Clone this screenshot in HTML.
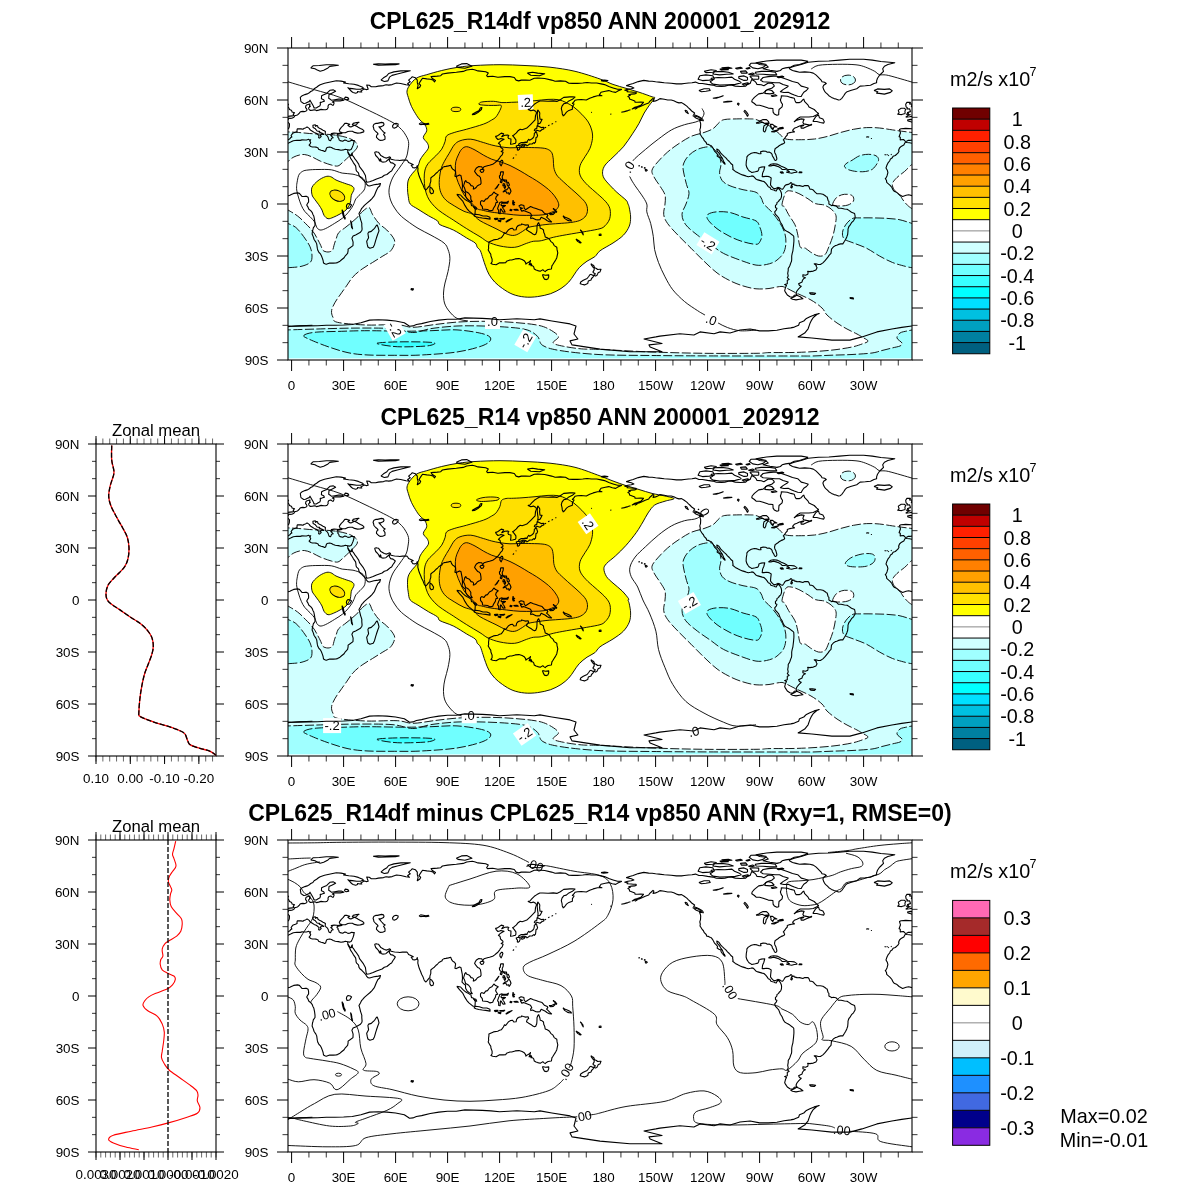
<!DOCTYPE html>
<html><head><meta charset="utf-8"><title>vp850</title><style>html,body{margin:0;padding:0;background:#fff;}svg{display:block}</style></head><body>
<svg width="1200" height="1200" viewBox="0 0 1200 1200" font-family="'Liberation Sans', sans-serif">
<rect width="1200" height="1200" fill="#fff"/>
<g transform="translate(288.0,48.0)">
<svg width="624" height="312" viewBox="0 0 624 312" overflow="hidden"><rect x="-5" y="-5" width="640" height="330" fill="#d0ffff"/>
<path d="M-5.0,-5.0 L630.0,-5.0 L630.0,84.5 L624.0,84.5 C622.3,84.3 616.9,83.6 613.6,83.2 C610.4,82.8 608.2,82.4 604.5,81.9 C600.8,81.4 595.8,80.4 591.5,80.0 C587.2,79.6 582.8,79.4 578.5,79.6 C574.2,79.8 569.8,80.5 565.5,81.3 C561.2,82.1 556.8,83.3 552.5,84.5 C548.2,85.7 543.8,87.3 539.5,88.4 C535.2,89.5 530.8,90.5 526.5,91.0 C522.2,91.5 518.3,91.7 513.5,91.7 C508.7,91.7 501.6,92.0 497.9,91.0 C494.2,90.0 493.8,87.8 491.4,85.8 C489.0,83.8 486.2,81.1 483.6,79.3 C481.0,77.5 478.4,76.1 475.8,74.8 C473.2,73.5 470.4,72.2 468.0,71.5 C465.6,70.8 464.8,71.0 461.5,70.9 C458.2,70.8 452.6,70.8 448.5,70.9 C444.4,71.0 439.6,71.0 436.8,71.5 C434.0,72.0 433.6,72.6 431.6,74.1 C429.7,75.6 427.7,78.9 425.1,80.6 C422.5,82.3 419.7,83.2 416.0,84.5 C412.3,85.8 407.3,86.5 403.0,88.4 C398.7,90.4 393.9,93.6 390.0,96.2 C386.1,98.8 382.9,101.2 379.6,104.0 C376.4,106.8 373.1,110.1 370.5,113.1 C367.9,116.1 364.6,119.4 364.0,122.2 C363.4,125.0 365.3,127.4 366.6,130.0 C367.9,132.6 370.1,135.0 371.8,137.8 C373.5,140.6 376.1,143.9 377.0,146.9 C377.9,149.9 377.2,152.8 377.0,156.0 C376.8,159.2 375.3,163.2 375.7,166.4 C376.1,169.7 377.2,172.0 379.6,175.5 C382.0,179.0 386.1,183.1 390.0,187.2 C393.9,191.3 398.7,195.9 403.0,200.2 C407.3,204.5 411.7,209.1 416.0,213.2 C420.3,217.3 424.7,221.7 429.0,224.9 C433.3,228.2 437.7,230.5 442.0,232.7 C446.3,234.9 450.7,236.6 455.0,237.9 C459.3,239.2 463.7,240.4 468.0,240.8 C472.3,241.2 477.1,240.9 481.0,240.5 C484.9,240.1 488.8,238.8 491.4,238.6 C494.0,238.4 494.0,238.2 496.6,239.2 C499.2,240.2 502.6,242.3 507.0,244.4 C511.4,246.5 518.5,249.4 523.0,252.0 C527.5,254.6 531.3,257.5 534.0,260.0 C536.7,262.5 536.5,264.5 539.0,267.0 C541.5,269.5 545.7,272.7 549.0,275.0 C552.3,277.3 555.7,279.2 559.0,281.0 C562.3,282.8 566.5,284.7 569.0,286.0 C571.5,287.3 572.2,287.8 574.0,289.0 C575.8,290.2 580.0,291.8 580.0,293.0 C580.0,294.2 576.7,295.0 574.0,296.0 C571.3,297.0 568.2,298.1 564.0,299.0 C559.8,299.9 554.0,300.8 549.0,301.5 C544.0,302.2 539.0,302.6 534.0,303.0 C529.0,303.4 524.0,303.8 519.0,304.0 C514.0,304.2 510.3,304.4 504.0,304.5 C497.7,304.6 487.0,304.5 481.0,304.6 C475.0,304.7 478.8,305.2 468.0,305.3 C457.2,305.4 433.3,305.5 416.0,305.3 C398.7,305.1 381.3,304.6 364.0,304.0 C346.7,303.4 323.7,301.9 312.0,301.4 C300.3,300.9 299.9,301.4 293.8,300.9 C287.7,300.4 280.4,299.3 275.6,298.3 C270.8,297.3 266.1,296.5 265.2,294.9 C264.3,293.2 271.3,290.8 270.4,288.4 C269.5,286.0 263.9,282.6 260.0,280.6 C256.1,278.7 253.5,277.8 247.0,276.7 C240.5,275.6 229.7,274.7 221.0,274.1 C212.3,273.5 203.7,273.3 195.0,273.3 C186.3,273.3 177.2,273.5 169.0,274.1 C160.8,274.7 153.0,275.8 145.6,276.7 C138.2,277.6 130.9,279.3 124.8,279.3 C118.7,279.3 117.0,277.1 109.2,276.7 C101.4,276.3 88.0,277.4 78.0,277.0 C68.0,276.6 54.9,275.6 49.4,274.3 C43.9,273.0 45.9,271.1 44.9,269.1 C43.9,267.2 43.3,265.0 43.6,262.6 C43.9,260.2 45.4,257.4 46.8,254.8 C48.2,252.2 50.0,249.8 52.0,247.0 C54.0,244.2 56.3,240.9 58.5,237.9 C60.7,234.9 62.4,231.6 65.0,228.8 C67.6,226.0 70.8,223.4 74.1,221.0 C77.3,218.6 81.0,216.7 84.5,214.5 C88.0,212.3 91.9,209.9 94.9,208.0 C97.9,206.1 100.8,205.0 102.7,202.8 C104.7,200.6 106.2,197.2 106.6,195.0 C107.0,192.8 106.6,192.0 105.3,189.8 C104.0,187.6 101.2,184.4 98.8,182.0 C96.4,179.6 93.4,178.1 91.0,175.5 C88.6,172.9 86.2,169.1 84.5,166.4 C82.8,163.7 82.6,160.0 81.0,159.5 C79.4,159.0 76.5,161.8 74.7,163.3 C72.9,164.8 71.9,166.8 70.0,168.7 C68.1,170.6 65.5,172.8 63.3,174.7 C61.1,176.6 58.8,178.3 56.7,180.0 C54.6,181.7 52.2,182.8 50.7,184.7 C49.2,186.6 48.8,189.2 48.0,191.3 C47.2,193.4 46.5,195.5 46.0,197.3 C45.5,199.1 45.3,201.0 44.7,202.0 C44.1,203.0 43.3,203.2 42.5,203.5 C41.7,203.8 40.9,204.0 40.0,204.0 C39.1,204.0 37.9,203.8 37.0,203.5 C36.1,203.2 35.4,203.0 34.7,202.0 C34.0,201.0 33.5,199.0 32.7,197.3 C31.9,195.6 31.0,193.9 30.0,192.0 C29.0,190.1 28.0,188.0 26.7,186.0 C25.4,184.0 23.6,181.8 22.0,180.0 C20.4,178.2 19.0,177.0 17.3,175.3 C15.6,173.6 13.8,171.6 12.0,170.0 C10.2,168.4 8.7,167.3 6.7,166.0 C4.7,164.7 1.1,162.7 0.0,162.0 L-5.0,162.0 L-5.0,113.7 L0.0,113.7 C0.5,113.2 1.8,111.5 3.3,110.5 C4.8,109.5 6.5,108.5 8.7,107.8 C10.9,107.1 13.8,106.3 16.3,106.5 C18.8,106.7 21.1,107.7 23.8,108.8 C26.5,109.9 29.2,111.8 32.5,113.2 C35.8,114.6 40.4,116.2 43.3,117.0 C46.2,117.8 48.0,118.4 49.8,118.0 C51.6,117.6 52.4,116.3 54.2,114.8 C56.0,113.3 58.7,110.7 60.7,108.8 C62.7,106.9 64.7,105.0 66.1,103.4 C67.5,101.8 68.9,100.5 69.3,99.1 C69.7,97.7 69.4,96.1 68.3,94.8 C67.2,93.5 65.1,92.1 62.8,91.0 C60.4,89.9 57.5,89.0 54.2,88.3 C51.0,87.6 46.9,87.0 43.3,86.6 C39.7,86.2 36.1,86.3 32.5,86.1 C28.9,85.9 25.3,85.8 21.7,85.5 C18.1,85.2 14.4,84.8 10.8,84.5 C7.2,84.2 1.8,84.0 0.0,83.9 L-5.0,83.9 L-5.0,-5.0Z" fill="#ffffff"/>
<path d="M630.0,116.8 L623.3,116.8 C622.2,117.9 618.9,121.4 616.5,123.5 C614.1,125.6 611.0,127.5 609.0,129.5 C607.0,131.5 605.0,133.5 604.5,135.5 C604.0,137.5 604.8,139.5 606.0,141.5 C607.2,143.5 610.5,145.8 612.0,147.5 C613.5,149.2 613.8,150.4 615.0,152.0 C616.2,153.6 618.1,155.9 619.5,157.3 C620.9,158.7 622.7,159.8 623.3,160.3 L630.0,160.3 L630.0,116.8Z" fill="#ffffff"/>
<path d="M494.0,156.5 C494.2,154.1 496.4,146.6 497.9,144.3 C499.4,142.1 500.9,142.8 503.1,143.0 C505.3,143.2 508.1,144.3 510.9,145.6 C513.7,146.9 517.3,149.2 520.0,150.8 C522.7,152.5 524.8,154.6 527.0,155.5 C529.2,156.4 531.4,156.2 533.0,156.5 C534.6,156.8 535.2,156.5 536.9,157.3 C538.6,158.1 541.5,159.5 543.4,161.2 C545.2,162.9 547.4,165.1 548.0,167.7 C548.6,170.3 547.8,173.3 547.3,176.8 C546.8,180.3 545.8,184.8 544.7,188.5 C543.6,192.2 542.1,195.9 540.8,198.9 C539.5,201.9 538.6,205.2 536.9,206.7 C535.2,208.2 532.8,208.4 530.4,208.0 C528.0,207.6 524.8,205.4 522.6,204.1 C520.4,202.8 519.1,201.1 517.4,200.2 C515.7,199.3 513.5,201.3 512.2,198.9 C510.9,196.5 510.5,189.6 509.6,185.9 C508.7,182.2 508.5,180.1 507.0,176.8 C505.5,173.6 502.2,169.4 500.5,166.4 C498.8,163.4 497.7,160.7 496.6,159.0 C495.5,157.3 493.8,158.9 494.0,156.5Z" fill="#ffffff"/>
<path d="M544.7,157.0 C544.1,155.6 546.7,151.3 548.6,149.5 C550.5,147.7 553.8,146.6 556.4,146.3 C559.0,146.0 562.7,146.5 564.2,147.6 C565.7,148.7 566.2,151.4 565.5,153.0 C564.8,154.6 562.2,156.2 560.0,157.0 C557.8,157.8 554.5,158.0 552.0,158.0 C549.5,158.0 545.3,158.4 544.7,157.0Z" fill="#ffffff"/>
<ellipse cx="560" cy="32" rx="7.5" ry="4.9" transform="rotate(0 560 32)" fill="#d0ffff"/>
<path d="M395.2,117.0 C395.9,114.0 398.0,110.5 400.4,107.9 C402.8,105.3 406.2,102.9 409.5,101.4 C412.8,99.9 417.3,99.0 419.9,98.8 C422.5,98.6 423.2,98.4 425.1,100.1 C427.1,101.8 430.3,106.4 431.6,109.2 C432.9,112.0 432.9,114.4 432.9,117.0 C432.9,119.6 431.4,122.2 431.6,124.8 C431.8,127.4 432.5,130.4 434.2,132.6 C435.9,134.8 438.5,136.3 442.0,137.8 C445.5,139.3 450.7,140.6 455.0,141.7 C459.3,142.8 465.0,142.9 468.0,144.3 C471.0,145.7 471.9,148.1 473.2,150.0 C474.5,151.9 474.1,153.7 475.8,156.0 C477.5,158.3 481.0,160.8 483.6,163.8 C486.2,166.8 489.2,170.7 491.4,174.2 C493.6,177.7 495.5,181.1 496.6,184.6 C497.7,188.1 498.1,191.5 497.9,195.0 C497.7,198.5 497.0,202.4 495.3,205.4 C493.6,208.4 490.3,211.3 487.5,213.2 C484.7,215.0 481.6,215.8 478.4,216.5 C475.1,217.2 471.9,217.7 468.0,217.1 C464.1,216.5 460.4,215.1 455.0,213.2 C449.6,211.2 440.9,208.2 435.5,205.4 C430.1,202.6 426.8,199.3 422.5,196.3 C418.2,193.3 413.6,190.4 409.5,187.2 C405.4,183.9 400.4,180.3 397.8,176.8 C395.2,173.3 394.0,169.9 394.0,166.4 C394.0,162.9 396.8,159.5 398.0,156.0 C399.2,152.5 400.9,148.8 401.0,145.6 C401.1,142.3 399.3,139.8 398.5,136.5 C397.7,133.2 396.6,129.3 396.0,126.1 C395.4,122.8 394.5,120.0 395.2,117.0Z" fill="#a0ffff"/>
<path d="M564.0,112.3 C566.1,111.1 568.8,108.8 571.5,107.8 C574.2,106.8 577.8,106.3 580.5,106.3 C583.2,106.3 586.3,106.9 588.0,107.8 C589.7,108.7 590.5,110.1 590.6,111.5 C590.7,112.9 589.8,114.4 588.8,116.0 C587.8,117.6 586.2,120.0 584.3,121.3 C582.4,122.5 580.1,123.1 577.5,123.5 C574.9,123.9 571.4,123.8 568.5,123.5 C565.6,123.2 562.0,122.4 560.0,121.5 C558.0,120.6 556.6,119.4 556.4,118.3 C556.2,117.2 557.7,116.0 559.0,115.0 C560.3,114.0 561.9,113.5 564.0,112.3Z" fill="#a0ffff"/>
<path d="M630.0,175.5 L624.0,175.4 C621.8,174.8 615.3,172.4 611.0,171.6 C606.7,170.8 602.3,170.6 598.0,170.3 C593.7,170.0 589.3,170.0 585.0,169.9 C580.7,169.8 575.5,169.8 572.0,169.9 C568.5,170.0 566.6,169.4 564.2,170.6 C561.8,171.8 559.3,174.5 557.7,176.8 C556.1,179.1 554.7,182.2 554.5,184.6 C554.3,187.0 554.6,189.4 556.4,191.1 C558.2,192.8 561.8,193.5 565.5,195.0 C569.2,196.5 574.2,198.0 578.5,200.2 C582.8,202.4 587.2,205.6 591.5,208.0 C595.8,210.4 600.2,212.8 604.5,214.5 C608.8,216.2 614.2,217.5 617.5,218.4 C620.8,219.3 622.9,219.5 624.0,219.7 L630.0,219.7 L630.0,175.5Z" fill="#a0ffff"/>
<path d="M-6.0,175.5 L0.0,175.5 C1.3,176.2 5.2,177.2 7.8,179.4 C10.4,181.6 13.2,185.2 15.6,188.5 C18.0,191.8 20.7,195.7 22.1,198.9 C23.5,202.2 24.0,205.4 24.0,208.0 C24.0,210.6 23.9,212.8 22.1,214.5 C20.3,216.2 16.7,217.5 13.0,218.4 C9.3,219.3 2.2,219.5 0.0,219.7 L-6.0,219.7 L-6.0,175.5Z" fill="#a0ffff"/>
<path d="M-6.0,282.0 L0.0,281.9 C4.3,281.8 15.2,281.4 26.0,281.1 C36.8,280.8 52.0,280.2 65.0,280.1 C78.0,280.0 94.0,279.9 104.0,280.6 C114.0,281.3 118.3,284.5 124.8,284.5 C131.3,284.5 135.6,281.7 143.0,280.6 C150.4,279.5 160.3,278.4 169.0,278.0 C177.7,277.6 186.3,277.8 195.0,278.0 C203.7,278.2 213.6,278.7 221.0,279.3 C228.4,279.9 234.4,280.4 239.2,281.9 C244.0,283.4 247.0,285.8 249.6,288.4 C252.2,291.0 250.9,295.1 254.8,297.5 C258.7,299.9 263.5,301.2 273.0,302.7 C282.5,304.2 296.8,305.8 312.0,306.6 C327.2,307.4 346.7,307.3 364.0,307.5 C381.3,307.7 392.7,307.8 416.0,307.9 C439.3,308.0 486.0,308.0 504.0,308.0 C522.0,308.0 517.3,308.1 524.0,308.0 C530.7,307.9 537.3,307.4 544.0,307.2 C550.7,306.9 557.3,306.9 564.0,306.5 C570.7,306.1 579.0,305.7 584.0,305.0 C589.0,304.3 590.7,303.3 594.0,302.5 C597.3,301.7 601.0,300.8 604.0,300.0 C607.0,299.2 610.3,298.8 612.0,298.0 C613.7,297.2 614.5,296.3 614.0,295.0 C613.5,293.7 609.3,291.7 609.0,290.0 C608.7,288.3 610.3,286.2 612.0,285.0 C613.7,283.8 617.0,283.5 619.0,283.0 C621.0,282.5 623.2,282.2 624.0,282.0 L630.0,282.0 L630.0,320.0 L-6.0,320.0 L-6.0,282.0Z" fill="#a0ffff"/>
<path d="M419.9,166.4 C421.4,165.1 425.3,164.1 429.0,163.8 C432.7,163.5 437.7,163.6 442.0,164.5 C446.3,165.4 450.7,167.6 455.0,169.0 C459.3,170.4 465.2,171.2 468.0,172.9 C470.8,174.6 470.9,177.0 471.9,179.4 C472.9,181.8 473.9,184.8 473.9,187.2 C473.9,189.6 472.9,192.2 471.9,193.7 C470.9,195.2 470.8,196.3 468.0,196.3 C465.2,196.3 459.3,195.0 455.0,193.7 C450.7,192.4 446.3,190.7 442.0,188.5 C437.7,186.3 432.7,183.5 429.0,180.7 C425.3,177.9 421.4,174.0 419.9,171.6 C418.4,169.2 418.4,167.7 419.9,166.4Z" fill="#70ffff"/>
<path d="M16.0,287.3 C17.1,286.2 20.5,285.0 26.7,284.3 C32.9,283.6 44.4,283.6 53.3,283.3 C62.2,283.0 69.4,282.7 80.0,282.7 C90.6,282.7 106.5,283.2 117.0,283.2 C127.5,283.2 134.3,282.9 143.0,282.7 C151.7,282.5 160.3,281.4 169.0,281.9 C177.7,282.4 189.4,284.3 195.0,285.8 C200.6,287.3 202.8,289.1 202.8,291.0 C202.8,292.9 200.6,295.3 195.0,297.5 C189.4,299.7 179.3,302.4 169.0,304.0 C158.7,305.6 143.7,306.4 133.3,307.0 C122.9,307.6 115.6,307.3 106.7,307.3 C97.8,307.3 87.8,307.4 80.0,307.0 C72.2,306.6 66.7,306.1 60.0,304.7 C53.3,303.3 46.7,301.0 40.0,298.7 C33.3,296.4 24.0,292.6 20.0,290.7 C16.0,288.8 14.9,288.4 16.0,287.3Z" fill="#70ffff"/>
<path d="M89.0,295.5 C88.3,294.8 94.8,294.5 100.0,294.2 C105.2,293.9 113.3,293.8 120.0,293.8 C126.7,293.8 135.5,293.9 140.0,294.2 C144.5,294.4 147.0,294.7 147.0,295.3 C147.0,295.9 144.5,297.2 140.0,297.8 C135.5,298.4 126.0,298.7 120.0,298.8 C114.0,298.9 109.2,298.9 104.0,298.3 C98.8,297.8 89.7,296.2 89.0,295.5Z" fill="#38ffff"/>
<path d="M119.0,43.0 C119.3,40.9 120.4,38.9 122.0,36.7 C123.6,34.5 125.9,31.7 128.7,30.0 C131.5,28.3 134.5,27.9 138.7,26.7 C142.9,25.4 148.4,23.8 153.7,22.5 C159.0,21.2 164.8,20.0 170.3,19.2 C175.9,18.4 180.1,17.9 187.0,17.5 C193.9,17.1 203.7,16.7 212.0,16.7 C220.3,16.7 228.7,17.1 237.0,17.5 C245.3,17.9 253.7,18.2 262.0,19.2 C270.3,20.2 278.7,21.3 287.0,23.3 C295.3,25.3 305.7,28.8 312.0,31.0 C318.3,33.2 320.7,34.9 325.0,36.4 C329.3,37.9 333.7,39.0 338.0,40.3 C342.3,41.6 346.7,42.8 351.0,44.2 C355.3,45.6 361.4,47.8 364.0,48.8 C366.6,49.8 367.0,48.7 366.6,50.1 C366.2,51.5 363.1,54.7 361.4,57.2 C359.7,59.7 357.9,62.0 356.2,65.0 C354.5,68.0 352.9,71.9 351.0,75.4 C349.1,78.9 347.1,81.9 344.5,85.8 C341.9,89.7 338.6,94.9 335.4,98.8 C332.1,102.7 328.0,106.2 325.0,109.2 C322.0,112.2 318.9,114.6 317.2,117.0 C315.5,119.4 314.8,121.3 314.6,123.5 C314.4,125.7 314.6,127.6 315.9,130.0 C317.2,132.4 320.2,135.4 322.4,137.8 C324.6,140.2 326.3,141.9 328.9,144.3 C331.5,146.7 336.1,150.2 338.0,152.1 C339.9,154.0 339.4,154.7 340.0,156.0 C340.6,157.3 340.9,157.7 341.3,159.9 C341.7,162.1 342.6,166.0 342.6,169.0 C342.6,172.0 342.5,175.1 341.3,178.1 C340.1,181.1 338.1,184.4 335.4,187.2 C332.7,190.0 328.9,192.4 325.0,195.0 C321.1,197.6 315.0,200.5 312.0,202.8 C309.0,205.1 309.0,207.0 306.8,208.7 C304.6,210.4 301.6,211.4 299.0,213.2 C296.4,215.0 293.4,217.4 291.2,219.7 C289.0,222.0 287.7,224.5 286.0,226.9 C284.3,229.3 283.0,231.7 280.8,234.0 C278.6,236.3 276.0,238.6 273.0,240.5 C270.0,242.4 266.5,244.3 262.6,245.7 C258.7,247.0 253.9,248.0 249.6,248.6 C245.3,249.2 240.7,249.4 236.6,249.0 C232.5,248.6 228.6,247.8 224.9,246.4 C221.2,245.0 217.5,242.6 214.5,240.5 C211.5,238.4 209.0,236.4 206.7,234.0 C204.4,231.6 202.4,228.8 200.9,226.2 C199.4,223.6 198.6,221.0 197.6,218.4 C196.6,215.8 195.9,213.2 195.0,210.6 C194.1,208.0 193.3,204.7 192.4,202.8 C191.5,200.9 190.2,200.6 189.3,199.3 C188.4,198.0 189.0,196.6 187.2,195.0 C185.4,193.4 182.3,192.2 178.7,190.0 C175.0,187.8 169.8,184.2 165.3,182.0 C160.9,179.8 154.6,178.2 152.0,176.7 C149.4,175.2 151.4,174.4 149.5,172.9 C147.6,171.4 143.7,169.6 140.4,167.7 C137.2,165.8 133.0,163.1 130.0,161.2 C127.0,159.2 123.8,158.1 122.2,156.0 C120.6,153.9 120.8,151.3 120.3,148.7 C119.8,146.1 119.5,143.1 119.5,140.3 C119.5,137.5 119.5,134.5 120.3,132.0 C121.1,129.5 123.0,127.4 124.5,125.3 C126.0,123.2 128.2,121.7 129.5,119.5 C130.8,117.3 131.0,114.1 132.0,112.0 C133.0,109.9 133.9,109.0 135.3,107.0 C136.7,105.0 139.6,102.2 140.3,100.3 C141.0,98.3 140.3,97.1 139.5,95.3 C138.7,93.5 135.4,91.6 135.3,89.5 C135.2,87.4 138.4,84.9 138.7,82.8 C139.0,80.7 138.1,78.8 137.0,77.0 C135.9,75.2 133.4,73.6 132.0,72.0 C130.6,70.4 130.1,69.8 128.7,67.6 C127.3,65.3 124.9,61.5 123.5,58.5 C122.1,55.5 121.0,52.0 120.3,49.4 C119.5,46.8 118.7,45.1 119.0,43.0Z" fill="#ffff00"/>
<path d="M24.0,139.3 C25.0,137.0 27.8,134.5 30.0,132.7 C32.2,130.9 35.2,129.4 37.3,128.7 C39.4,128.0 40.9,128.1 42.7,128.7 C44.5,129.2 45.7,130.9 48.0,132.0 C50.3,133.1 54.0,134.3 56.7,135.3 C59.4,136.3 62.5,137.0 64.0,138.0 C65.5,139.0 66.1,139.8 66.0,141.3 C65.9,142.9 63.8,145.4 63.3,147.3 C62.8,149.2 63.0,151.0 62.7,152.7 C62.4,154.4 62.1,155.8 61.3,157.3 C60.5,158.9 59.5,160.6 58.0,162.0 C56.5,163.4 54.1,164.8 52.0,166.0 C49.9,167.2 47.3,168.5 45.3,169.3 C43.3,170.1 41.5,171.0 40.0,170.7 C38.5,170.4 37.0,168.8 36.0,167.3 C35.0,165.9 34.9,163.8 34.0,162.0 C33.1,160.2 31.9,158.5 30.7,156.7 C29.5,154.9 27.8,153.0 26.7,151.3 C25.6,149.6 24.4,148.7 24.0,146.7 C23.6,144.7 23.0,141.6 24.0,139.3Z" fill="#ffff00"/>
<path d="M165.3,172.0 C162.0,169.8 161.2,169.5 158.7,167.8 C156.2,166.1 152.8,164.1 150.3,162.0 C147.8,159.9 145.5,157.5 143.7,155.3 C141.9,153.1 140.6,151.2 139.5,148.7 C138.4,146.2 137.6,143.4 137.0,140.3 C136.4,137.2 136.2,133.4 136.2,130.3 C136.2,127.3 136.3,124.5 137.0,122.0 C137.7,119.5 138.5,117.7 140.3,115.3 C142.1,112.9 145.6,110.1 147.8,107.8 C150.0,105.5 152.2,103.5 153.7,101.2 C155.2,98.9 156.2,95.9 157.0,93.7 C157.8,91.5 157.2,89.3 158.7,87.8 C160.2,86.3 162.9,85.6 166.2,84.5 C169.5,83.4 173.8,82.6 178.7,81.2 C183.5,79.8 191.1,77.7 195.3,76.2 C199.5,74.7 201.6,73.2 203.7,72.0 C205.8,70.8 206.6,70.5 208.0,68.9 C209.4,67.3 211.0,64.3 211.9,62.4 C212.8,60.5 213.8,58.3 213.2,57.5 C212.5,56.7 210.5,57.4 208.0,57.4 C205.5,57.4 200.8,57.5 198.0,57.3 C195.2,57.1 191.8,56.9 191.1,56.4 C190.4,55.9 191.3,54.5 193.7,54.0 C196.1,53.5 202.0,53.2 205.4,53.3 C208.8,53.4 210.9,54.4 213.9,54.6 C216.9,54.8 220.2,54.4 223.6,54.3 C226.9,54.2 230.1,54.1 234.0,53.8 C237.9,53.5 242.7,53.1 247.0,52.7 C251.3,52.3 256.1,51.6 260.0,51.4 C263.9,51.2 267.4,51.2 270.4,51.7 C273.4,52.2 275.6,53.4 278.2,54.6 C280.8,55.9 283.4,57.2 286.0,59.2 C288.6,61.2 291.4,63.8 293.8,66.3 C296.2,68.8 298.7,71.5 300.3,74.1 C301.9,76.7 303.0,79.3 303.7,82.0 C304.4,84.7 304.8,87.2 304.5,90.3 C304.2,93.3 303.2,97.2 302.0,100.3 C300.8,103.4 298.7,105.8 297.0,108.7 C295.3,111.6 292.8,114.8 292.0,117.8 C291.2,120.8 291.0,124.1 292.0,127.0 C293.0,129.9 295.3,132.5 297.8,135.3 C300.3,138.1 303.9,140.9 307.0,143.7 C310.1,146.5 313.8,149.5 316.2,152.0 C318.6,154.5 320.2,156.5 321.2,158.7 C322.2,160.9 322.4,163.1 322.4,165.3 C322.4,167.5 322.1,169.9 321.2,172.0 C320.3,174.1 318.5,176.4 317.0,177.8 C315.5,179.2 315.1,179.8 312.0,180.7 C308.9,181.6 304.2,182.3 298.7,183.3 C293.1,184.3 284.3,185.7 278.7,186.7 C273.1,187.7 269.5,188.3 265.3,189.3 C261.1,190.3 256.6,192.0 253.3,192.7 C250.0,193.4 247.7,192.9 245.3,193.3 C242.9,193.7 241.8,194.3 238.7,195.3 C235.6,196.3 231.1,198.9 226.7,199.3 C222.2,199.8 216.4,198.9 212.0,198.0 C207.6,197.1 203.3,195.6 200.0,194.0 C196.7,192.4 195.6,190.9 192.0,188.7 C188.4,186.5 183.1,183.5 178.7,180.7 C174.2,177.9 168.6,174.2 165.3,172.0Z" fill="#ffe000"/>
<ellipse cx="49.3" cy="147.7" rx="8" ry="5" transform="rotate(25 49.3 147.7)" fill="#ffe000"/>
<ellipse cx="168" cy="61.4" rx="4.8" ry="2.2" transform="rotate(0 168 61.4)" fill="#ffe000"/>
<path d="M166.2,97.0 C168.0,94.9 169.2,93.8 172.0,92.8 C174.8,91.8 178.9,90.9 182.8,91.2 C186.7,91.5 191.8,93.5 195.3,94.5 C198.8,95.5 200.9,96.3 203.7,97.0 C206.5,97.7 208.9,98.2 212.0,98.7 C215.1,99.2 218.7,99.7 222.0,99.8 C225.3,99.9 228.9,99.5 232.0,99.5 C235.1,99.5 236.8,99.4 240.3,99.5 C243.8,99.6 249.6,99.6 252.8,99.9 C256.0,100.2 257.7,100.4 259.5,101.2 C261.3,102.0 262.7,102.8 263.7,104.5 C264.7,106.2 264.9,108.7 265.3,111.2 C265.7,113.7 265.2,116.9 265.8,119.5 C266.4,122.1 267.1,124.6 268.7,127.0 C270.3,129.4 272.8,131.3 275.3,133.7 C277.8,136.1 280.9,138.7 283.7,141.2 C286.5,143.7 289.6,146.3 292.0,148.7 C294.4,151.0 296.6,153.1 297.8,155.3 C299.1,157.5 299.5,159.9 299.5,162.0 C299.5,164.1 298.9,166.1 297.8,167.8 C296.7,169.5 294.9,170.9 292.8,172.0 C290.7,173.1 288.5,173.5 285.3,174.1 C282.1,174.7 277.7,175.0 273.7,175.3 C269.7,175.7 265.4,175.8 261.2,176.2 C257.0,176.6 252.2,177.2 248.7,177.8 C245.2,178.4 242.6,178.6 240.3,179.5 C238.0,180.4 237.0,182.0 234.7,183.3 C232.4,184.6 229.4,186.9 226.7,187.3 C224.0,187.8 221.8,187.1 218.7,186.0 C215.6,184.9 212.4,182.9 208.0,180.7 C203.6,178.5 195.9,175.1 192.0,172.7 C188.1,170.3 187.2,167.8 184.5,166.2 C181.8,164.6 179.1,164.7 176.0,163.3 C172.9,161.9 169.2,159.7 166.2,157.8 C163.2,155.9 160.0,154.2 157.8,152.0 C155.6,149.8 153.9,147.4 152.8,144.5 C151.7,141.6 151.2,138.2 151.2,134.5 C151.2,130.8 152.0,125.5 152.8,122.0 C153.6,118.5 154.8,116.5 156.2,113.7 C157.6,110.9 159.5,108.1 161.2,105.3 C162.9,102.5 164.4,99.1 166.2,97.0Z" fill="#ffc000"/>
<path d="M170.3,107.0 C171.3,104.9 172.3,102.6 173.7,101.2 C175.1,99.8 176.5,98.6 178.7,98.7 C180.9,98.8 184.2,100.6 187.0,102.0 C189.8,103.4 192.5,105.5 195.3,107.0 C198.1,108.5 200.9,110.1 203.7,111.2 C206.5,112.3 208.9,112.7 212.0,113.7 C215.1,114.8 218.7,116.0 222.0,117.5 C225.3,119.0 228.9,121.1 232.0,122.8 C235.1,124.5 237.5,126.1 240.3,127.8 C243.1,129.5 245.9,131.0 248.7,132.8 C251.5,134.6 254.5,136.8 257.0,138.7 C259.5,140.6 261.8,142.4 263.7,144.5 C265.6,146.6 267.5,149.1 268.7,151.2 C269.9,153.3 270.8,155.3 270.8,157.0 C270.8,158.7 269.6,160.1 268.7,161.2 C267.8,162.3 267.4,162.6 265.3,163.5 C263.2,164.4 259.3,166.1 256.0,166.7 C252.7,167.3 249.3,167.2 245.3,167.3 C241.3,167.4 236.4,167.5 232.0,167.3 C227.6,167.1 223.6,166.6 218.7,166.0 C213.8,165.4 206.9,164.7 202.7,164.0 C198.5,163.3 195.9,162.6 193.7,162.0 C191.5,161.4 191.4,162.2 189.3,160.7 C187.2,159.1 183.5,155.0 181.3,152.7 C179.1,150.4 177.8,149.3 176.2,147.0 C174.6,144.7 173.2,141.5 172.0,138.7 C170.8,135.9 169.5,133.1 168.7,130.3 C167.9,127.5 167.6,124.8 167.4,122.0 C167.2,119.2 167.3,116.2 167.8,113.7 C168.3,111.2 169.3,109.1 170.3,107.0Z" fill="#ffa000"/>
<rect x="-5" y="310.4" width="640" height="10" fill="#fff"/>
<path d="M-5.0,-5.0 L630.0,-5.0 L630.0,84.5 L624.0,84.5 C622.3,84.3 616.9,83.6 613.6,83.2 C610.4,82.8 608.2,82.4 604.5,81.9 C600.8,81.4 595.8,80.4 591.5,80.0 C587.2,79.6 582.8,79.4 578.5,79.6 C574.2,79.8 569.8,80.5 565.5,81.3 C561.2,82.1 556.8,83.3 552.5,84.5 C548.2,85.7 543.8,87.3 539.5,88.4 C535.2,89.5 530.8,90.5 526.5,91.0 C522.2,91.5 518.3,91.7 513.5,91.7 C508.7,91.7 501.6,92.0 497.9,91.0 C494.2,90.0 493.8,87.8 491.4,85.8 C489.0,83.8 486.2,81.1 483.6,79.3 C481.0,77.5 478.4,76.1 475.8,74.8 C473.2,73.5 470.4,72.2 468.0,71.5 C465.6,70.8 464.8,71.0 461.5,70.9 C458.2,70.8 452.6,70.8 448.5,70.9 C444.4,71.0 439.6,71.0 436.8,71.5 C434.0,72.0 433.6,72.6 431.6,74.1 C429.7,75.6 427.7,78.9 425.1,80.6 C422.5,82.3 419.7,83.2 416.0,84.5 C412.3,85.8 407.3,86.5 403.0,88.4 C398.7,90.4 393.9,93.6 390.0,96.2 C386.1,98.8 382.9,101.2 379.6,104.0 C376.4,106.8 373.1,110.1 370.5,113.1 C367.9,116.1 364.6,119.4 364.0,122.2 C363.4,125.0 365.3,127.4 366.6,130.0 C367.9,132.6 370.1,135.0 371.8,137.8 C373.5,140.6 376.1,143.9 377.0,146.9 C377.9,149.9 377.2,152.8 377.0,156.0 C376.8,159.2 375.3,163.2 375.7,166.4 C376.1,169.7 377.2,172.0 379.6,175.5 C382.0,179.0 386.1,183.1 390.0,187.2 C393.9,191.3 398.7,195.9 403.0,200.2 C407.3,204.5 411.7,209.1 416.0,213.2 C420.3,217.3 424.7,221.7 429.0,224.9 C433.3,228.2 437.7,230.5 442.0,232.7 C446.3,234.9 450.7,236.6 455.0,237.9 C459.3,239.2 463.7,240.4 468.0,240.8 C472.3,241.2 477.1,240.9 481.0,240.5 C484.9,240.1 488.8,238.8 491.4,238.6 C494.0,238.4 494.0,238.2 496.6,239.2 C499.2,240.2 502.6,242.3 507.0,244.4 C511.4,246.5 518.5,249.4 523.0,252.0 C527.5,254.6 531.3,257.5 534.0,260.0 C536.7,262.5 536.5,264.5 539.0,267.0 C541.5,269.5 545.7,272.7 549.0,275.0 C552.3,277.3 555.7,279.2 559.0,281.0 C562.3,282.8 566.5,284.7 569.0,286.0 C571.5,287.3 572.2,287.8 574.0,289.0 C575.8,290.2 580.0,291.8 580.0,293.0 C580.0,294.2 576.7,295.0 574.0,296.0 C571.3,297.0 568.2,298.1 564.0,299.0 C559.8,299.9 554.0,300.8 549.0,301.5 C544.0,302.2 539.0,302.6 534.0,303.0 C529.0,303.4 524.0,303.8 519.0,304.0 C514.0,304.2 510.3,304.4 504.0,304.5 C497.7,304.6 487.0,304.5 481.0,304.6 C475.0,304.7 478.8,305.2 468.0,305.3 C457.2,305.4 433.3,305.5 416.0,305.3 C398.7,305.1 381.3,304.6 364.0,304.0 C346.7,303.4 323.7,301.9 312.0,301.4 C300.3,300.9 299.9,301.4 293.8,300.9 C287.7,300.4 280.4,299.3 275.6,298.3 C270.8,297.3 266.1,296.5 265.2,294.9 C264.3,293.2 271.3,290.8 270.4,288.4 C269.5,286.0 263.9,282.6 260.0,280.6 C256.1,278.7 253.5,277.8 247.0,276.7 C240.5,275.6 229.7,274.7 221.0,274.1 C212.3,273.5 203.7,273.3 195.0,273.3 C186.3,273.3 177.2,273.5 169.0,274.1 C160.8,274.7 153.0,275.8 145.6,276.7 C138.2,277.6 130.9,279.3 124.8,279.3 C118.7,279.3 117.0,277.1 109.2,276.7 C101.4,276.3 88.0,277.4 78.0,277.0 C68.0,276.6 54.9,275.6 49.4,274.3 C43.9,273.0 45.9,271.1 44.9,269.1 C43.9,267.2 43.3,265.0 43.6,262.6 C43.9,260.2 45.4,257.4 46.8,254.8 C48.2,252.2 50.0,249.8 52.0,247.0 C54.0,244.2 56.3,240.9 58.5,237.9 C60.7,234.9 62.4,231.6 65.0,228.8 C67.6,226.0 70.8,223.4 74.1,221.0 C77.3,218.6 81.0,216.7 84.5,214.5 C88.0,212.3 91.9,209.9 94.9,208.0 C97.9,206.1 100.8,205.0 102.7,202.8 C104.7,200.6 106.2,197.2 106.6,195.0 C107.0,192.8 106.6,192.0 105.3,189.8 C104.0,187.6 101.2,184.4 98.8,182.0 C96.4,179.6 93.4,178.1 91.0,175.5 C88.6,172.9 86.2,169.1 84.5,166.4 C82.8,163.7 82.6,160.0 81.0,159.5 C79.4,159.0 76.5,161.8 74.7,163.3 C72.9,164.8 71.9,166.8 70.0,168.7 C68.1,170.6 65.5,172.8 63.3,174.7 C61.1,176.6 58.8,178.3 56.7,180.0 C54.6,181.7 52.2,182.8 50.7,184.7 C49.2,186.6 48.8,189.2 48.0,191.3 C47.2,193.4 46.5,195.5 46.0,197.3 C45.5,199.1 45.3,201.0 44.7,202.0 C44.1,203.0 43.3,203.2 42.5,203.5 C41.7,203.8 40.9,204.0 40.0,204.0 C39.1,204.0 37.9,203.8 37.0,203.5 C36.1,203.2 35.4,203.0 34.7,202.0 C34.0,201.0 33.5,199.0 32.7,197.3 C31.9,195.6 31.0,193.9 30.0,192.0 C29.0,190.1 28.0,188.0 26.7,186.0 C25.4,184.0 23.6,181.8 22.0,180.0 C20.4,178.2 19.0,177.0 17.3,175.3 C15.6,173.6 13.8,171.6 12.0,170.0 C10.2,168.4 8.7,167.3 6.7,166.0 C4.7,164.7 1.1,162.7 0.0,162.0 L-5.0,162.0 L-5.0,113.7 L0.0,113.7 C0.5,113.2 1.8,111.5 3.3,110.5 C4.8,109.5 6.5,108.5 8.7,107.8 C10.9,107.1 13.8,106.3 16.3,106.5 C18.8,106.7 21.1,107.7 23.8,108.8 C26.5,109.9 29.2,111.8 32.5,113.2 C35.8,114.6 40.4,116.2 43.3,117.0 C46.2,117.8 48.0,118.4 49.8,118.0 C51.6,117.6 52.4,116.3 54.2,114.8 C56.0,113.3 58.7,110.7 60.7,108.8 C62.7,106.9 64.7,105.0 66.1,103.4 C67.5,101.8 68.9,100.5 69.3,99.1 C69.7,97.7 69.4,96.1 68.3,94.8 C67.2,93.5 65.1,92.1 62.8,91.0 C60.4,89.9 57.5,89.0 54.2,88.3 C51.0,87.6 46.9,87.0 43.3,86.6 C39.7,86.2 36.1,86.3 32.5,86.1 C28.9,85.9 25.3,85.8 21.7,85.5 C18.1,85.2 14.4,84.8 10.8,84.5 C7.2,84.2 1.8,84.0 0.0,83.9 L-5.0,83.9 L-5.0,-5.0Z" fill="none" stroke="#000" stroke-width="0.9" stroke-dasharray="9,2.5"/>
<path d="M630.0,116.8 L623.3,116.8 C622.2,117.9 618.9,121.4 616.5,123.5 C614.1,125.6 611.0,127.5 609.0,129.5 C607.0,131.5 605.0,133.5 604.5,135.5 C604.0,137.5 604.8,139.5 606.0,141.5 C607.2,143.5 610.5,145.8 612.0,147.5 C613.5,149.2 613.8,150.4 615.0,152.0 C616.2,153.6 618.1,155.9 619.5,157.3 C620.9,158.7 622.7,159.8 623.3,160.3 L630.0,160.3 L630.0,116.8Z" fill="none" stroke="#000" stroke-width="0.9" stroke-dasharray="9,2.5"/>
<path d="M494.0,156.5 C494.2,154.1 496.4,146.6 497.9,144.3 C499.4,142.1 500.9,142.8 503.1,143.0 C505.3,143.2 508.1,144.3 510.9,145.6 C513.7,146.9 517.3,149.2 520.0,150.8 C522.7,152.5 524.8,154.6 527.0,155.5 C529.2,156.4 531.4,156.2 533.0,156.5 C534.6,156.8 535.2,156.5 536.9,157.3 C538.6,158.1 541.5,159.5 543.4,161.2 C545.2,162.9 547.4,165.1 548.0,167.7 C548.6,170.3 547.8,173.3 547.3,176.8 C546.8,180.3 545.8,184.8 544.7,188.5 C543.6,192.2 542.1,195.9 540.8,198.9 C539.5,201.9 538.6,205.2 536.9,206.7 C535.2,208.2 532.8,208.4 530.4,208.0 C528.0,207.6 524.8,205.4 522.6,204.1 C520.4,202.8 519.1,201.1 517.4,200.2 C515.7,199.3 513.5,201.3 512.2,198.9 C510.9,196.5 510.5,189.6 509.6,185.9 C508.7,182.2 508.5,180.1 507.0,176.8 C505.5,173.6 502.2,169.4 500.5,166.4 C498.8,163.4 497.7,160.7 496.6,159.0 C495.5,157.3 493.8,158.9 494.0,156.5Z" fill="none" stroke="#000" stroke-width="0.9" stroke-dasharray="9,2.5"/>
<path d="M544.7,157.0 C544.1,155.6 546.7,151.3 548.6,149.5 C550.5,147.7 553.8,146.6 556.4,146.3 C559.0,146.0 562.7,146.5 564.2,147.6 C565.7,148.7 566.2,151.4 565.5,153.0 C564.8,154.6 562.2,156.2 560.0,157.0 C557.8,157.8 554.5,158.0 552.0,158.0 C549.5,158.0 545.3,158.4 544.7,157.0Z" fill="none" stroke="#000" stroke-width="0.9" stroke-dasharray="9,2.5"/>
<ellipse cx="560" cy="32" rx="7.5" ry="4.9" transform="rotate(0 560 32)" fill="none" stroke="#000" stroke-width="0.9" stroke-dasharray="9,2.5"/>
<path d="M395.2,117.0 C395.9,114.0 398.0,110.5 400.4,107.9 C402.8,105.3 406.2,102.9 409.5,101.4 C412.8,99.9 417.3,99.0 419.9,98.8 C422.5,98.6 423.2,98.4 425.1,100.1 C427.1,101.8 430.3,106.4 431.6,109.2 C432.9,112.0 432.9,114.4 432.9,117.0 C432.9,119.6 431.4,122.2 431.6,124.8 C431.8,127.4 432.5,130.4 434.2,132.6 C435.9,134.8 438.5,136.3 442.0,137.8 C445.5,139.3 450.7,140.6 455.0,141.7 C459.3,142.8 465.0,142.9 468.0,144.3 C471.0,145.7 471.9,148.1 473.2,150.0 C474.5,151.9 474.1,153.7 475.8,156.0 C477.5,158.3 481.0,160.8 483.6,163.8 C486.2,166.8 489.2,170.7 491.4,174.2 C493.6,177.7 495.5,181.1 496.6,184.6 C497.7,188.1 498.1,191.5 497.9,195.0 C497.7,198.5 497.0,202.4 495.3,205.4 C493.6,208.4 490.3,211.3 487.5,213.2 C484.7,215.0 481.6,215.8 478.4,216.5 C475.1,217.2 471.9,217.7 468.0,217.1 C464.1,216.5 460.4,215.1 455.0,213.2 C449.6,211.2 440.9,208.2 435.5,205.4 C430.1,202.6 426.8,199.3 422.5,196.3 C418.2,193.3 413.6,190.4 409.5,187.2 C405.4,183.9 400.4,180.3 397.8,176.8 C395.2,173.3 394.0,169.9 394.0,166.4 C394.0,162.9 396.8,159.5 398.0,156.0 C399.2,152.5 400.9,148.8 401.0,145.6 C401.1,142.3 399.3,139.8 398.5,136.5 C397.7,133.2 396.6,129.3 396.0,126.1 C395.4,122.8 394.5,120.0 395.2,117.0Z" fill="none" stroke="#000" stroke-width="0.9" stroke-dasharray="9,2.5"/>
<path d="M564.0,112.3 C566.1,111.1 568.8,108.8 571.5,107.8 C574.2,106.8 577.8,106.3 580.5,106.3 C583.2,106.3 586.3,106.9 588.0,107.8 C589.7,108.7 590.5,110.1 590.6,111.5 C590.7,112.9 589.8,114.4 588.8,116.0 C587.8,117.6 586.2,120.0 584.3,121.3 C582.4,122.5 580.1,123.1 577.5,123.5 C574.9,123.9 571.4,123.8 568.5,123.5 C565.6,123.2 562.0,122.4 560.0,121.5 C558.0,120.6 556.6,119.4 556.4,118.3 C556.2,117.2 557.7,116.0 559.0,115.0 C560.3,114.0 561.9,113.5 564.0,112.3Z" fill="none" stroke="#000" stroke-width="0.9" stroke-dasharray="9,2.5"/>
<path d="M630.0,175.5 L624.0,175.4 C621.8,174.8 615.3,172.4 611.0,171.6 C606.7,170.8 602.3,170.6 598.0,170.3 C593.7,170.0 589.3,170.0 585.0,169.9 C580.7,169.8 575.5,169.8 572.0,169.9 C568.5,170.0 566.6,169.4 564.2,170.6 C561.8,171.8 559.3,174.5 557.7,176.8 C556.1,179.1 554.7,182.2 554.5,184.6 C554.3,187.0 554.6,189.4 556.4,191.1 C558.2,192.8 561.8,193.5 565.5,195.0 C569.2,196.5 574.2,198.0 578.5,200.2 C582.8,202.4 587.2,205.6 591.5,208.0 C595.8,210.4 600.2,212.8 604.5,214.5 C608.8,216.2 614.2,217.5 617.5,218.4 C620.8,219.3 622.9,219.5 624.0,219.7 L630.0,219.7 L630.0,175.5Z" fill="none" stroke="#000" stroke-width="0.9" stroke-dasharray="9,2.5"/>
<path d="M-6.0,175.5 L0.0,175.5 C1.3,176.2 5.2,177.2 7.8,179.4 C10.4,181.6 13.2,185.2 15.6,188.5 C18.0,191.8 20.7,195.7 22.1,198.9 C23.5,202.2 24.0,205.4 24.0,208.0 C24.0,210.6 23.9,212.8 22.1,214.5 C20.3,216.2 16.7,217.5 13.0,218.4 C9.3,219.3 2.2,219.5 0.0,219.7 L-6.0,219.7 L-6.0,175.5Z" fill="none" stroke="#000" stroke-width="0.9" stroke-dasharray="9,2.5"/>
<path d="M-6.0,282.0 L0.0,281.9 C4.3,281.8 15.2,281.4 26.0,281.1 C36.8,280.8 52.0,280.2 65.0,280.1 C78.0,280.0 94.0,279.9 104.0,280.6 C114.0,281.3 118.3,284.5 124.8,284.5 C131.3,284.5 135.6,281.7 143.0,280.6 C150.4,279.5 160.3,278.4 169.0,278.0 C177.7,277.6 186.3,277.8 195.0,278.0 C203.7,278.2 213.6,278.7 221.0,279.3 C228.4,279.9 234.4,280.4 239.2,281.9 C244.0,283.4 247.0,285.8 249.6,288.4 C252.2,291.0 250.9,295.1 254.8,297.5 C258.7,299.9 263.5,301.2 273.0,302.7 C282.5,304.2 296.8,305.8 312.0,306.6 C327.2,307.4 346.7,307.3 364.0,307.5 C381.3,307.7 392.7,307.8 416.0,307.9 C439.3,308.0 486.0,308.0 504.0,308.0 C522.0,308.0 517.3,308.1 524.0,308.0 C530.7,307.9 537.3,307.4 544.0,307.2 C550.7,306.9 557.3,306.9 564.0,306.5 C570.7,306.1 579.0,305.7 584.0,305.0 C589.0,304.3 590.7,303.3 594.0,302.5 C597.3,301.7 601.0,300.8 604.0,300.0 C607.0,299.2 610.3,298.8 612.0,298.0 C613.7,297.2 614.5,296.3 614.0,295.0 C613.5,293.7 609.3,291.7 609.0,290.0 C608.7,288.3 610.3,286.2 612.0,285.0 C613.7,283.8 617.0,283.5 619.0,283.0 C621.0,282.5 623.2,282.2 624.0,282.0 L630.0,282.0 L630.0,320.0 L-6.0,320.0 L-6.0,282.0Z" fill="none" stroke="#000" stroke-width="0.9" stroke-dasharray="9,2.5"/>
<path d="M419.9,166.4 C421.4,165.1 425.3,164.1 429.0,163.8 C432.7,163.5 437.7,163.6 442.0,164.5 C446.3,165.4 450.7,167.6 455.0,169.0 C459.3,170.4 465.2,171.2 468.0,172.9 C470.8,174.6 470.9,177.0 471.9,179.4 C472.9,181.8 473.9,184.8 473.9,187.2 C473.9,189.6 472.9,192.2 471.9,193.7 C470.9,195.2 470.8,196.3 468.0,196.3 C465.2,196.3 459.3,195.0 455.0,193.7 C450.7,192.4 446.3,190.7 442.0,188.5 C437.7,186.3 432.7,183.5 429.0,180.7 C425.3,177.9 421.4,174.0 419.9,171.6 C418.4,169.2 418.4,167.7 419.9,166.4Z" fill="none" stroke="#000" stroke-width="0.9" stroke-dasharray="9,2.5"/>
<path d="M16.0,287.3 C17.1,286.2 20.5,285.0 26.7,284.3 C32.9,283.6 44.4,283.6 53.3,283.3 C62.2,283.0 69.4,282.7 80.0,282.7 C90.6,282.7 106.5,283.2 117.0,283.2 C127.5,283.2 134.3,282.9 143.0,282.7 C151.7,282.5 160.3,281.4 169.0,281.9 C177.7,282.4 189.4,284.3 195.0,285.8 C200.6,287.3 202.8,289.1 202.8,291.0 C202.8,292.9 200.6,295.3 195.0,297.5 C189.4,299.7 179.3,302.4 169.0,304.0 C158.7,305.6 143.7,306.4 133.3,307.0 C122.9,307.6 115.6,307.3 106.7,307.3 C97.8,307.3 87.8,307.4 80.0,307.0 C72.2,306.6 66.7,306.1 60.0,304.7 C53.3,303.3 46.7,301.0 40.0,298.7 C33.3,296.4 24.0,292.6 20.0,290.7 C16.0,288.8 14.9,288.4 16.0,287.3Z" fill="none" stroke="#000" stroke-width="0.9" stroke-dasharray="9,2.5"/>
<path d="M89.0,295.5 C88.3,294.8 94.8,294.5 100.0,294.2 C105.2,293.9 113.3,293.8 120.0,293.8 C126.7,293.8 135.5,293.9 140.0,294.2 C144.5,294.4 147.0,294.7 147.0,295.3 C147.0,295.9 144.5,297.2 140.0,297.8 C135.5,298.4 126.0,298.7 120.0,298.8 C114.0,298.9 109.2,298.9 104.0,298.3 C98.8,297.8 89.7,296.2 89.0,295.5Z" fill="none" stroke="#000" stroke-width="0.9" stroke-dasharray="9,2.5"/>
<path d="M119.0,43.0 C119.3,40.9 120.4,38.9 122.0,36.7 C123.6,34.5 125.9,31.7 128.7,30.0 C131.5,28.3 134.5,27.9 138.7,26.7 C142.9,25.4 148.4,23.8 153.7,22.5 C159.0,21.2 164.8,20.0 170.3,19.2 C175.9,18.4 180.1,17.9 187.0,17.5 C193.9,17.1 203.7,16.7 212.0,16.7 C220.3,16.7 228.7,17.1 237.0,17.5 C245.3,17.9 253.7,18.2 262.0,19.2 C270.3,20.2 278.7,21.3 287.0,23.3 C295.3,25.3 305.7,28.8 312.0,31.0 C318.3,33.2 320.7,34.9 325.0,36.4 C329.3,37.9 333.7,39.0 338.0,40.3 C342.3,41.6 346.7,42.8 351.0,44.2 C355.3,45.6 361.4,47.8 364.0,48.8 C366.6,49.8 367.0,48.7 366.6,50.1 C366.2,51.5 363.1,54.7 361.4,57.2 C359.7,59.7 357.9,62.0 356.2,65.0 C354.5,68.0 352.9,71.9 351.0,75.4 C349.1,78.9 347.1,81.9 344.5,85.8 C341.9,89.7 338.6,94.9 335.4,98.8 C332.1,102.7 328.0,106.2 325.0,109.2 C322.0,112.2 318.9,114.6 317.2,117.0 C315.5,119.4 314.8,121.3 314.6,123.5 C314.4,125.7 314.6,127.6 315.9,130.0 C317.2,132.4 320.2,135.4 322.4,137.8 C324.6,140.2 326.3,141.9 328.9,144.3 C331.5,146.7 336.1,150.2 338.0,152.1 C339.9,154.0 339.4,154.7 340.0,156.0 C340.6,157.3 340.9,157.7 341.3,159.9 C341.7,162.1 342.6,166.0 342.6,169.0 C342.6,172.0 342.5,175.1 341.3,178.1 C340.1,181.1 338.1,184.4 335.4,187.2 C332.7,190.0 328.9,192.4 325.0,195.0 C321.1,197.6 315.0,200.5 312.0,202.8 C309.0,205.1 309.0,207.0 306.8,208.7 C304.6,210.4 301.6,211.4 299.0,213.2 C296.4,215.0 293.4,217.4 291.2,219.7 C289.0,222.0 287.7,224.5 286.0,226.9 C284.3,229.3 283.0,231.7 280.8,234.0 C278.6,236.3 276.0,238.6 273.0,240.5 C270.0,242.4 266.5,244.3 262.6,245.7 C258.7,247.0 253.9,248.0 249.6,248.6 C245.3,249.2 240.7,249.4 236.6,249.0 C232.5,248.6 228.6,247.8 224.9,246.4 C221.2,245.0 217.5,242.6 214.5,240.5 C211.5,238.4 209.0,236.4 206.7,234.0 C204.4,231.6 202.4,228.8 200.9,226.2 C199.4,223.6 198.6,221.0 197.6,218.4 C196.6,215.8 195.9,213.2 195.0,210.6 C194.1,208.0 193.3,204.7 192.4,202.8 C191.5,200.9 190.2,200.6 189.3,199.3 C188.4,198.0 189.0,196.6 187.2,195.0 C185.4,193.4 182.3,192.2 178.7,190.0 C175.0,187.8 169.8,184.2 165.3,182.0 C160.9,179.8 154.6,178.2 152.0,176.7 C149.4,175.2 151.4,174.4 149.5,172.9 C147.6,171.4 143.7,169.6 140.4,167.7 C137.2,165.8 133.0,163.1 130.0,161.2 C127.0,159.2 123.8,158.1 122.2,156.0 C120.6,153.9 120.8,151.3 120.3,148.7 C119.8,146.1 119.5,143.1 119.5,140.3 C119.5,137.5 119.5,134.5 120.3,132.0 C121.1,129.5 123.0,127.4 124.5,125.3 C126.0,123.2 128.2,121.7 129.5,119.5 C130.8,117.3 131.0,114.1 132.0,112.0 C133.0,109.9 133.9,109.0 135.3,107.0 C136.7,105.0 139.6,102.2 140.3,100.3 C141.0,98.3 140.3,97.1 139.5,95.3 C138.7,93.5 135.4,91.6 135.3,89.5 C135.2,87.4 138.4,84.9 138.7,82.8 C139.0,80.7 138.1,78.8 137.0,77.0 C135.9,75.2 133.4,73.6 132.0,72.0 C130.6,70.4 130.1,69.8 128.7,67.6 C127.3,65.3 124.9,61.5 123.5,58.5 C122.1,55.5 121.0,52.0 120.3,49.4 C119.5,46.8 118.7,45.1 119.0,43.0Z" fill="none" stroke="#000" stroke-width="0.9"/>
<path d="M24.0,139.3 C25.0,137.0 27.8,134.5 30.0,132.7 C32.2,130.9 35.2,129.4 37.3,128.7 C39.4,128.0 40.9,128.1 42.7,128.7 C44.5,129.2 45.7,130.9 48.0,132.0 C50.3,133.1 54.0,134.3 56.7,135.3 C59.4,136.3 62.5,137.0 64.0,138.0 C65.5,139.0 66.1,139.8 66.0,141.3 C65.9,142.9 63.8,145.4 63.3,147.3 C62.8,149.2 63.0,151.0 62.7,152.7 C62.4,154.4 62.1,155.8 61.3,157.3 C60.5,158.9 59.5,160.6 58.0,162.0 C56.5,163.4 54.1,164.8 52.0,166.0 C49.9,167.2 47.3,168.5 45.3,169.3 C43.3,170.1 41.5,171.0 40.0,170.7 C38.5,170.4 37.0,168.8 36.0,167.3 C35.0,165.9 34.9,163.8 34.0,162.0 C33.1,160.2 31.9,158.5 30.7,156.7 C29.5,154.9 27.8,153.0 26.7,151.3 C25.6,149.6 24.4,148.7 24.0,146.7 C23.6,144.7 23.0,141.6 24.0,139.3Z" fill="none" stroke="#000" stroke-width="0.9"/>
<path d="M165.3,172.0 C162.0,169.8 161.2,169.5 158.7,167.8 C156.2,166.1 152.8,164.1 150.3,162.0 C147.8,159.9 145.5,157.5 143.7,155.3 C141.9,153.1 140.6,151.2 139.5,148.7 C138.4,146.2 137.6,143.4 137.0,140.3 C136.4,137.2 136.2,133.4 136.2,130.3 C136.2,127.3 136.3,124.5 137.0,122.0 C137.7,119.5 138.5,117.7 140.3,115.3 C142.1,112.9 145.6,110.1 147.8,107.8 C150.0,105.5 152.2,103.5 153.7,101.2 C155.2,98.9 156.2,95.9 157.0,93.7 C157.8,91.5 157.2,89.3 158.7,87.8 C160.2,86.3 162.9,85.6 166.2,84.5 C169.5,83.4 173.8,82.6 178.7,81.2 C183.5,79.8 191.1,77.7 195.3,76.2 C199.5,74.7 201.6,73.2 203.7,72.0 C205.8,70.8 206.6,70.5 208.0,68.9 C209.4,67.3 211.0,64.3 211.9,62.4 C212.8,60.5 213.8,58.3 213.2,57.5 C212.5,56.7 210.5,57.4 208.0,57.4 C205.5,57.4 200.8,57.5 198.0,57.3 C195.2,57.1 191.8,56.9 191.1,56.4 C190.4,55.9 191.3,54.5 193.7,54.0 C196.1,53.5 202.0,53.2 205.4,53.3 C208.8,53.4 210.9,54.4 213.9,54.6 C216.9,54.8 220.2,54.4 223.6,54.3 C226.9,54.2 230.1,54.1 234.0,53.8 C237.9,53.5 242.7,53.1 247.0,52.7 C251.3,52.3 256.1,51.6 260.0,51.4 C263.9,51.2 267.4,51.2 270.4,51.7 C273.4,52.2 275.6,53.4 278.2,54.6 C280.8,55.9 283.4,57.2 286.0,59.2 C288.6,61.2 291.4,63.8 293.8,66.3 C296.2,68.8 298.7,71.5 300.3,74.1 C301.9,76.7 303.0,79.3 303.7,82.0 C304.4,84.7 304.8,87.2 304.5,90.3 C304.2,93.3 303.2,97.2 302.0,100.3 C300.8,103.4 298.7,105.8 297.0,108.7 C295.3,111.6 292.8,114.8 292.0,117.8 C291.2,120.8 291.0,124.1 292.0,127.0 C293.0,129.9 295.3,132.5 297.8,135.3 C300.3,138.1 303.9,140.9 307.0,143.7 C310.1,146.5 313.8,149.5 316.2,152.0 C318.6,154.5 320.2,156.5 321.2,158.7 C322.2,160.9 322.4,163.1 322.4,165.3 C322.4,167.5 322.1,169.9 321.2,172.0 C320.3,174.1 318.5,176.4 317.0,177.8 C315.5,179.2 315.1,179.8 312.0,180.7 C308.9,181.6 304.2,182.3 298.7,183.3 C293.1,184.3 284.3,185.7 278.7,186.7 C273.1,187.7 269.5,188.3 265.3,189.3 C261.1,190.3 256.6,192.0 253.3,192.7 C250.0,193.4 247.7,192.9 245.3,193.3 C242.9,193.7 241.8,194.3 238.7,195.3 C235.6,196.3 231.1,198.9 226.7,199.3 C222.2,199.8 216.4,198.9 212.0,198.0 C207.6,197.1 203.3,195.6 200.0,194.0 C196.7,192.4 195.6,190.9 192.0,188.7 C188.4,186.5 183.1,183.5 178.7,180.7 C174.2,177.9 168.6,174.2 165.3,172.0Z" fill="none" stroke="#000" stroke-width="0.9"/>
<ellipse cx="49.3" cy="147.7" rx="8" ry="5" transform="rotate(25 49.3 147.7)" fill="none" stroke="#000" stroke-width="0.9"/>
<ellipse cx="168" cy="61.4" rx="4.8" ry="2.2" transform="rotate(0 168 61.4)" fill="none" stroke="#000" stroke-width="0.9"/>
<path d="M166.2,97.0 C168.0,94.9 169.2,93.8 172.0,92.8 C174.8,91.8 178.9,90.9 182.8,91.2 C186.7,91.5 191.8,93.5 195.3,94.5 C198.8,95.5 200.9,96.3 203.7,97.0 C206.5,97.7 208.9,98.2 212.0,98.7 C215.1,99.2 218.7,99.7 222.0,99.8 C225.3,99.9 228.9,99.5 232.0,99.5 C235.1,99.5 236.8,99.4 240.3,99.5 C243.8,99.6 249.6,99.6 252.8,99.9 C256.0,100.2 257.7,100.4 259.5,101.2 C261.3,102.0 262.7,102.8 263.7,104.5 C264.7,106.2 264.9,108.7 265.3,111.2 C265.7,113.7 265.2,116.9 265.8,119.5 C266.4,122.1 267.1,124.6 268.7,127.0 C270.3,129.4 272.8,131.3 275.3,133.7 C277.8,136.1 280.9,138.7 283.7,141.2 C286.5,143.7 289.6,146.3 292.0,148.7 C294.4,151.0 296.6,153.1 297.8,155.3 C299.1,157.5 299.5,159.9 299.5,162.0 C299.5,164.1 298.9,166.1 297.8,167.8 C296.7,169.5 294.9,170.9 292.8,172.0 C290.7,173.1 288.5,173.5 285.3,174.1 C282.1,174.7 277.7,175.0 273.7,175.3 C269.7,175.7 265.4,175.8 261.2,176.2 C257.0,176.6 252.2,177.2 248.7,177.8 C245.2,178.4 242.6,178.6 240.3,179.5 C238.0,180.4 237.0,182.0 234.7,183.3 C232.4,184.6 229.4,186.9 226.7,187.3 C224.0,187.8 221.8,187.1 218.7,186.0 C215.6,184.9 212.4,182.9 208.0,180.7 C203.6,178.5 195.9,175.1 192.0,172.7 C188.1,170.3 187.2,167.8 184.5,166.2 C181.8,164.6 179.1,164.7 176.0,163.3 C172.9,161.9 169.2,159.7 166.2,157.8 C163.2,155.9 160.0,154.2 157.8,152.0 C155.6,149.8 153.9,147.4 152.8,144.5 C151.7,141.6 151.2,138.2 151.2,134.5 C151.2,130.8 152.0,125.5 152.8,122.0 C153.6,118.5 154.8,116.5 156.2,113.7 C157.6,110.9 159.5,108.1 161.2,105.3 C162.9,102.5 164.4,99.1 166.2,97.0Z" fill="none" stroke="#000" stroke-width="0.9"/>
<path d="M170.3,107.0 C171.3,104.9 172.3,102.6 173.7,101.2 C175.1,99.8 176.5,98.6 178.7,98.7 C180.9,98.8 184.2,100.6 187.0,102.0 C189.8,103.4 192.5,105.5 195.3,107.0 C198.1,108.5 200.9,110.1 203.7,111.2 C206.5,112.3 208.9,112.7 212.0,113.7 C215.1,114.8 218.7,116.0 222.0,117.5 C225.3,119.0 228.9,121.1 232.0,122.8 C235.1,124.5 237.5,126.1 240.3,127.8 C243.1,129.5 245.9,131.0 248.7,132.8 C251.5,134.6 254.5,136.8 257.0,138.7 C259.5,140.6 261.8,142.4 263.7,144.5 C265.6,146.6 267.5,149.1 268.7,151.2 C269.9,153.3 270.8,155.3 270.8,157.0 C270.8,158.7 269.6,160.1 268.7,161.2 C267.8,162.3 267.4,162.6 265.3,163.5 C263.2,164.4 259.3,166.1 256.0,166.7 C252.7,167.3 249.3,167.2 245.3,167.3 C241.3,167.4 236.4,167.5 232.0,167.3 C227.6,167.1 223.6,166.6 218.7,166.0 C213.8,165.4 206.9,164.7 202.7,164.0 C198.5,163.3 195.9,162.6 193.7,162.0 C191.5,161.4 191.4,162.2 189.3,160.7 C187.2,159.1 183.5,155.0 181.3,152.7 C179.1,150.4 177.8,149.3 176.2,147.0 C174.6,144.7 173.2,141.5 172.0,138.7 C170.8,135.9 169.5,133.1 168.7,130.3 C167.9,127.5 167.6,124.8 167.4,122.0 C167.2,119.2 167.3,116.2 167.8,113.7 C168.3,111.2 169.3,109.1 170.3,107.0Z" fill="none" stroke="#000" stroke-width="0.9"/>
<path d="M523.2,21.0 C524.5,20.4 526.4,18.1 530.7,17.3 C535.1,16.5 543.1,16.4 549.3,16.3 C555.5,16.2 563.3,16.3 568.0,16.8 C572.7,17.3 574.3,18.0 577.4,19.1 C580.5,20.2 584.4,22.1 586.7,23.3 C589.0,24.6 589.1,25.9 591.4,26.6 C593.7,27.3 595.3,26.2 600.7,27.5 C606.1,28.8 620.1,33.0 624.0,34.1 L630.0,35.8" fill="none" stroke="#000" stroke-width="0.9"/>
<path d="M-6.0,32.0 L0.0,33.8 C4.3,35.1 17.3,39.0 26.0,41.6 C34.7,44.2 43.3,46.1 52.0,49.4 C60.7,52.6 69.3,57.0 78.0,61.1 C86.7,65.2 98.3,70.9 104.0,74.1 C109.7,77.2 109.8,78.0 112.0,80.0 C114.2,82.0 115.6,83.7 117.0,86.0 C118.4,88.3 120.0,90.9 120.5,93.6 C121.0,96.3 120.4,99.3 120.0,102.0 C119.6,104.7 119.3,107.2 118.0,110.0 C116.7,112.8 114.2,115.7 112.0,119.0 C109.8,122.3 106.3,126.2 104.5,130.0 C102.7,133.8 101.3,138.3 101.0,142.0 C100.7,145.7 101.6,149.0 102.5,152.0 C103.4,155.0 105.0,157.5 106.6,160.0 C108.2,162.5 109.9,164.9 112.0,167.0 C114.1,169.1 116.0,170.6 119.0,172.8 C122.0,175.0 126.0,177.9 130.0,180.3 C134.0,182.7 138.7,184.8 143.0,187.2 C147.3,189.6 153.2,192.6 156.0,195.0 C158.8,197.4 159.0,198.9 160.0,201.5 C161.0,204.1 161.9,206.9 161.9,210.6 C161.9,214.3 160.8,219.5 160.0,223.6 C159.2,227.7 157.8,231.4 157.0,235.0 C156.2,238.6 155.6,241.7 155.5,245.0 C155.4,248.3 155.6,252.0 156.5,255.0 C157.4,258.0 158.9,260.4 161.0,263.0 C163.1,265.6 165.8,268.7 169.0,270.4 C172.2,272.1 178.2,272.6 180.0,273.0" fill="none" stroke="#000" stroke-width="0.9"/>
<path d="M8.7,136.7 C9.0,135.1 9.7,129.5 10.7,127.3 C11.7,125.1 13.1,124.2 14.7,123.3 C16.2,122.4 17.4,122.3 20.0,122.0 C22.6,121.7 26.1,121.5 30.0,121.5 C33.9,121.5 39.3,121.2 43.3,121.8 C47.3,122.4 50.6,124.4 54.2,125.1 C57.8,125.8 61.8,125.5 65.0,126.2 C68.2,126.9 71.7,128.1 73.7,129.4 C75.7,130.7 76.5,132.1 77.0,134.0 C77.5,135.9 77.3,138.8 76.7,140.7 C76.1,142.6 74.8,143.6 73.3,145.3 C71.8,147.0 69.2,149.0 68.0,150.7 C66.8,152.4 66.7,153.9 66.0,155.3 C65.3,156.7 65.0,157.7 64.0,159.3 C63.0,160.9 61.5,162.9 60.0,164.7 C58.5,166.5 56.9,168.2 54.7,170.0 C52.5,171.8 49.6,173.5 46.7,175.3 C43.8,177.1 39.8,179.6 37.3,180.7 C34.8,181.8 33.4,182.2 32.0,182.0 C30.6,181.8 29.6,180.6 28.7,179.3 C27.8,178.0 27.8,175.8 26.7,174.0 C25.6,172.2 23.7,170.5 22.0,168.7 C20.3,166.9 18.1,165.2 16.7,163.3 C15.2,161.4 14.3,159.5 13.3,157.3 C12.3,155.1 11.5,152.6 10.7,150.0 C9.9,147.4 9.0,144.2 8.7,142.0 C8.4,139.8 8.7,137.6 8.7,136.7" fill="none" stroke="#000" stroke-width="0.9"/>
<path d="M414.0,60.5 C414.3,61.4 416.5,64.0 416.0,66.0 C415.5,68.0 414.1,71.0 410.8,72.8 C407.6,74.6 401.1,75.2 396.5,76.7 C391.9,78.2 387.8,79.5 383.5,81.9 C379.2,84.3 374.8,87.8 370.5,91.0 C366.2,94.2 361.8,97.7 357.5,101.4 C353.2,105.1 347.2,109.8 344.5,113.1 C341.8,116.4 341.4,118.4 341.0,121.0 C340.6,123.6 340.9,125.9 341.9,128.7 C342.9,131.5 345.2,134.8 347.1,137.8 C349.1,140.8 351.7,143.9 353.6,146.9 C355.6,149.9 357.9,153.2 358.8,156.0 C359.7,158.8 358.2,160.6 358.8,163.8 C359.4,167.1 361.6,171.4 362.7,175.5 C363.8,179.6 364.6,184.2 365.3,188.5 C366.0,192.8 365.7,197.2 366.6,201.5 C367.5,205.8 368.8,209.9 370.5,214.5 C372.2,219.1 374.6,224.2 377.0,228.8 C379.4,233.4 381.6,237.7 384.8,241.8 C388.1,245.9 392.4,250.0 396.5,253.5 C400.6,257.0 406.2,260.4 409.5,262.6 C412.8,264.8 412.8,264.6 416.0,266.5 C419.2,268.4 425.1,272.1 429.0,274.3 C432.9,276.5 435.5,278.1 439.4,279.5 C443.3,280.9 447.6,282.4 452.4,282.8 C457.2,283.2 465.4,282.2 468.0,282.1" fill="none" stroke="#000" stroke-width="0.9"/>
<g transform="translate(237.6,54.2) rotate(-3)"><rect x="-7.5" y="-7.5" width="15" height="15" fill="#fff"/><text x="0" y="4.6" text-anchor="middle" font-size="13">.2</text></g>
<g transform="translate(420.0,195.3) rotate(32)"><rect x="-9.0" y="-7.5" width="18" height="15" fill="#fff"/><text x="0" y="4.6" text-anchor="middle" font-size="13">-.2</text></g>
<g transform="translate(204.5,273.5) rotate(0)"><rect x="-7.5" y="-7.5" width="15" height="15" fill="#fff"/><text x="0" y="4.6" text-anchor="middle" font-size="13">.0</text></g>
<g transform="translate(106.7,281.3) rotate(60)"><rect x="-9.0" y="-7.5" width="18" height="15" fill="#fff"/><text x="0" y="4.6" text-anchor="middle" font-size="13">-.2</text></g>
<g transform="translate(237.3,292.7) rotate(-60)"><rect x="-9.0" y="-7.5" width="18" height="15" fill="#fff"/><text x="0" y="4.6" text-anchor="middle" font-size="13">-.2</text></g>
<g transform="translate(423.3,271.7) rotate(20)"><rect x="-7.5" y="-7.5" width="15" height="15" fill="#fff"/><text x="0" y="4.6" text-anchor="middle" font-size="13">.0</text></g>
<g transform="translate(340.6,119.0) rotate(-60)"><rect x="-7.5" y="-7.5" width="15" height="15" fill="#fff"/><text x="0" y="4.6" text-anchor="middle" font-size="13">.0</text></g>
<use href="#coast"/>
</svg></g>
<g transform="translate(288.0,444.0)">
<svg width="624" height="312" viewBox="0 0 624 312" overflow="hidden"><rect x="-5" y="-5" width="640" height="330" fill="#d0ffff"/>
<path d="M-5.0,-5.0 L630.0,-5.0 L630.0,84.5 L624.0,84.5 C622.3,84.3 616.9,83.6 613.6,83.2 C610.4,82.8 608.2,82.4 604.5,81.9 C600.8,81.4 595.8,80.4 591.5,80.0 C587.2,79.6 582.8,79.4 578.5,79.6 C574.2,79.8 569.8,80.5 565.5,81.3 C561.2,82.1 556.8,83.3 552.5,84.5 C548.2,85.7 543.8,87.3 539.5,88.4 C535.2,89.5 530.8,90.5 526.5,91.0 C522.2,91.5 518.3,91.7 513.5,91.7 C508.7,91.7 501.6,92.0 497.9,91.0 C494.2,90.0 493.8,87.8 491.4,85.8 C489.0,83.8 486.2,81.1 483.6,79.3 C481.0,77.5 478.4,76.1 475.8,74.8 C473.2,73.5 470.4,72.2 468.0,71.5 C465.6,70.8 464.8,71.0 461.5,70.9 C458.2,70.8 452.6,70.8 448.5,70.9 C444.4,71.0 439.6,71.0 436.8,71.5 C434.0,72.0 433.6,72.6 431.6,74.1 C429.7,75.6 427.7,78.9 425.1,80.6 C422.5,82.3 419.7,83.2 416.0,84.5 C412.3,85.8 407.3,86.5 403.0,88.4 C398.7,90.4 393.9,93.6 390.0,96.2 C386.1,98.8 382.9,101.2 379.6,104.0 C376.4,106.8 373.1,110.1 370.5,113.1 C367.9,116.1 364.6,119.4 364.0,122.2 C363.4,125.0 365.3,127.4 366.6,130.0 C367.9,132.6 370.1,135.0 371.8,137.8 C373.5,140.6 376.1,143.9 377.0,146.9 C377.9,149.9 377.2,152.8 377.0,156.0 C376.8,159.2 375.3,163.2 375.7,166.4 C376.1,169.7 377.2,172.0 379.6,175.5 C382.0,179.0 386.1,183.1 390.0,187.2 C393.9,191.3 398.7,195.9 403.0,200.2 C407.3,204.5 411.7,209.1 416.0,213.2 C420.3,217.3 424.7,221.7 429.0,224.9 C433.3,228.2 437.7,230.5 442.0,232.7 C446.3,234.9 450.7,236.6 455.0,237.9 C459.3,239.2 463.7,240.4 468.0,240.8 C472.3,241.2 477.1,240.9 481.0,240.5 C484.9,240.1 488.8,238.8 491.4,238.6 C494.0,238.4 494.0,238.2 496.6,239.2 C499.2,240.2 502.6,242.3 507.0,244.4 C511.4,246.5 518.5,249.4 523.0,252.0 C527.5,254.6 531.3,257.5 534.0,260.0 C536.7,262.5 536.5,264.5 539.0,267.0 C541.5,269.5 545.7,272.7 549.0,275.0 C552.3,277.3 555.7,279.2 559.0,281.0 C562.3,282.8 566.5,284.7 569.0,286.0 C571.5,287.3 572.2,287.8 574.0,289.0 C575.8,290.2 580.0,291.8 580.0,293.0 C580.0,294.2 576.7,295.0 574.0,296.0 C571.3,297.0 568.2,298.1 564.0,299.0 C559.8,299.9 554.0,300.8 549.0,301.5 C544.0,302.2 539.0,302.6 534.0,303.0 C529.0,303.4 524.0,303.8 519.0,304.0 C514.0,304.2 510.3,304.4 504.0,304.5 C497.7,304.6 487.0,304.5 481.0,304.6 C475.0,304.7 478.8,305.2 468.0,305.3 C457.2,305.4 433.3,305.5 416.0,305.3 C398.7,305.1 381.3,304.6 364.0,304.0 C346.7,303.4 323.7,301.9 312.0,301.4 C300.3,300.9 299.9,301.4 293.8,300.9 C287.7,300.4 280.4,299.3 275.6,298.3 C270.8,297.3 266.1,296.5 265.2,294.9 C264.3,293.2 271.3,290.8 270.4,288.4 C269.5,286.0 263.9,282.6 260.0,280.6 C256.1,278.7 253.5,277.8 247.0,276.7 C240.5,275.6 229.7,274.7 221.0,274.1 C212.3,273.5 203.7,273.3 195.0,273.3 C186.3,273.3 177.2,273.5 169.0,274.1 C160.8,274.7 153.0,275.8 145.6,276.7 C138.2,277.6 130.9,279.3 124.8,279.3 C118.7,279.3 117.0,277.1 109.2,276.7 C101.4,276.3 88.0,277.4 78.0,277.0 C68.0,276.6 54.9,275.6 49.4,274.3 C43.9,273.0 45.9,271.1 44.9,269.1 C43.9,267.2 43.3,265.0 43.6,262.6 C43.9,260.2 45.4,257.4 46.8,254.8 C48.2,252.2 50.0,249.8 52.0,247.0 C54.0,244.2 56.3,240.9 58.5,237.9 C60.7,234.9 62.4,231.6 65.0,228.8 C67.6,226.0 70.8,223.4 74.1,221.0 C77.3,218.6 81.0,216.7 84.5,214.5 C88.0,212.3 91.9,209.9 94.9,208.0 C97.9,206.1 100.8,205.0 102.7,202.8 C104.7,200.6 106.2,197.2 106.6,195.0 C107.0,192.8 106.6,192.0 105.3,189.8 C104.0,187.6 101.2,184.4 98.8,182.0 C96.4,179.6 93.4,178.1 91.0,175.5 C88.6,172.9 86.2,169.1 84.5,166.4 C82.8,163.7 82.6,160.0 81.0,159.5 C79.4,159.0 76.5,161.8 74.7,163.3 C72.9,164.8 71.9,166.8 70.0,168.7 C68.1,170.6 65.5,172.8 63.3,174.7 C61.1,176.6 58.8,178.3 56.7,180.0 C54.6,181.7 52.2,182.8 50.7,184.7 C49.2,186.6 48.8,189.2 48.0,191.3 C47.2,193.4 46.5,195.5 46.0,197.3 C45.5,199.1 45.3,201.0 44.7,202.0 C44.1,203.0 43.3,203.2 42.5,203.5 C41.7,203.8 40.9,204.0 40.0,204.0 C39.1,204.0 37.9,203.8 37.0,203.5 C36.1,203.2 35.4,203.0 34.7,202.0 C34.0,201.0 33.5,199.0 32.7,197.3 C31.9,195.6 31.0,193.9 30.0,192.0 C29.0,190.1 28.0,188.0 26.7,186.0 C25.4,184.0 23.6,181.8 22.0,180.0 C20.4,178.2 19.0,177.0 17.3,175.3 C15.6,173.6 13.8,171.6 12.0,170.0 C10.2,168.4 8.7,167.3 6.7,166.0 C4.7,164.7 1.1,162.7 0.0,162.0 L-5.0,162.0 L-5.0,113.7 L0.0,113.7 C0.5,113.2 1.8,111.5 3.3,110.5 C4.8,109.5 6.5,108.5 8.7,107.8 C10.9,107.1 13.8,106.3 16.3,106.5 C18.8,106.7 21.1,107.7 23.8,108.8 C26.5,109.9 29.2,111.8 32.5,113.2 C35.8,114.6 40.4,116.2 43.3,117.0 C46.2,117.8 48.0,118.4 49.8,118.0 C51.6,117.6 52.4,116.3 54.2,114.8 C56.0,113.3 58.7,110.7 60.7,108.8 C62.7,106.9 64.7,105.0 66.1,103.4 C67.5,101.8 68.9,100.5 69.3,99.1 C69.7,97.7 69.4,96.1 68.3,94.8 C67.2,93.5 65.1,92.1 62.8,91.0 C60.4,89.9 57.5,89.0 54.2,88.3 C51.0,87.6 46.9,87.0 43.3,86.6 C39.7,86.2 36.1,86.3 32.5,86.1 C28.9,85.9 25.3,85.8 21.7,85.5 C18.1,85.2 14.4,84.8 10.8,84.5 C7.2,84.2 1.8,84.0 0.0,83.9 L-5.0,83.9 L-5.0,-5.0Z" fill="#ffffff"/>
<path d="M630.0,116.8 L623.3,116.8 C622.2,117.9 618.9,121.4 616.5,123.5 C614.1,125.6 611.0,127.5 609.0,129.5 C607.0,131.5 605.0,133.5 604.5,135.5 C604.0,137.5 604.8,139.5 606.0,141.5 C607.2,143.5 610.5,145.8 612.0,147.5 C613.5,149.2 613.8,150.4 615.0,152.0 C616.2,153.6 618.1,155.9 619.5,157.3 C620.9,158.7 622.7,159.8 623.3,160.3 L630.0,160.3 L630.0,116.8Z" fill="#ffffff"/>
<path d="M494.0,156.5 C494.2,154.1 496.4,146.6 497.9,144.3 C499.4,142.1 500.9,142.8 503.1,143.0 C505.3,143.2 508.1,144.3 510.9,145.6 C513.7,146.9 517.3,149.2 520.0,150.8 C522.7,152.5 524.8,154.6 527.0,155.5 C529.2,156.4 531.4,156.2 533.0,156.5 C534.6,156.8 535.2,156.5 536.9,157.3 C538.6,158.1 541.5,159.5 543.4,161.2 C545.2,162.9 547.4,165.1 548.0,167.7 C548.6,170.3 547.8,173.3 547.3,176.8 C546.8,180.3 545.8,184.8 544.7,188.5 C543.6,192.2 542.1,195.9 540.8,198.9 C539.5,201.9 538.6,205.2 536.9,206.7 C535.2,208.2 532.8,208.4 530.4,208.0 C528.0,207.6 524.8,205.4 522.6,204.1 C520.4,202.8 519.1,201.1 517.4,200.2 C515.7,199.3 513.5,201.3 512.2,198.9 C510.9,196.5 510.5,189.6 509.6,185.9 C508.7,182.2 508.5,180.1 507.0,176.8 C505.5,173.6 502.2,169.4 500.5,166.4 C498.8,163.4 497.7,160.7 496.6,159.0 C495.5,157.3 493.8,158.9 494.0,156.5Z" fill="#ffffff"/>
<path d="M544.7,157.0 C544.1,155.6 546.7,151.3 548.6,149.5 C550.5,147.7 553.8,146.6 556.4,146.3 C559.0,146.0 562.7,146.5 564.2,147.6 C565.7,148.7 566.2,151.4 565.5,153.0 C564.8,154.6 562.2,156.2 560.0,157.0 C557.8,157.8 554.5,158.0 552.0,158.0 C549.5,158.0 545.3,158.4 544.7,157.0Z" fill="#ffffff"/>
<ellipse cx="560" cy="32" rx="7.5" ry="4.9" transform="rotate(0 560 32)" fill="#d0ffff"/>
<path d="M395.2,117.0 C395.9,114.0 398.0,110.5 400.4,107.9 C402.8,105.3 406.2,102.9 409.5,101.4 C412.8,99.9 417.3,99.0 419.9,98.8 C422.5,98.6 423.2,98.4 425.1,100.1 C427.1,101.8 430.3,106.4 431.6,109.2 C432.9,112.0 432.9,114.4 432.9,117.0 C432.9,119.6 431.4,122.2 431.6,124.8 C431.8,127.4 432.5,130.4 434.2,132.6 C435.9,134.8 438.5,136.3 442.0,137.8 C445.5,139.3 450.7,140.6 455.0,141.7 C459.3,142.8 465.0,142.9 468.0,144.3 C471.0,145.7 471.9,148.1 473.2,150.0 C474.5,151.9 474.1,153.7 475.8,156.0 C477.5,158.3 481.0,160.8 483.6,163.8 C486.2,166.8 489.2,170.7 491.4,174.2 C493.6,177.7 495.5,181.1 496.6,184.6 C497.7,188.1 498.1,191.5 497.9,195.0 C497.7,198.5 497.0,202.4 495.3,205.4 C493.6,208.4 490.3,211.3 487.5,213.2 C484.7,215.0 481.6,215.8 478.4,216.5 C475.1,217.2 471.9,217.7 468.0,217.1 C464.1,216.5 460.4,215.1 455.0,213.2 C449.6,211.2 440.9,208.2 435.5,205.4 C430.1,202.6 426.8,199.3 422.5,196.3 C418.2,193.3 413.6,190.4 409.5,187.2 C405.4,183.9 400.4,180.3 397.8,176.8 C395.2,173.3 394.0,169.9 394.0,166.4 C394.0,162.9 396.8,159.5 398.0,156.0 C399.2,152.5 400.9,148.8 401.0,145.6 C401.1,142.3 399.3,139.8 398.5,136.5 C397.7,133.2 396.6,129.3 396.0,126.1 C395.4,122.8 394.5,120.0 395.2,117.0Z" fill="#a0ffff"/>
<path d="M557.7,118.3 C558.6,116.9 561.4,114.5 564.2,113.1 C567.0,111.7 571.4,110.4 574.6,109.9 C577.9,109.4 581.6,109.4 583.7,109.9 C585.8,110.4 586.7,111.7 587.0,113.1 C587.3,114.5 587.1,116.8 585.7,118.3 C584.3,119.8 581.6,121.4 578.5,122.2 C575.4,123.0 570.0,123.0 566.8,122.9 C563.5,122.8 560.5,122.4 559.0,121.6 C557.5,120.8 556.8,119.7 557.7,118.3Z" fill="#a0ffff"/>
<path d="M630.0,175.5 L624.0,175.4 C621.8,174.8 615.3,172.4 611.0,171.6 C606.7,170.8 602.3,170.6 598.0,170.3 C593.7,170.0 589.3,170.0 585.0,169.9 C580.7,169.8 575.5,169.8 572.0,169.9 C568.5,170.0 566.6,169.4 564.2,170.6 C561.8,171.8 559.3,174.5 557.7,176.8 C556.1,179.1 554.7,182.2 554.5,184.6 C554.3,187.0 554.6,189.4 556.4,191.1 C558.2,192.8 561.8,193.5 565.5,195.0 C569.2,196.5 574.2,198.0 578.5,200.2 C582.8,202.4 587.2,205.6 591.5,208.0 C595.8,210.4 600.2,212.8 604.5,214.5 C608.8,216.2 614.2,217.5 617.5,218.4 C620.8,219.3 622.9,219.5 624.0,219.7 L630.0,219.7 L630.0,175.5Z" fill="#a0ffff"/>
<path d="M-6.0,175.5 L0.0,175.5 C1.3,176.2 5.2,177.2 7.8,179.4 C10.4,181.6 13.2,185.2 15.6,188.5 C18.0,191.8 20.7,195.7 22.1,198.9 C23.5,202.2 24.0,205.4 24.0,208.0 C24.0,210.6 23.9,212.8 22.1,214.5 C20.3,216.2 16.7,217.5 13.0,218.4 C9.3,219.3 2.2,219.5 0.0,219.7 L-6.0,219.7 L-6.0,175.5Z" fill="#a0ffff"/>
<path d="M-6.0,282.0 L0.0,281.9 C4.3,281.8 15.2,281.4 26.0,281.1 C36.8,280.8 52.0,280.2 65.0,280.1 C78.0,280.0 94.0,279.9 104.0,280.6 C114.0,281.3 118.3,284.5 124.8,284.5 C131.3,284.5 135.6,281.7 143.0,280.6 C150.4,279.5 160.3,278.4 169.0,278.0 C177.7,277.6 186.3,277.8 195.0,278.0 C203.7,278.2 213.6,278.7 221.0,279.3 C228.4,279.9 234.4,280.4 239.2,281.9 C244.0,283.4 247.0,285.8 249.6,288.4 C252.2,291.0 250.9,295.1 254.8,297.5 C258.7,299.9 263.5,301.2 273.0,302.7 C282.5,304.2 296.8,305.8 312.0,306.6 C327.2,307.4 346.7,307.3 364.0,307.5 C381.3,307.7 392.7,307.8 416.0,307.9 C439.3,308.0 486.0,308.0 504.0,308.0 C522.0,308.0 517.3,308.1 524.0,308.0 C530.7,307.9 537.3,307.4 544.0,307.2 C550.7,306.9 557.3,306.9 564.0,306.5 C570.7,306.1 579.0,305.7 584.0,305.0 C589.0,304.3 590.7,303.3 594.0,302.5 C597.3,301.7 601.0,300.8 604.0,300.0 C607.0,299.2 610.3,298.8 612.0,298.0 C613.7,297.2 614.5,296.3 614.0,295.0 C613.5,293.7 609.3,291.7 609.0,290.0 C608.7,288.3 610.3,286.2 612.0,285.0 C613.7,283.8 617.0,283.5 619.0,283.0 C621.0,282.5 623.2,282.2 624.0,282.0 L630.0,282.0 L630.0,320.0 L-6.0,320.0 L-6.0,282.0Z" fill="#a0ffff"/>
<path d="M419.9,166.4 C421.4,165.1 425.3,164.1 429.0,163.8 C432.7,163.5 437.7,163.6 442.0,164.5 C446.3,165.4 450.7,167.6 455.0,169.0 C459.3,170.4 465.2,171.2 468.0,172.9 C470.8,174.6 470.9,177.0 471.9,179.4 C472.9,181.8 473.9,184.8 473.9,187.2 C473.9,189.6 472.9,192.2 471.9,193.7 C470.9,195.2 470.8,196.3 468.0,196.3 C465.2,196.3 459.3,195.0 455.0,193.7 C450.7,192.4 446.3,190.7 442.0,188.5 C437.7,186.3 432.7,183.5 429.0,180.7 C425.3,177.9 421.4,174.0 419.9,171.6 C418.4,169.2 418.4,167.7 419.9,166.4Z" fill="#70ffff"/>
<path d="M16.0,287.3 C17.1,286.2 20.5,285.0 26.7,284.3 C32.9,283.6 44.4,283.6 53.3,283.3 C62.2,283.0 69.4,282.7 80.0,282.7 C90.6,282.7 106.5,283.2 117.0,283.2 C127.5,283.2 134.3,282.9 143.0,282.7 C151.7,282.5 160.3,281.4 169.0,281.9 C177.7,282.4 189.4,284.3 195.0,285.8 C200.6,287.3 202.8,289.1 202.8,291.0 C202.8,292.9 200.6,295.3 195.0,297.5 C189.4,299.7 179.3,302.4 169.0,304.0 C158.7,305.6 143.7,306.4 133.3,307.0 C122.9,307.6 115.6,307.3 106.7,307.3 C97.8,307.3 87.8,307.4 80.0,307.0 C72.2,306.6 66.7,306.1 60.0,304.7 C53.3,303.3 46.7,301.0 40.0,298.7 C33.3,296.4 24.0,292.6 20.0,290.7 C16.0,288.8 14.9,288.4 16.0,287.3Z" fill="#70ffff"/>
<path d="M89.0,295.5 C88.3,294.8 94.8,294.5 100.0,294.2 C105.2,293.9 113.3,293.8 120.0,293.8 C126.7,293.8 135.5,293.9 140.0,294.2 C144.5,294.4 147.0,294.7 147.0,295.3 C147.0,295.9 144.5,297.2 140.0,297.8 C135.5,298.4 126.0,298.7 120.0,298.8 C114.0,298.9 109.2,298.9 104.0,298.3 C98.8,297.8 89.7,296.2 89.0,295.5Z" fill="#38ffff"/>
<path d="M119.0,43.0 C119.3,40.9 120.4,38.9 122.0,36.7 C123.6,34.5 125.9,31.7 128.7,30.0 C131.5,28.3 134.5,27.9 138.7,26.7 C142.9,25.4 148.4,23.8 153.7,22.5 C159.0,21.2 164.8,20.0 170.3,19.2 C175.9,18.4 180.1,17.9 187.0,17.5 C193.9,17.1 203.7,16.7 212.0,16.7 C220.3,16.7 228.7,17.1 237.0,17.5 C245.3,17.9 253.7,18.2 262.0,19.2 C270.3,20.2 278.7,21.2 287.0,23.3 C295.3,25.4 305.7,29.6 312.0,31.9 C318.3,34.2 320.7,35.4 325.0,37.0 C329.3,38.6 333.7,40.2 338.0,41.6 C342.3,43.0 346.7,44.2 351.0,45.5 C355.3,46.8 359.7,48.3 364.0,49.4 C368.3,50.5 373.3,51.1 377.0,52.0 C380.7,52.9 386.1,53.7 386.1,54.6 C386.1,55.5 380.2,56.1 377.0,57.2 C373.8,58.3 369.4,59.1 366.6,61.1 C363.8,63.1 362.1,66.1 360.1,68.9 C358.2,71.7 356.8,74.8 354.9,78.0 C352.9,81.2 351.2,84.5 348.4,88.4 C345.6,92.3 341.5,97.5 338.0,101.4 C334.5,105.3 330.9,108.8 327.6,111.8 C324.4,114.8 320.4,117.4 318.5,119.6 C316.6,121.8 315.9,122.6 315.9,124.8 C315.9,127.0 317.0,130.2 318.5,132.6 C320.0,135.0 322.4,136.7 325.0,139.1 C327.6,141.5 331.5,144.3 334.1,146.9 C336.7,149.5 339.6,153.2 340.6,154.7 C341.6,156.2 339.9,155.1 340.0,156.0 C340.1,156.9 340.9,157.7 341.3,159.9 C341.7,162.1 342.6,166.0 342.6,169.0 C342.6,172.0 342.5,175.1 341.3,178.1 C340.1,181.1 338.1,184.4 335.4,187.2 C332.7,190.0 328.9,192.4 325.0,195.0 C321.1,197.6 315.0,200.5 312.0,202.8 C309.0,205.1 309.0,207.0 306.8,208.7 C304.6,210.4 301.6,211.4 299.0,213.2 C296.4,215.0 293.4,217.4 291.2,219.7 C289.0,222.0 287.7,224.5 286.0,226.9 C284.3,229.3 283.0,231.7 280.8,234.0 C278.6,236.3 276.0,238.6 273.0,240.5 C270.0,242.4 266.5,244.3 262.6,245.7 C258.7,247.0 253.9,248.0 249.6,248.6 C245.3,249.2 240.7,249.4 236.6,249.0 C232.5,248.6 228.6,247.8 224.9,246.4 C221.2,245.0 217.5,242.6 214.5,240.5 C211.5,238.4 209.0,236.4 206.7,234.0 C204.4,231.6 202.4,228.8 200.9,226.2 C199.4,223.6 198.6,221.0 197.6,218.4 C196.6,215.8 195.9,213.2 195.0,210.6 C194.1,208.0 193.3,204.7 192.4,202.8 C191.5,200.9 190.2,200.6 189.3,199.3 C188.4,198.0 189.0,196.6 187.2,195.0 C185.4,193.4 182.3,192.2 178.7,190.0 C175.0,187.8 169.8,184.2 165.3,182.0 C160.9,179.8 154.6,178.2 152.0,176.7 C149.4,175.2 151.4,174.4 149.5,172.9 C147.6,171.4 143.7,169.6 140.4,167.7 C137.2,165.8 133.0,163.1 130.0,161.2 C127.0,159.2 123.8,158.1 122.2,156.0 C120.6,153.9 120.8,151.3 120.3,148.7 C119.8,146.1 119.5,143.1 119.5,140.3 C119.5,137.5 119.5,134.5 120.3,132.0 C121.1,129.5 123.0,127.4 124.5,125.3 C126.0,123.2 128.2,121.7 129.5,119.5 C130.8,117.3 131.0,114.1 132.0,112.0 C133.0,109.9 133.9,109.0 135.3,107.0 C136.7,105.0 139.6,102.2 140.3,100.3 C141.0,98.3 140.3,97.1 139.5,95.3 C138.7,93.5 135.4,91.6 135.3,89.5 C135.2,87.4 138.4,84.9 138.7,82.8 C139.0,80.7 138.1,78.8 137.0,77.0 C135.9,75.2 133.4,73.6 132.0,72.0 C130.6,70.4 130.1,69.8 128.7,67.6 C127.3,65.3 124.9,61.5 123.5,58.5 C122.1,55.5 121.0,52.0 120.3,49.4 C119.5,46.8 118.7,45.1 119.0,43.0Z" fill="#ffff00"/>
<path d="M24.0,139.3 C25.0,137.0 27.8,134.5 30.0,132.7 C32.2,130.9 35.2,129.4 37.3,128.7 C39.4,128.0 40.9,128.1 42.7,128.7 C44.5,129.2 45.7,130.9 48.0,132.0 C50.3,133.1 54.0,134.3 56.7,135.3 C59.4,136.3 62.5,137.0 64.0,138.0 C65.5,139.0 66.1,139.8 66.0,141.3 C65.9,142.9 63.8,145.4 63.3,147.3 C62.8,149.2 63.0,151.0 62.7,152.7 C62.4,154.4 62.1,155.8 61.3,157.3 C60.5,158.9 59.5,160.6 58.0,162.0 C56.5,163.4 54.1,164.8 52.0,166.0 C49.9,167.2 47.3,168.5 45.3,169.3 C43.3,170.1 41.5,171.0 40.0,170.7 C38.5,170.4 37.0,168.8 36.0,167.3 C35.0,165.9 34.9,163.8 34.0,162.0 C33.1,160.2 31.9,158.5 30.7,156.7 C29.5,154.9 27.8,153.0 26.7,151.3 C25.6,149.6 24.4,148.7 24.0,146.7 C23.6,144.7 23.0,141.6 24.0,139.3Z" fill="#ffff00"/>
<path d="M165.3,172.0 C162.0,169.8 161.2,169.5 158.7,167.8 C156.2,166.1 152.8,164.1 150.3,162.0 C147.8,159.9 145.5,157.5 143.7,155.3 C141.9,153.1 140.6,151.2 139.5,148.7 C138.4,146.2 137.6,143.4 137.0,140.3 C136.4,137.2 136.2,133.4 136.2,130.3 C136.2,127.3 136.3,124.5 137.0,122.0 C137.7,119.5 138.5,117.7 140.3,115.3 C142.1,112.9 145.6,110.1 147.8,107.8 C150.0,105.5 152.2,103.5 153.7,101.2 C155.2,98.9 156.2,95.9 157.0,93.7 C157.8,91.5 157.2,89.3 158.7,87.8 C160.2,86.3 162.9,85.6 166.2,84.5 C169.5,83.4 173.8,82.6 178.7,81.2 C183.5,79.8 191.1,77.7 195.3,76.2 C199.5,74.7 201.6,73.2 203.7,72.0 C205.8,70.8 206.6,70.5 208.0,68.9 C209.4,67.3 211.0,64.5 211.9,62.4 C212.8,60.3 212.5,57.8 213.5,56.5 C214.5,55.2 216.3,54.9 218.0,54.5 C219.7,54.1 220.9,54.4 223.6,54.3 C226.3,54.2 230.1,54.1 234.0,53.8 C237.9,53.5 242.7,53.1 247.0,52.7 C251.3,52.3 256.1,51.6 260.0,51.4 C263.9,51.2 267.4,51.2 270.4,51.7 C273.4,52.2 275.6,53.4 278.2,54.6 C280.8,55.9 283.4,57.2 286.0,59.2 C288.6,61.2 291.4,63.8 293.8,66.3 C296.2,68.8 298.7,71.5 300.3,74.1 C301.9,76.7 303.0,79.3 303.7,82.0 C304.4,84.7 304.8,87.2 304.5,90.3 C304.2,93.3 303.2,97.2 302.0,100.3 C300.8,103.4 298.7,105.8 297.0,108.7 C295.3,111.6 292.8,114.8 292.0,117.8 C291.2,120.8 291.0,124.1 292.0,127.0 C293.0,129.9 295.3,132.5 297.8,135.3 C300.3,138.1 303.9,140.9 307.0,143.7 C310.1,146.5 313.8,149.5 316.2,152.0 C318.6,154.5 320.2,156.5 321.2,158.7 C322.2,160.9 322.4,163.1 322.4,165.3 C322.4,167.5 322.1,169.9 321.2,172.0 C320.3,174.1 318.5,176.4 317.0,177.8 C315.5,179.2 315.1,179.8 312.0,180.7 C308.9,181.6 304.2,182.3 298.7,183.3 C293.1,184.3 284.3,185.7 278.7,186.7 C273.1,187.7 269.5,188.3 265.3,189.3 C261.1,190.3 256.6,192.0 253.3,192.7 C250.0,193.4 247.7,192.9 245.3,193.3 C242.9,193.7 241.8,194.3 238.7,195.3 C235.6,196.3 231.1,198.9 226.7,199.3 C222.2,199.8 216.4,198.9 212.0,198.0 C207.6,197.1 203.3,195.6 200.0,194.0 C196.7,192.4 195.6,190.9 192.0,188.7 C188.4,186.5 183.1,183.5 178.7,180.7 C174.2,177.9 168.6,174.2 165.3,172.0Z" fill="#ffe000"/>
<ellipse cx="49.3" cy="147.7" rx="8" ry="5" transform="rotate(25 49.3 147.7)" fill="#ffe000"/>
<ellipse cx="168" cy="61.4" rx="4.8" ry="2.2" transform="rotate(0 168 61.4)" fill="#ffe000"/>
<path d="M188.5,55.8 C189.0,55.2 192.2,54.1 195.0,53.6 C197.8,53.1 202.3,52.9 205.0,53.0 C207.7,53.1 210.3,53.5 211.0,54.0 C211.7,54.5 210.8,55.7 209.0,56.2 C207.2,56.7 202.8,57.0 200.0,57.2 C197.2,57.4 193.9,57.6 192.0,57.4 C190.1,57.2 188.0,56.4 188.5,55.8Z" fill="#ffe000"/>
<path d="M166.2,97.0 C168.0,94.9 169.2,93.8 172.0,92.8 C174.8,91.8 178.9,90.9 182.8,91.2 C186.7,91.5 191.8,93.5 195.3,94.5 C198.8,95.5 200.9,96.3 203.7,97.0 C206.5,97.7 208.9,98.2 212.0,98.7 C215.1,99.2 218.7,99.7 222.0,99.8 C225.3,99.9 228.9,99.5 232.0,99.5 C235.1,99.5 236.8,99.4 240.3,99.5 C243.8,99.6 249.6,99.6 252.8,99.9 C256.0,100.2 257.7,100.4 259.5,101.2 C261.3,102.0 262.7,102.8 263.7,104.5 C264.7,106.2 264.9,108.7 265.3,111.2 C265.7,113.7 265.2,116.9 265.8,119.5 C266.4,122.1 267.1,124.6 268.7,127.0 C270.3,129.4 272.8,131.3 275.3,133.7 C277.8,136.1 280.9,138.7 283.7,141.2 C286.5,143.7 289.6,146.3 292.0,148.7 C294.4,151.0 296.6,153.1 297.8,155.3 C299.1,157.5 299.5,159.9 299.5,162.0 C299.5,164.1 298.9,166.1 297.8,167.8 C296.7,169.5 294.9,170.9 292.8,172.0 C290.7,173.1 288.5,173.5 285.3,174.1 C282.1,174.7 277.7,175.0 273.7,175.3 C269.7,175.7 265.4,175.8 261.2,176.2 C257.0,176.6 252.2,177.2 248.7,177.8 C245.2,178.4 242.6,178.6 240.3,179.5 C238.0,180.4 237.0,182.0 234.7,183.3 C232.4,184.6 229.4,186.9 226.7,187.3 C224.0,187.8 221.8,187.1 218.7,186.0 C215.6,184.9 212.4,182.9 208.0,180.7 C203.6,178.5 195.9,175.1 192.0,172.7 C188.1,170.3 187.2,167.8 184.5,166.2 C181.8,164.6 179.1,164.7 176.0,163.3 C172.9,161.9 169.2,159.7 166.2,157.8 C163.2,155.9 160.0,154.2 157.8,152.0 C155.6,149.8 153.9,147.4 152.8,144.5 C151.7,141.6 151.2,138.2 151.2,134.5 C151.2,130.8 152.0,125.5 152.8,122.0 C153.6,118.5 154.8,116.5 156.2,113.7 C157.6,110.9 159.5,108.1 161.2,105.3 C162.9,102.5 164.4,99.1 166.2,97.0Z" fill="#ffc000"/>
<path d="M170.3,107.0 C171.3,104.9 172.3,102.6 173.7,101.2 C175.1,99.8 176.5,98.6 178.7,98.7 C180.9,98.8 184.2,100.6 187.0,102.0 C189.8,103.4 192.5,105.5 195.3,107.0 C198.1,108.5 200.9,110.1 203.7,111.2 C206.5,112.3 208.9,112.7 212.0,113.7 C215.1,114.8 218.7,116.0 222.0,117.5 C225.3,119.0 228.9,121.1 232.0,122.8 C235.1,124.5 237.5,126.1 240.3,127.8 C243.1,129.5 245.9,131.0 248.7,132.8 C251.5,134.6 254.5,136.8 257.0,138.7 C259.5,140.6 261.8,142.4 263.7,144.5 C265.6,146.6 267.5,149.1 268.7,151.2 C269.9,153.3 270.8,155.3 270.8,157.0 C270.8,158.7 269.6,160.1 268.7,161.2 C267.8,162.3 267.4,162.6 265.3,163.5 C263.2,164.4 259.3,166.1 256.0,166.7 C252.7,167.3 249.3,167.2 245.3,167.3 C241.3,167.4 236.4,167.5 232.0,167.3 C227.6,167.1 223.6,166.6 218.7,166.0 C213.8,165.4 206.9,164.7 202.7,164.0 C198.5,163.3 195.9,162.6 193.7,162.0 C191.5,161.4 191.4,162.2 189.3,160.7 C187.2,159.1 183.5,155.0 181.3,152.7 C179.1,150.4 177.8,149.3 176.2,147.0 C174.6,144.7 173.2,141.5 172.0,138.7 C170.8,135.9 169.5,133.1 168.7,130.3 C167.9,127.5 167.6,124.8 167.4,122.0 C167.2,119.2 167.3,116.2 167.8,113.7 C168.3,111.2 169.3,109.1 170.3,107.0Z" fill="#ffa000"/>
<rect x="-5" y="310.4" width="640" height="10" fill="#fff"/>
<path d="M-5.0,-5.0 L630.0,-5.0 L630.0,84.5 L624.0,84.5 C622.3,84.3 616.9,83.6 613.6,83.2 C610.4,82.8 608.2,82.4 604.5,81.9 C600.8,81.4 595.8,80.4 591.5,80.0 C587.2,79.6 582.8,79.4 578.5,79.6 C574.2,79.8 569.8,80.5 565.5,81.3 C561.2,82.1 556.8,83.3 552.5,84.5 C548.2,85.7 543.8,87.3 539.5,88.4 C535.2,89.5 530.8,90.5 526.5,91.0 C522.2,91.5 518.3,91.7 513.5,91.7 C508.7,91.7 501.6,92.0 497.9,91.0 C494.2,90.0 493.8,87.8 491.4,85.8 C489.0,83.8 486.2,81.1 483.6,79.3 C481.0,77.5 478.4,76.1 475.8,74.8 C473.2,73.5 470.4,72.2 468.0,71.5 C465.6,70.8 464.8,71.0 461.5,70.9 C458.2,70.8 452.6,70.8 448.5,70.9 C444.4,71.0 439.6,71.0 436.8,71.5 C434.0,72.0 433.6,72.6 431.6,74.1 C429.7,75.6 427.7,78.9 425.1,80.6 C422.5,82.3 419.7,83.2 416.0,84.5 C412.3,85.8 407.3,86.5 403.0,88.4 C398.7,90.4 393.9,93.6 390.0,96.2 C386.1,98.8 382.9,101.2 379.6,104.0 C376.4,106.8 373.1,110.1 370.5,113.1 C367.9,116.1 364.6,119.4 364.0,122.2 C363.4,125.0 365.3,127.4 366.6,130.0 C367.9,132.6 370.1,135.0 371.8,137.8 C373.5,140.6 376.1,143.9 377.0,146.9 C377.9,149.9 377.2,152.8 377.0,156.0 C376.8,159.2 375.3,163.2 375.7,166.4 C376.1,169.7 377.2,172.0 379.6,175.5 C382.0,179.0 386.1,183.1 390.0,187.2 C393.9,191.3 398.7,195.9 403.0,200.2 C407.3,204.5 411.7,209.1 416.0,213.2 C420.3,217.3 424.7,221.7 429.0,224.9 C433.3,228.2 437.7,230.5 442.0,232.7 C446.3,234.9 450.7,236.6 455.0,237.9 C459.3,239.2 463.7,240.4 468.0,240.8 C472.3,241.2 477.1,240.9 481.0,240.5 C484.9,240.1 488.8,238.8 491.4,238.6 C494.0,238.4 494.0,238.2 496.6,239.2 C499.2,240.2 502.6,242.3 507.0,244.4 C511.4,246.5 518.5,249.4 523.0,252.0 C527.5,254.6 531.3,257.5 534.0,260.0 C536.7,262.5 536.5,264.5 539.0,267.0 C541.5,269.5 545.7,272.7 549.0,275.0 C552.3,277.3 555.7,279.2 559.0,281.0 C562.3,282.8 566.5,284.7 569.0,286.0 C571.5,287.3 572.2,287.8 574.0,289.0 C575.8,290.2 580.0,291.8 580.0,293.0 C580.0,294.2 576.7,295.0 574.0,296.0 C571.3,297.0 568.2,298.1 564.0,299.0 C559.8,299.9 554.0,300.8 549.0,301.5 C544.0,302.2 539.0,302.6 534.0,303.0 C529.0,303.4 524.0,303.8 519.0,304.0 C514.0,304.2 510.3,304.4 504.0,304.5 C497.7,304.6 487.0,304.5 481.0,304.6 C475.0,304.7 478.8,305.2 468.0,305.3 C457.2,305.4 433.3,305.5 416.0,305.3 C398.7,305.1 381.3,304.6 364.0,304.0 C346.7,303.4 323.7,301.9 312.0,301.4 C300.3,300.9 299.9,301.4 293.8,300.9 C287.7,300.4 280.4,299.3 275.6,298.3 C270.8,297.3 266.1,296.5 265.2,294.9 C264.3,293.2 271.3,290.8 270.4,288.4 C269.5,286.0 263.9,282.6 260.0,280.6 C256.1,278.7 253.5,277.8 247.0,276.7 C240.5,275.6 229.7,274.7 221.0,274.1 C212.3,273.5 203.7,273.3 195.0,273.3 C186.3,273.3 177.2,273.5 169.0,274.1 C160.8,274.7 153.0,275.8 145.6,276.7 C138.2,277.6 130.9,279.3 124.8,279.3 C118.7,279.3 117.0,277.1 109.2,276.7 C101.4,276.3 88.0,277.4 78.0,277.0 C68.0,276.6 54.9,275.6 49.4,274.3 C43.9,273.0 45.9,271.1 44.9,269.1 C43.9,267.2 43.3,265.0 43.6,262.6 C43.9,260.2 45.4,257.4 46.8,254.8 C48.2,252.2 50.0,249.8 52.0,247.0 C54.0,244.2 56.3,240.9 58.5,237.9 C60.7,234.9 62.4,231.6 65.0,228.8 C67.6,226.0 70.8,223.4 74.1,221.0 C77.3,218.6 81.0,216.7 84.5,214.5 C88.0,212.3 91.9,209.9 94.9,208.0 C97.9,206.1 100.8,205.0 102.7,202.8 C104.7,200.6 106.2,197.2 106.6,195.0 C107.0,192.8 106.6,192.0 105.3,189.8 C104.0,187.6 101.2,184.4 98.8,182.0 C96.4,179.6 93.4,178.1 91.0,175.5 C88.6,172.9 86.2,169.1 84.5,166.4 C82.8,163.7 82.6,160.0 81.0,159.5 C79.4,159.0 76.5,161.8 74.7,163.3 C72.9,164.8 71.9,166.8 70.0,168.7 C68.1,170.6 65.5,172.8 63.3,174.7 C61.1,176.6 58.8,178.3 56.7,180.0 C54.6,181.7 52.2,182.8 50.7,184.7 C49.2,186.6 48.8,189.2 48.0,191.3 C47.2,193.4 46.5,195.5 46.0,197.3 C45.5,199.1 45.3,201.0 44.7,202.0 C44.1,203.0 43.3,203.2 42.5,203.5 C41.7,203.8 40.9,204.0 40.0,204.0 C39.1,204.0 37.9,203.8 37.0,203.5 C36.1,203.2 35.4,203.0 34.7,202.0 C34.0,201.0 33.5,199.0 32.7,197.3 C31.9,195.6 31.0,193.9 30.0,192.0 C29.0,190.1 28.0,188.0 26.7,186.0 C25.4,184.0 23.6,181.8 22.0,180.0 C20.4,178.2 19.0,177.0 17.3,175.3 C15.6,173.6 13.8,171.6 12.0,170.0 C10.2,168.4 8.7,167.3 6.7,166.0 C4.7,164.7 1.1,162.7 0.0,162.0 L-5.0,162.0 L-5.0,113.7 L0.0,113.7 C0.5,113.2 1.8,111.5 3.3,110.5 C4.8,109.5 6.5,108.5 8.7,107.8 C10.9,107.1 13.8,106.3 16.3,106.5 C18.8,106.7 21.1,107.7 23.8,108.8 C26.5,109.9 29.2,111.8 32.5,113.2 C35.8,114.6 40.4,116.2 43.3,117.0 C46.2,117.8 48.0,118.4 49.8,118.0 C51.6,117.6 52.4,116.3 54.2,114.8 C56.0,113.3 58.7,110.7 60.7,108.8 C62.7,106.9 64.7,105.0 66.1,103.4 C67.5,101.8 68.9,100.5 69.3,99.1 C69.7,97.7 69.4,96.1 68.3,94.8 C67.2,93.5 65.1,92.1 62.8,91.0 C60.4,89.9 57.5,89.0 54.2,88.3 C51.0,87.6 46.9,87.0 43.3,86.6 C39.7,86.2 36.1,86.3 32.5,86.1 C28.9,85.9 25.3,85.8 21.7,85.5 C18.1,85.2 14.4,84.8 10.8,84.5 C7.2,84.2 1.8,84.0 0.0,83.9 L-5.0,83.9 L-5.0,-5.0Z" fill="none" stroke="#000" stroke-width="0.9" stroke-dasharray="9,2.5"/>
<path d="M630.0,116.8 L623.3,116.8 C622.2,117.9 618.9,121.4 616.5,123.5 C614.1,125.6 611.0,127.5 609.0,129.5 C607.0,131.5 605.0,133.5 604.5,135.5 C604.0,137.5 604.8,139.5 606.0,141.5 C607.2,143.5 610.5,145.8 612.0,147.5 C613.5,149.2 613.8,150.4 615.0,152.0 C616.2,153.6 618.1,155.9 619.5,157.3 C620.9,158.7 622.7,159.8 623.3,160.3 L630.0,160.3 L630.0,116.8Z" fill="none" stroke="#000" stroke-width="0.9" stroke-dasharray="9,2.5"/>
<path d="M494.0,156.5 C494.2,154.1 496.4,146.6 497.9,144.3 C499.4,142.1 500.9,142.8 503.1,143.0 C505.3,143.2 508.1,144.3 510.9,145.6 C513.7,146.9 517.3,149.2 520.0,150.8 C522.7,152.5 524.8,154.6 527.0,155.5 C529.2,156.4 531.4,156.2 533.0,156.5 C534.6,156.8 535.2,156.5 536.9,157.3 C538.6,158.1 541.5,159.5 543.4,161.2 C545.2,162.9 547.4,165.1 548.0,167.7 C548.6,170.3 547.8,173.3 547.3,176.8 C546.8,180.3 545.8,184.8 544.7,188.5 C543.6,192.2 542.1,195.9 540.8,198.9 C539.5,201.9 538.6,205.2 536.9,206.7 C535.2,208.2 532.8,208.4 530.4,208.0 C528.0,207.6 524.8,205.4 522.6,204.1 C520.4,202.8 519.1,201.1 517.4,200.2 C515.7,199.3 513.5,201.3 512.2,198.9 C510.9,196.5 510.5,189.6 509.6,185.9 C508.7,182.2 508.5,180.1 507.0,176.8 C505.5,173.6 502.2,169.4 500.5,166.4 C498.8,163.4 497.7,160.7 496.6,159.0 C495.5,157.3 493.8,158.9 494.0,156.5Z" fill="none" stroke="#000" stroke-width="0.9" stroke-dasharray="9,2.5"/>
<path d="M544.7,157.0 C544.1,155.6 546.7,151.3 548.6,149.5 C550.5,147.7 553.8,146.6 556.4,146.3 C559.0,146.0 562.7,146.5 564.2,147.6 C565.7,148.7 566.2,151.4 565.5,153.0 C564.8,154.6 562.2,156.2 560.0,157.0 C557.8,157.8 554.5,158.0 552.0,158.0 C549.5,158.0 545.3,158.4 544.7,157.0Z" fill="none" stroke="#000" stroke-width="0.9" stroke-dasharray="9,2.5"/>
<ellipse cx="560" cy="32" rx="7.5" ry="4.9" transform="rotate(0 560 32)" fill="none" stroke="#000" stroke-width="0.9" stroke-dasharray="9,2.5"/>
<path d="M395.2,117.0 C395.9,114.0 398.0,110.5 400.4,107.9 C402.8,105.3 406.2,102.9 409.5,101.4 C412.8,99.9 417.3,99.0 419.9,98.8 C422.5,98.6 423.2,98.4 425.1,100.1 C427.1,101.8 430.3,106.4 431.6,109.2 C432.9,112.0 432.9,114.4 432.9,117.0 C432.9,119.6 431.4,122.2 431.6,124.8 C431.8,127.4 432.5,130.4 434.2,132.6 C435.9,134.8 438.5,136.3 442.0,137.8 C445.5,139.3 450.7,140.6 455.0,141.7 C459.3,142.8 465.0,142.9 468.0,144.3 C471.0,145.7 471.9,148.1 473.2,150.0 C474.5,151.9 474.1,153.7 475.8,156.0 C477.5,158.3 481.0,160.8 483.6,163.8 C486.2,166.8 489.2,170.7 491.4,174.2 C493.6,177.7 495.5,181.1 496.6,184.6 C497.7,188.1 498.1,191.5 497.9,195.0 C497.7,198.5 497.0,202.4 495.3,205.4 C493.6,208.4 490.3,211.3 487.5,213.2 C484.7,215.0 481.6,215.8 478.4,216.5 C475.1,217.2 471.9,217.7 468.0,217.1 C464.1,216.5 460.4,215.1 455.0,213.2 C449.6,211.2 440.9,208.2 435.5,205.4 C430.1,202.6 426.8,199.3 422.5,196.3 C418.2,193.3 413.6,190.4 409.5,187.2 C405.4,183.9 400.4,180.3 397.8,176.8 C395.2,173.3 394.0,169.9 394.0,166.4 C394.0,162.9 396.8,159.5 398.0,156.0 C399.2,152.5 400.9,148.8 401.0,145.6 C401.1,142.3 399.3,139.8 398.5,136.5 C397.7,133.2 396.6,129.3 396.0,126.1 C395.4,122.8 394.5,120.0 395.2,117.0Z" fill="none" stroke="#000" stroke-width="0.9" stroke-dasharray="9,2.5"/>
<path d="M557.7,118.3 C558.6,116.9 561.4,114.5 564.2,113.1 C567.0,111.7 571.4,110.4 574.6,109.9 C577.9,109.4 581.6,109.4 583.7,109.9 C585.8,110.4 586.7,111.7 587.0,113.1 C587.3,114.5 587.1,116.8 585.7,118.3 C584.3,119.8 581.6,121.4 578.5,122.2 C575.4,123.0 570.0,123.0 566.8,122.9 C563.5,122.8 560.5,122.4 559.0,121.6 C557.5,120.8 556.8,119.7 557.7,118.3Z" fill="none" stroke="#000" stroke-width="0.9" stroke-dasharray="9,2.5"/>
<path d="M630.0,175.5 L624.0,175.4 C621.8,174.8 615.3,172.4 611.0,171.6 C606.7,170.8 602.3,170.6 598.0,170.3 C593.7,170.0 589.3,170.0 585.0,169.9 C580.7,169.8 575.5,169.8 572.0,169.9 C568.5,170.0 566.6,169.4 564.2,170.6 C561.8,171.8 559.3,174.5 557.7,176.8 C556.1,179.1 554.7,182.2 554.5,184.6 C554.3,187.0 554.6,189.4 556.4,191.1 C558.2,192.8 561.8,193.5 565.5,195.0 C569.2,196.5 574.2,198.0 578.5,200.2 C582.8,202.4 587.2,205.6 591.5,208.0 C595.8,210.4 600.2,212.8 604.5,214.5 C608.8,216.2 614.2,217.5 617.5,218.4 C620.8,219.3 622.9,219.5 624.0,219.7 L630.0,219.7 L630.0,175.5Z" fill="none" stroke="#000" stroke-width="0.9" stroke-dasharray="9,2.5"/>
<path d="M-6.0,175.5 L0.0,175.5 C1.3,176.2 5.2,177.2 7.8,179.4 C10.4,181.6 13.2,185.2 15.6,188.5 C18.0,191.8 20.7,195.7 22.1,198.9 C23.5,202.2 24.0,205.4 24.0,208.0 C24.0,210.6 23.9,212.8 22.1,214.5 C20.3,216.2 16.7,217.5 13.0,218.4 C9.3,219.3 2.2,219.5 0.0,219.7 L-6.0,219.7 L-6.0,175.5Z" fill="none" stroke="#000" stroke-width="0.9" stroke-dasharray="9,2.5"/>
<path d="M-6.0,282.0 L0.0,281.9 C4.3,281.8 15.2,281.4 26.0,281.1 C36.8,280.8 52.0,280.2 65.0,280.1 C78.0,280.0 94.0,279.9 104.0,280.6 C114.0,281.3 118.3,284.5 124.8,284.5 C131.3,284.5 135.6,281.7 143.0,280.6 C150.4,279.5 160.3,278.4 169.0,278.0 C177.7,277.6 186.3,277.8 195.0,278.0 C203.7,278.2 213.6,278.7 221.0,279.3 C228.4,279.9 234.4,280.4 239.2,281.9 C244.0,283.4 247.0,285.8 249.6,288.4 C252.2,291.0 250.9,295.1 254.8,297.5 C258.7,299.9 263.5,301.2 273.0,302.7 C282.5,304.2 296.8,305.8 312.0,306.6 C327.2,307.4 346.7,307.3 364.0,307.5 C381.3,307.7 392.7,307.8 416.0,307.9 C439.3,308.0 486.0,308.0 504.0,308.0 C522.0,308.0 517.3,308.1 524.0,308.0 C530.7,307.9 537.3,307.4 544.0,307.2 C550.7,306.9 557.3,306.9 564.0,306.5 C570.7,306.1 579.0,305.7 584.0,305.0 C589.0,304.3 590.7,303.3 594.0,302.5 C597.3,301.7 601.0,300.8 604.0,300.0 C607.0,299.2 610.3,298.8 612.0,298.0 C613.7,297.2 614.5,296.3 614.0,295.0 C613.5,293.7 609.3,291.7 609.0,290.0 C608.7,288.3 610.3,286.2 612.0,285.0 C613.7,283.8 617.0,283.5 619.0,283.0 C621.0,282.5 623.2,282.2 624.0,282.0 L630.0,282.0 L630.0,320.0 L-6.0,320.0 L-6.0,282.0Z" fill="none" stroke="#000" stroke-width="0.9" stroke-dasharray="9,2.5"/>
<path d="M419.9,166.4 C421.4,165.1 425.3,164.1 429.0,163.8 C432.7,163.5 437.7,163.6 442.0,164.5 C446.3,165.4 450.7,167.6 455.0,169.0 C459.3,170.4 465.2,171.2 468.0,172.9 C470.8,174.6 470.9,177.0 471.9,179.4 C472.9,181.8 473.9,184.8 473.9,187.2 C473.9,189.6 472.9,192.2 471.9,193.7 C470.9,195.2 470.8,196.3 468.0,196.3 C465.2,196.3 459.3,195.0 455.0,193.7 C450.7,192.4 446.3,190.7 442.0,188.5 C437.7,186.3 432.7,183.5 429.0,180.7 C425.3,177.9 421.4,174.0 419.9,171.6 C418.4,169.2 418.4,167.7 419.9,166.4Z" fill="none" stroke="#000" stroke-width="0.9" stroke-dasharray="9,2.5"/>
<path d="M16.0,287.3 C17.1,286.2 20.5,285.0 26.7,284.3 C32.9,283.6 44.4,283.6 53.3,283.3 C62.2,283.0 69.4,282.7 80.0,282.7 C90.6,282.7 106.5,283.2 117.0,283.2 C127.5,283.2 134.3,282.9 143.0,282.7 C151.7,282.5 160.3,281.4 169.0,281.9 C177.7,282.4 189.4,284.3 195.0,285.8 C200.6,287.3 202.8,289.1 202.8,291.0 C202.8,292.9 200.6,295.3 195.0,297.5 C189.4,299.7 179.3,302.4 169.0,304.0 C158.7,305.6 143.7,306.4 133.3,307.0 C122.9,307.6 115.6,307.3 106.7,307.3 C97.8,307.3 87.8,307.4 80.0,307.0 C72.2,306.6 66.7,306.1 60.0,304.7 C53.3,303.3 46.7,301.0 40.0,298.7 C33.3,296.4 24.0,292.6 20.0,290.7 C16.0,288.8 14.9,288.4 16.0,287.3Z" fill="none" stroke="#000" stroke-width="0.9" stroke-dasharray="9,2.5"/>
<path d="M89.0,295.5 C88.3,294.8 94.8,294.5 100.0,294.2 C105.2,293.9 113.3,293.8 120.0,293.8 C126.7,293.8 135.5,293.9 140.0,294.2 C144.5,294.4 147.0,294.7 147.0,295.3 C147.0,295.9 144.5,297.2 140.0,297.8 C135.5,298.4 126.0,298.7 120.0,298.8 C114.0,298.9 109.2,298.9 104.0,298.3 C98.8,297.8 89.7,296.2 89.0,295.5Z" fill="none" stroke="#000" stroke-width="0.9" stroke-dasharray="9,2.5"/>
<path d="M119.0,43.0 C119.3,40.9 120.4,38.9 122.0,36.7 C123.6,34.5 125.9,31.7 128.7,30.0 C131.5,28.3 134.5,27.9 138.7,26.7 C142.9,25.4 148.4,23.8 153.7,22.5 C159.0,21.2 164.8,20.0 170.3,19.2 C175.9,18.4 180.1,17.9 187.0,17.5 C193.9,17.1 203.7,16.7 212.0,16.7 C220.3,16.7 228.7,17.1 237.0,17.5 C245.3,17.9 253.7,18.2 262.0,19.2 C270.3,20.2 278.7,21.2 287.0,23.3 C295.3,25.4 305.7,29.6 312.0,31.9 C318.3,34.2 320.7,35.4 325.0,37.0 C329.3,38.6 333.7,40.2 338.0,41.6 C342.3,43.0 346.7,44.2 351.0,45.5 C355.3,46.8 359.7,48.3 364.0,49.4 C368.3,50.5 373.3,51.1 377.0,52.0 C380.7,52.9 386.1,53.7 386.1,54.6 C386.1,55.5 380.2,56.1 377.0,57.2 C373.8,58.3 369.4,59.1 366.6,61.1 C363.8,63.1 362.1,66.1 360.1,68.9 C358.2,71.7 356.8,74.8 354.9,78.0 C352.9,81.2 351.2,84.5 348.4,88.4 C345.6,92.3 341.5,97.5 338.0,101.4 C334.5,105.3 330.9,108.8 327.6,111.8 C324.4,114.8 320.4,117.4 318.5,119.6 C316.6,121.8 315.9,122.6 315.9,124.8 C315.9,127.0 317.0,130.2 318.5,132.6 C320.0,135.0 322.4,136.7 325.0,139.1 C327.6,141.5 331.5,144.3 334.1,146.9 C336.7,149.5 339.6,153.2 340.6,154.7 C341.6,156.2 339.9,155.1 340.0,156.0 C340.1,156.9 340.9,157.7 341.3,159.9 C341.7,162.1 342.6,166.0 342.6,169.0 C342.6,172.0 342.5,175.1 341.3,178.1 C340.1,181.1 338.1,184.4 335.4,187.2 C332.7,190.0 328.9,192.4 325.0,195.0 C321.1,197.6 315.0,200.5 312.0,202.8 C309.0,205.1 309.0,207.0 306.8,208.7 C304.6,210.4 301.6,211.4 299.0,213.2 C296.4,215.0 293.4,217.4 291.2,219.7 C289.0,222.0 287.7,224.5 286.0,226.9 C284.3,229.3 283.0,231.7 280.8,234.0 C278.6,236.3 276.0,238.6 273.0,240.5 C270.0,242.4 266.5,244.3 262.6,245.7 C258.7,247.0 253.9,248.0 249.6,248.6 C245.3,249.2 240.7,249.4 236.6,249.0 C232.5,248.6 228.6,247.8 224.9,246.4 C221.2,245.0 217.5,242.6 214.5,240.5 C211.5,238.4 209.0,236.4 206.7,234.0 C204.4,231.6 202.4,228.8 200.9,226.2 C199.4,223.6 198.6,221.0 197.6,218.4 C196.6,215.8 195.9,213.2 195.0,210.6 C194.1,208.0 193.3,204.7 192.4,202.8 C191.5,200.9 190.2,200.6 189.3,199.3 C188.4,198.0 189.0,196.6 187.2,195.0 C185.4,193.4 182.3,192.2 178.7,190.0 C175.0,187.8 169.8,184.2 165.3,182.0 C160.9,179.8 154.6,178.2 152.0,176.7 C149.4,175.2 151.4,174.4 149.5,172.9 C147.6,171.4 143.7,169.6 140.4,167.7 C137.2,165.8 133.0,163.1 130.0,161.2 C127.0,159.2 123.8,158.1 122.2,156.0 C120.6,153.9 120.8,151.3 120.3,148.7 C119.8,146.1 119.5,143.1 119.5,140.3 C119.5,137.5 119.5,134.5 120.3,132.0 C121.1,129.5 123.0,127.4 124.5,125.3 C126.0,123.2 128.2,121.7 129.5,119.5 C130.8,117.3 131.0,114.1 132.0,112.0 C133.0,109.9 133.9,109.0 135.3,107.0 C136.7,105.0 139.6,102.2 140.3,100.3 C141.0,98.3 140.3,97.1 139.5,95.3 C138.7,93.5 135.4,91.6 135.3,89.5 C135.2,87.4 138.4,84.9 138.7,82.8 C139.0,80.7 138.1,78.8 137.0,77.0 C135.9,75.2 133.4,73.6 132.0,72.0 C130.6,70.4 130.1,69.8 128.7,67.6 C127.3,65.3 124.9,61.5 123.5,58.5 C122.1,55.5 121.0,52.0 120.3,49.4 C119.5,46.8 118.7,45.1 119.0,43.0Z" fill="none" stroke="#000" stroke-width="0.9"/>
<path d="M24.0,139.3 C25.0,137.0 27.8,134.5 30.0,132.7 C32.2,130.9 35.2,129.4 37.3,128.7 C39.4,128.0 40.9,128.1 42.7,128.7 C44.5,129.2 45.7,130.9 48.0,132.0 C50.3,133.1 54.0,134.3 56.7,135.3 C59.4,136.3 62.5,137.0 64.0,138.0 C65.5,139.0 66.1,139.8 66.0,141.3 C65.9,142.9 63.8,145.4 63.3,147.3 C62.8,149.2 63.0,151.0 62.7,152.7 C62.4,154.4 62.1,155.8 61.3,157.3 C60.5,158.9 59.5,160.6 58.0,162.0 C56.5,163.4 54.1,164.8 52.0,166.0 C49.9,167.2 47.3,168.5 45.3,169.3 C43.3,170.1 41.5,171.0 40.0,170.7 C38.5,170.4 37.0,168.8 36.0,167.3 C35.0,165.9 34.9,163.8 34.0,162.0 C33.1,160.2 31.9,158.5 30.7,156.7 C29.5,154.9 27.8,153.0 26.7,151.3 C25.6,149.6 24.4,148.7 24.0,146.7 C23.6,144.7 23.0,141.6 24.0,139.3Z" fill="none" stroke="#000" stroke-width="0.9"/>
<path d="M165.3,172.0 C162.0,169.8 161.2,169.5 158.7,167.8 C156.2,166.1 152.8,164.1 150.3,162.0 C147.8,159.9 145.5,157.5 143.7,155.3 C141.9,153.1 140.6,151.2 139.5,148.7 C138.4,146.2 137.6,143.4 137.0,140.3 C136.4,137.2 136.2,133.4 136.2,130.3 C136.2,127.3 136.3,124.5 137.0,122.0 C137.7,119.5 138.5,117.7 140.3,115.3 C142.1,112.9 145.6,110.1 147.8,107.8 C150.0,105.5 152.2,103.5 153.7,101.2 C155.2,98.9 156.2,95.9 157.0,93.7 C157.8,91.5 157.2,89.3 158.7,87.8 C160.2,86.3 162.9,85.6 166.2,84.5 C169.5,83.4 173.8,82.6 178.7,81.2 C183.5,79.8 191.1,77.7 195.3,76.2 C199.5,74.7 201.6,73.2 203.7,72.0 C205.8,70.8 206.6,70.5 208.0,68.9 C209.4,67.3 211.0,64.5 211.9,62.4 C212.8,60.3 212.5,57.8 213.5,56.5 C214.5,55.2 216.3,54.9 218.0,54.5 C219.7,54.1 220.9,54.4 223.6,54.3 C226.3,54.2 230.1,54.1 234.0,53.8 C237.9,53.5 242.7,53.1 247.0,52.7 C251.3,52.3 256.1,51.6 260.0,51.4 C263.9,51.2 267.4,51.2 270.4,51.7 C273.4,52.2 275.6,53.4 278.2,54.6 C280.8,55.9 283.4,57.2 286.0,59.2 C288.6,61.2 291.4,63.8 293.8,66.3 C296.2,68.8 298.7,71.5 300.3,74.1 C301.9,76.7 303.0,79.3 303.7,82.0 C304.4,84.7 304.8,87.2 304.5,90.3 C304.2,93.3 303.2,97.2 302.0,100.3 C300.8,103.4 298.7,105.8 297.0,108.7 C295.3,111.6 292.8,114.8 292.0,117.8 C291.2,120.8 291.0,124.1 292.0,127.0 C293.0,129.9 295.3,132.5 297.8,135.3 C300.3,138.1 303.9,140.9 307.0,143.7 C310.1,146.5 313.8,149.5 316.2,152.0 C318.6,154.5 320.2,156.5 321.2,158.7 C322.2,160.9 322.4,163.1 322.4,165.3 C322.4,167.5 322.1,169.9 321.2,172.0 C320.3,174.1 318.5,176.4 317.0,177.8 C315.5,179.2 315.1,179.8 312.0,180.7 C308.9,181.6 304.2,182.3 298.7,183.3 C293.1,184.3 284.3,185.7 278.7,186.7 C273.1,187.7 269.5,188.3 265.3,189.3 C261.1,190.3 256.6,192.0 253.3,192.7 C250.0,193.4 247.7,192.9 245.3,193.3 C242.9,193.7 241.8,194.3 238.7,195.3 C235.6,196.3 231.1,198.9 226.7,199.3 C222.2,199.8 216.4,198.9 212.0,198.0 C207.6,197.1 203.3,195.6 200.0,194.0 C196.7,192.4 195.6,190.9 192.0,188.7 C188.4,186.5 183.1,183.5 178.7,180.7 C174.2,177.9 168.6,174.2 165.3,172.0Z" fill="none" stroke="#000" stroke-width="0.9"/>
<ellipse cx="49.3" cy="147.7" rx="8" ry="5" transform="rotate(25 49.3 147.7)" fill="none" stroke="#000" stroke-width="0.9"/>
<ellipse cx="168" cy="61.4" rx="4.8" ry="2.2" transform="rotate(0 168 61.4)" fill="none" stroke="#000" stroke-width="0.9"/>
<path d="M188.5,55.8 C189.0,55.2 192.2,54.1 195.0,53.6 C197.8,53.1 202.3,52.9 205.0,53.0 C207.7,53.1 210.3,53.5 211.0,54.0 C211.7,54.5 210.8,55.7 209.0,56.2 C207.2,56.7 202.8,57.0 200.0,57.2 C197.2,57.4 193.9,57.6 192.0,57.4 C190.1,57.2 188.0,56.4 188.5,55.8Z" fill="none" stroke="#000" stroke-width="0.9"/>
<path d="M166.2,97.0 C168.0,94.9 169.2,93.8 172.0,92.8 C174.8,91.8 178.9,90.9 182.8,91.2 C186.7,91.5 191.8,93.5 195.3,94.5 C198.8,95.5 200.9,96.3 203.7,97.0 C206.5,97.7 208.9,98.2 212.0,98.7 C215.1,99.2 218.7,99.7 222.0,99.8 C225.3,99.9 228.9,99.5 232.0,99.5 C235.1,99.5 236.8,99.4 240.3,99.5 C243.8,99.6 249.6,99.6 252.8,99.9 C256.0,100.2 257.7,100.4 259.5,101.2 C261.3,102.0 262.7,102.8 263.7,104.5 C264.7,106.2 264.9,108.7 265.3,111.2 C265.7,113.7 265.2,116.9 265.8,119.5 C266.4,122.1 267.1,124.6 268.7,127.0 C270.3,129.4 272.8,131.3 275.3,133.7 C277.8,136.1 280.9,138.7 283.7,141.2 C286.5,143.7 289.6,146.3 292.0,148.7 C294.4,151.0 296.6,153.1 297.8,155.3 C299.1,157.5 299.5,159.9 299.5,162.0 C299.5,164.1 298.9,166.1 297.8,167.8 C296.7,169.5 294.9,170.9 292.8,172.0 C290.7,173.1 288.5,173.5 285.3,174.1 C282.1,174.7 277.7,175.0 273.7,175.3 C269.7,175.7 265.4,175.8 261.2,176.2 C257.0,176.6 252.2,177.2 248.7,177.8 C245.2,178.4 242.6,178.6 240.3,179.5 C238.0,180.4 237.0,182.0 234.7,183.3 C232.4,184.6 229.4,186.9 226.7,187.3 C224.0,187.8 221.8,187.1 218.7,186.0 C215.6,184.9 212.4,182.9 208.0,180.7 C203.6,178.5 195.9,175.1 192.0,172.7 C188.1,170.3 187.2,167.8 184.5,166.2 C181.8,164.6 179.1,164.7 176.0,163.3 C172.9,161.9 169.2,159.7 166.2,157.8 C163.2,155.9 160.0,154.2 157.8,152.0 C155.6,149.8 153.9,147.4 152.8,144.5 C151.7,141.6 151.2,138.2 151.2,134.5 C151.2,130.8 152.0,125.5 152.8,122.0 C153.6,118.5 154.8,116.5 156.2,113.7 C157.6,110.9 159.5,108.1 161.2,105.3 C162.9,102.5 164.4,99.1 166.2,97.0Z" fill="none" stroke="#000" stroke-width="0.9"/>
<path d="M170.3,107.0 C171.3,104.9 172.3,102.6 173.7,101.2 C175.1,99.8 176.5,98.6 178.7,98.7 C180.9,98.8 184.2,100.6 187.0,102.0 C189.8,103.4 192.5,105.5 195.3,107.0 C198.1,108.5 200.9,110.1 203.7,111.2 C206.5,112.3 208.9,112.7 212.0,113.7 C215.1,114.8 218.7,116.0 222.0,117.5 C225.3,119.0 228.9,121.1 232.0,122.8 C235.1,124.5 237.5,126.1 240.3,127.8 C243.1,129.5 245.9,131.0 248.7,132.8 C251.5,134.6 254.5,136.8 257.0,138.7 C259.5,140.6 261.8,142.4 263.7,144.5 C265.6,146.6 267.5,149.1 268.7,151.2 C269.9,153.3 270.8,155.3 270.8,157.0 C270.8,158.7 269.6,160.1 268.7,161.2 C267.8,162.3 267.4,162.6 265.3,163.5 C263.2,164.4 259.3,166.1 256.0,166.7 C252.7,167.3 249.3,167.2 245.3,167.3 C241.3,167.4 236.4,167.5 232.0,167.3 C227.6,167.1 223.6,166.6 218.7,166.0 C213.8,165.4 206.9,164.7 202.7,164.0 C198.5,163.3 195.9,162.6 193.7,162.0 C191.5,161.4 191.4,162.2 189.3,160.7 C187.2,159.1 183.5,155.0 181.3,152.7 C179.1,150.4 177.8,149.3 176.2,147.0 C174.6,144.7 173.2,141.5 172.0,138.7 C170.8,135.9 169.5,133.1 168.7,130.3 C167.9,127.5 167.6,124.8 167.4,122.0 C167.2,119.2 167.3,116.2 167.8,113.7 C168.3,111.2 169.3,109.1 170.3,107.0Z" fill="none" stroke="#000" stroke-width="0.9"/>
<path d="M523.2,21.0 C524.5,20.4 526.4,18.1 530.7,17.3 C535.1,16.5 543.1,16.4 549.3,16.3 C555.5,16.2 563.3,16.3 568.0,16.8 C572.7,17.3 574.3,18.0 577.4,19.1 C580.5,20.2 584.4,22.1 586.7,23.3 C589.0,24.6 589.1,25.9 591.4,26.6 C593.7,27.3 595.3,26.2 600.7,27.5 C606.1,28.8 620.1,33.0 624.0,34.1 L630.0,35.8" fill="none" stroke="#000" stroke-width="0.9"/>
<path d="M-6.0,32.0 L0.0,33.8 C4.3,35.1 17.3,39.0 26.0,41.6 C34.7,44.2 43.3,46.1 52.0,49.4 C60.7,52.6 69.3,57.0 78.0,61.1 C86.7,65.2 98.3,70.9 104.0,74.1 C109.7,77.2 109.8,78.0 112.0,80.0 C114.2,82.0 115.6,83.7 117.0,86.0 C118.4,88.3 120.0,90.9 120.5,93.6 C121.0,96.3 120.4,99.3 120.0,102.0 C119.6,104.7 119.3,107.2 118.0,110.0 C116.7,112.8 114.2,115.7 112.0,119.0 C109.8,122.3 106.3,126.2 104.5,130.0 C102.7,133.8 101.3,138.3 101.0,142.0 C100.7,145.7 101.6,149.0 102.5,152.0 C103.4,155.0 105.0,157.5 106.6,160.0 C108.2,162.5 109.9,164.9 112.0,167.0 C114.1,169.1 116.0,170.6 119.0,172.8 C122.0,175.0 126.0,177.9 130.0,180.3 C134.0,182.7 138.7,184.8 143.0,187.2 C147.3,189.6 153.2,192.6 156.0,195.0 C158.8,197.4 159.0,198.9 160.0,201.5 C161.0,204.1 161.9,206.9 161.9,210.6 C161.9,214.3 160.8,219.5 160.0,223.6 C159.2,227.7 157.8,231.4 157.0,235.0 C156.2,238.6 155.6,241.7 155.5,245.0 C155.4,248.3 155.6,252.0 156.5,255.0 C157.4,258.0 158.9,260.4 161.0,263.0 C163.1,265.6 165.8,268.7 169.0,270.4 C172.2,272.1 178.2,272.6 180.0,273.0" fill="none" stroke="#000" stroke-width="0.9"/>
<path d="M8.7,136.7 C9.0,135.1 9.7,129.5 10.7,127.3 C11.7,125.1 13.1,124.2 14.7,123.3 C16.2,122.4 17.4,122.3 20.0,122.0 C22.6,121.7 26.1,121.5 30.0,121.5 C33.9,121.5 39.3,121.2 43.3,121.8 C47.3,122.4 50.6,124.4 54.2,125.1 C57.8,125.8 61.8,125.5 65.0,126.2 C68.2,126.9 71.7,128.1 73.7,129.4 C75.7,130.7 76.5,132.1 77.0,134.0 C77.5,135.9 77.3,138.8 76.7,140.7 C76.1,142.6 74.8,143.6 73.3,145.3 C71.8,147.0 69.2,149.0 68.0,150.7 C66.8,152.4 66.7,153.9 66.0,155.3 C65.3,156.7 65.0,157.7 64.0,159.3 C63.0,160.9 61.5,162.9 60.0,164.7 C58.5,166.5 56.9,168.2 54.7,170.0 C52.5,171.8 49.6,173.5 46.7,175.3 C43.8,177.1 39.8,179.6 37.3,180.7 C34.8,181.8 33.4,182.2 32.0,182.0 C30.6,181.8 29.6,180.6 28.7,179.3 C27.8,178.0 27.8,175.8 26.7,174.0 C25.6,172.2 23.7,170.5 22.0,168.7 C20.3,166.9 18.1,165.2 16.7,163.3 C15.2,161.4 14.3,159.5 13.3,157.3 C12.3,155.1 11.5,152.6 10.7,150.0 C9.9,147.4 9.0,144.2 8.7,142.0 C8.4,139.8 8.7,137.6 8.7,136.7" fill="none" stroke="#000" stroke-width="0.9"/>
<path d="M414.0,60.5 C414.3,61.4 416.8,63.7 416.0,66.0 C415.2,68.3 412.8,72.3 409.5,74.1 C406.2,75.9 400.8,75.4 396.5,76.7 C392.2,78.0 387.8,79.5 383.5,81.9 C379.2,84.3 374.8,87.5 370.5,91.0 C366.2,94.5 361.4,99.0 357.5,102.7 C353.6,106.4 349.7,109.6 347.1,113.1 C344.5,116.6 342.5,120.2 341.9,123.5 C341.2,126.8 341.9,129.3 343.2,132.6 C344.5,135.8 347.8,139.1 349.7,143.0 C351.6,146.9 352.9,151.7 354.9,156.0 C356.8,160.3 359.2,163.8 361.4,169.0 C363.6,174.2 366.4,181.1 367.9,187.2 C369.4,193.3 369.0,199.3 370.5,205.4 C372.0,211.5 374.6,217.8 377.0,223.6 C379.4,229.4 381.3,234.9 384.8,240.5 C388.3,246.1 392.6,252.6 397.8,257.4 C403.0,262.2 409.7,265.6 416.0,269.1 C422.3,272.6 430.1,276.0 435.5,278.2 C440.9,280.4 443.1,281.7 448.5,282.1 C453.9,282.5 464.8,281.0 468.0,280.8" fill="none" stroke="#000" stroke-width="0.9"/>
<g transform="translate(300.1,79.8) rotate(55)"><rect x="-7.5" y="-7.5" width="15" height="15" fill="#fff"/><text x="0" y="4.6" text-anchor="middle" font-size="13">.2</text></g>
<g transform="translate(401.4,159.1) rotate(-30)"><rect x="-9.0" y="-7.5" width="18" height="15" fill="#fff"/><text x="0" y="4.6" text-anchor="middle" font-size="13">-.2</text></g>
<g transform="translate(44.1,281.6) rotate(0)"><rect x="-9.0" y="-7.5" width="18" height="15" fill="#fff"/><text x="0" y="4.6" text-anchor="middle" font-size="13">-.2</text></g>
<g transform="translate(181.2,271.7) rotate(0)"><rect x="-7.5" y="-7.5" width="15" height="15" fill="#fff"/><text x="0" y="4.6" text-anchor="middle" font-size="13">.0</text></g>
<g transform="translate(236.6,290.4) rotate(-35)"><rect x="-9.0" y="-7.5" width="18" height="15" fill="#fff"/><text x="0" y="4.6" text-anchor="middle" font-size="13">-.2</text></g>
<g transform="translate(405.8,287.5) rotate(-15)"><rect x="-7.5" y="-7.5" width="15" height="15" fill="#fff"/><text x="0" y="4.6" text-anchor="middle" font-size="13">.0</text></g>
<g transform="translate(415.8,66.6) rotate(60)"><rect x="-7.5" y="-7.5" width="15" height="15" fill="#fff"/><text x="0" y="4.6" text-anchor="middle" font-size="13">.0</text></g>
<use href="#coast"/>
</svg></g>
<g transform="translate(288.0,840.0)">
<svg width="624" height="312" viewBox="0 0 624 312" overflow="hidden">

<path d="M540.0,12.5 C543.3,12.2 555.2,11.1 560.0,10.5 C564.8,9.9 563.8,9.6 569.0,8.8 C574.2,8.0 584.2,6.3 591.0,5.5 C597.8,4.7 604.5,4.2 610.0,3.8 C615.5,3.3 621.7,3.0 624.0,2.8 L630.0,2.7" fill="none" stroke="#000" stroke-width="0.9"/>
<path d="M-6.0,3.0 L0.0,3.0 C4.5,3.0 17.8,2.9 26.7,2.8 C35.6,2.7 40.4,2.4 53.3,2.3 C66.2,2.2 86.9,2.0 104.0,2.1 C121.1,2.2 140.8,2.1 156.0,2.6 C171.2,3.1 184.2,3.5 195.0,5.2 C205.8,6.9 214.3,10.6 221.0,13.0 C227.7,15.4 232.0,17.9 235.3,19.5 C238.6,21.1 240.1,22.0 241.0,22.5" fill="none" stroke="#000" stroke-width="0.9"/>
<path d="M255.0,25.8 C255.8,25.8 254.8,25.1 260.0,26.0 C265.2,26.9 277.3,29.6 286.0,31.2 C294.7,32.8 305.9,33.3 312.0,35.5 C318.1,37.7 320.2,40.2 322.4,44.2 C324.6,48.2 325.4,54.6 325.0,59.8 C324.6,65.0 322.0,71.5 319.8,75.4 C317.6,79.3 317.6,78.9 312.0,83.2 C306.4,87.5 294.7,96.2 286.0,101.4 C277.3,106.6 267.4,110.9 260.0,114.4 C252.6,117.9 245.9,120.0 241.8,122.2 C237.7,124.4 235.7,125.2 235.3,127.4 C234.9,129.6 235.9,133.0 239.2,135.2 C242.4,137.4 249.2,138.7 254.8,140.4 C260.4,142.1 268.2,143.0 273.0,145.6 C277.8,148.2 281.4,152.5 283.4,156.0 C285.3,159.5 284.3,161.2 284.7,166.4 C285.1,171.6 285.8,180.3 286.0,187.2 C286.2,194.1 286.4,202.2 286.0,208.0 C285.6,213.8 284.2,219.0 283.4,222.3 C282.6,225.6 281.4,227.1 281.0,228.0" fill="none" stroke="#000" stroke-width="0.9"/>
<path d="M-6.0,19.2 L0.0,19.0 C2.2,18.9 9.5,18.5 13.3,18.3 C17.1,18.1 21.1,18.1 22.7,18.0" fill="none" stroke="#000" stroke-width="0.9"/>
<path d="M-6.0,31.8 L0.0,31.3 C1.1,30.9 3.9,29.8 6.7,28.7 C9.5,27.6 13.4,25.7 16.7,24.7 C20.0,23.7 24.1,23.1 26.7,22.7 C29.2,22.2 31.1,22.1 32.0,22.0" fill="none" stroke="#000" stroke-width="0.9"/>
<path d="M558.0,13.2 C559.8,13.8 566.2,15.0 569.0,16.5 C571.8,18.0 573.8,20.4 574.5,22.0 C575.2,23.6 575.2,25.3 573.4,26.4 C571.6,27.5 567.0,27.7 563.5,28.6 C560.0,29.5 555.6,30.8 552.5,31.9 C549.4,33.0 547.5,34.3 544.8,35.2 C542.0,36.1 539.3,36.7 536.0,37.4 C532.7,38.1 528.7,39.0 525.0,39.6 C521.3,40.2 518.0,40.3 514.0,40.7 C510.0,41.1 503.4,40.9 500.8,41.8 C498.2,42.7 498.9,44.0 498.6,46.2 C498.3,48.4 498.5,52.4 499.2,55.0 C499.9,57.6 500.5,59.9 503.0,61.6 C505.5,63.4 510.3,65.0 514.0,65.5 C517.7,66.0 522.2,65.3 525.0,64.9 C527.8,64.5 528.7,64.1 530.5,63.3 C532.3,62.5 534.2,61.2 536.0,60.0 C537.8,58.8 539.3,57.7 541.5,56.1 C543.7,54.5 547.2,51.9 549.2,50.6 C551.2,49.3 552.1,49.7 553.6,48.4 C555.1,47.1 555.4,44.2 558.0,42.9 C560.6,41.6 565.3,41.6 569.0,40.7 C572.7,39.8 576.3,38.5 580.0,37.4 C583.7,36.3 588.2,35.4 591.0,34.1 C593.8,32.8 594.7,31.0 596.5,29.7 C598.3,28.4 600.2,27.7 602.0,26.4 C603.8,25.1 605.7,23.0 607.5,22.0 C609.3,21.0 610.2,20.9 613.0,20.4 C615.8,19.8 622.2,19.0 624.0,18.7 L630.0,18.8" fill="none" stroke="#000" stroke-width="0.9"/>
<path d="M-6.0,38.0 L0.0,39.3 C1.1,39.9 4.7,41.5 6.7,42.7 C8.7,43.9 10.7,45.4 12.0,46.7 C13.3,48.0 13.9,49.6 14.7,50.7 C15.5,51.8 15.5,52.2 16.7,53.3 C17.9,54.3 20.4,55.0 22.0,57.0 C23.6,59.0 25.6,61.5 26.0,65.0 C26.4,68.5 26.0,74.1 24.7,78.0 C23.4,81.9 20.4,84.9 18.2,88.4 C16.0,91.9 13.4,95.5 11.7,98.8 C10.0,102.1 8.5,104.5 7.8,108.0 C7.1,111.5 7.4,117.1 7.3,120.0 C7.2,122.9 6.3,123.1 7.3,125.3 C8.3,127.5 11.2,131.0 13.3,133.3 C15.4,135.6 17.6,137.7 20.0,139.3 C22.4,140.9 25.9,141.4 28.0,142.7 C30.1,144.0 32.6,145.3 32.7,147.3 C32.8,149.3 30.1,152.6 28.7,154.7 C27.2,156.8 25.0,158.7 24.0,160.0 C23.0,161.3 22.9,162.2 22.7,162.7" fill="none" stroke="#000" stroke-width="0.9"/>
<path d="M-6.0,156.5 L0.0,157.0 C0.9,157.5 4.1,158.4 5.3,160.0 C6.5,161.6 7.0,164.5 7.3,166.7 C7.6,168.9 6.5,171.1 7.3,173.3 C8.1,175.5 10.1,178.0 12.0,180.0 C13.9,182.0 17.4,183.6 18.7,185.3 C20.0,187.0 20.1,187.8 20.0,190.0 C19.9,192.2 18.7,195.0 18.0,198.7 C17.3,202.4 15.8,208.9 15.6,212.0 C15.4,215.1 15.9,215.9 17.0,217.0 C18.1,218.1 18.4,217.7 22.1,218.4 C25.8,219.1 34.0,220.1 39.0,221.0 C44.0,221.9 47.7,222.3 52.0,223.6 C56.3,224.9 62.0,227.3 65.0,228.8 C68.0,230.3 70.6,231.0 70.2,232.7 C69.8,234.4 65.4,236.6 62.4,239.2 C59.4,241.8 54.6,246.7 52.0,248.3 C49.4,250.0 48.5,250.0 46.8,249.1 C45.1,248.2 45.1,244.7 41.6,243.1 C38.1,241.5 31.2,239.9 26.0,239.7 C20.8,239.5 14.7,241.9 10.4,241.8 C6.1,241.7 1.7,239.6 0.0,239.2 L-6.0,238.0" fill="none" stroke="#000" stroke-width="0.9"/>
<path d="M161.2,45.5 C164.7,44.4 174.2,41.4 182.0,39.0 C189.8,36.6 200.2,32.1 208.0,31.2 C215.8,30.3 223.2,31.2 228.8,33.8 C234.4,36.4 241.8,44.4 241.8,46.8 C241.8,49.2 234.4,47.5 228.8,48.1 C223.2,48.8 211.9,48.8 208.0,50.7 C204.1,52.7 208.9,57.4 205.4,59.8 C201.9,62.2 193.7,64.3 187.2,65.0 C180.7,65.7 171.4,65.0 166.4,63.7 C161.4,62.4 158.2,60.2 157.3,57.2 C156.4,54.2 160.5,47.5 161.2,45.5" fill="none" stroke="#000" stroke-width="0.9"/>
<path d="M49.4,171.6 C51.6,172.9 58.9,176.4 62.4,179.4 C65.9,182.4 68.5,185.0 70.2,189.8 C71.9,194.6 71.5,202.4 72.8,208.0 C74.1,213.6 77.6,219.9 78.0,223.6 C78.4,227.3 73.7,228.8 75.4,230.1 C77.1,231.4 85.8,230.8 88.4,231.4 C91.0,232.1 91.9,232.7 91.0,234.0 C90.1,235.3 84.1,237.2 83.2,239.2 C82.3,241.1 82.3,244.0 85.8,245.7 C89.3,247.4 96.6,247.9 104.0,249.6 C111.4,251.3 121.3,254.4 130.0,256.1 C138.7,257.8 147.3,259.1 156.0,260.0 C164.7,260.9 173.3,261.3 182.0,261.3 C190.7,261.3 199.3,260.6 208.0,260.0 C216.7,259.4 225.3,258.9 234.0,257.4 C242.7,255.9 253.9,253.1 260.0,250.9 C266.1,248.7 267.8,246.4 270.4,244.4 C273.0,242.4 274.7,240.1 275.6,239.2" fill="none" stroke="#000" stroke-width="0.9"/>
<path d="M-6.0,281.0 L0.0,279.6 C2.2,278.2 8.6,274.2 13.0,271.5 C17.4,268.8 21.0,266.4 26.6,263.5 C32.2,260.6 38.2,255.5 46.8,254.3 C55.4,253.1 67.2,255.4 78.0,256.1 C88.8,256.8 106.6,257.4 111.8,258.7 C117.0,260.0 111.4,261.9 109.2,263.9 C107.0,265.8 104.0,268.0 98.8,270.4 C93.6,272.8 83.2,276.2 78.0,278.2 C72.8,280.1 68.9,281.2 67.6,282.1 C66.3,283.0 71.1,282.8 70.2,283.4 C69.3,284.0 67.2,285.6 62.4,286.0 C57.6,286.4 49.4,286.9 41.6,286.0 C33.8,285.1 21.7,282.1 15.6,280.8 C9.5,279.5 7.8,278.8 5.2,278.2 C2.6,277.6 0.9,277.6 0.0,277.5" fill="none" stroke="#000" stroke-width="0.9"/>
<path d="M624.0,277.5 L630.0,277.5" fill="none" stroke="#000" stroke-width="0.9"/>
<path d="M520.0,283.4 C523.5,283.8 536.3,285.2 540.8,286.0 C545.3,286.8 546.0,287.7 547.0,288.0" fill="none" stroke="#000" stroke-width="0.9"/>
<path d="M561.6,291.2 C565.9,291.6 582.4,292.1 587.6,293.8 C592.8,295.5 586.7,299.4 592.8,301.6 C598.9,303.8 618.8,305.9 624.0,306.8 L630.0,307.0" fill="none" stroke="#000" stroke-width="0.9"/>
<path d="M-6.0,305.3 L0.0,305.5 C6.5,305.7 27.7,306.8 39.0,306.8 C50.3,306.8 61.1,307.0 67.6,305.5 C74.1,304.0 71.9,299.6 78.0,297.7 C84.1,295.8 93.2,295.1 104.0,293.8 C114.8,292.5 130.0,291.2 143.0,289.9 C156.0,288.6 169.0,287.5 182.0,286.0 C195.0,284.5 208.0,282.1 221.0,280.8 C234.0,279.5 249.2,278.9 260.0,278.2 C270.8,277.5 281.2,277.2 286.0,276.9 C290.8,276.6 288.5,276.6 289.0,276.5" fill="none" stroke="#000" stroke-width="0.9"/>
<path d="M301.0,275.0 C302.0,274.9 305.0,274.6 306.8,274.3 C308.6,274.0 306.8,274.3 312.0,273.0 C317.2,271.7 327.2,268.4 338.0,266.5 C348.8,264.6 367.0,263.5 377.0,261.3 C387.0,259.1 391.3,255.2 397.8,253.5 C404.3,251.8 410.8,250.5 416.0,250.9 C421.2,251.3 426.2,254.2 429.0,256.1 C431.8,258.1 434.2,260.7 432.9,262.6 C431.6,264.6 425.3,266.3 421.2,267.8 C417.1,269.3 410.8,270.0 408.2,271.7 C405.6,273.4 405.2,276.2 405.6,278.2 C406.0,280.1 405.1,282.3 410.8,283.4 C416.5,284.5 428.5,284.9 440.0,285.0 C451.5,285.1 466.7,284.5 480.0,284.2 C493.3,283.9 513.3,283.5 520.0,283.4" fill="none" stroke="#000" stroke-width="0.9"/>
<path d="M436.8,145.0 C436.8,144.2 437.2,144.2 436.8,140.4 C436.4,136.6 436.4,126.3 434.2,122.2 C432.0,118.1 429.0,116.6 423.8,115.7 C418.6,114.8 409.5,115.9 403.0,117.0 C396.5,118.1 389.6,119.6 384.8,122.2 C380.0,124.8 376.3,129.3 374.4,132.6 C372.4,135.8 372.2,138.7 373.1,141.7 C374.0,144.7 376.0,148.4 379.6,150.8 C383.2,153.2 391.1,154.5 395.0,156.0 C398.9,157.5 397.8,157.0 403.0,160.0 C408.2,163.0 422.1,170.1 426.4,174.2 C430.7,178.3 426.8,180.7 429.0,184.6 C431.2,188.5 436.8,193.3 439.4,197.6 C442.0,201.9 443.5,205.8 444.6,210.6 C445.7,215.4 444.6,222.5 445.9,226.2 C447.2,229.9 448.7,231.6 452.4,232.7 C456.1,233.8 463.2,233.1 468.0,232.7 C472.8,232.3 476.7,230.8 481.0,230.1 C485.3,229.4 491.0,228.8 494.0,228.8 C497.0,228.8 496.6,231.4 499.2,230.1 C501.8,228.8 507.0,223.8 509.6,221.0 C512.2,218.2 511.8,216.2 514.8,213.2 C517.8,210.2 525.4,206.3 527.8,202.8 C530.2,199.3 529.5,195.9 529.1,192.4 C528.7,188.9 526.7,183.3 525.2,182.0 C523.7,180.7 522.2,184.6 520.0,184.6 C517.8,184.6 514.8,183.7 512.2,182.0 C509.6,180.3 507.4,176.4 504.4,174.2 C501.4,172.0 497.0,170.5 494.0,169.0 C491.0,167.5 493.6,166.8 486.2,165.1 C478.8,163.4 455.9,159.7 449.8,158.6" fill="none" stroke="#000" stroke-width="0.9"/>
<path d="M630.0,157.0 L624.0,156.8 C621.3,156.6 613.3,155.9 608.0,155.5 C602.7,155.1 597.3,154.6 592.0,154.4 C586.7,154.2 581.3,154.2 576.0,154.4 C570.7,154.6 564.1,154.9 560.0,155.5 C555.9,156.1 554.1,155.7 551.2,157.8 C548.3,159.9 545.3,164.4 542.4,168.0 C539.5,171.6 535.2,176.0 533.6,179.2 C532.0,182.4 532.5,184.3 532.8,187.2 C533.1,190.1 534.9,194.7 535.2,196.8 C535.5,198.9 532.9,199.3 534.4,200.0 C535.9,200.7 539.2,199.7 544.0,200.8 C548.8,201.9 557.9,203.3 563.2,206.4 C568.5,209.5 571.7,215.2 576.0,219.2 C580.3,223.2 583.5,227.7 588.8,230.4 C594.1,233.1 602.1,233.7 608.0,235.2 C613.9,236.7 621.3,238.5 624.0,239.2 L630.0,240.0" fill="none" stroke="#000" stroke-width="0.9"/>
<ellipse cx="120.1" cy="163.8" rx="10.9" ry="7" fill="none" stroke="#000" stroke-width="0.9"/>
<ellipse cx="604" cy="206.4" rx="7.2" ry="4.6" fill="none" stroke="#000" stroke-width="0.9"/>
<ellipse cx="50.5" cy="234.7" rx="3" ry="1.5" fill="none" stroke="#000" stroke-width="0.9"/>
<g transform="translate(247.0,25.0) rotate(20)"><text x="0" y="4.6" text-anchor="middle" font-size="12.5">.00</text></g>
<g transform="translate(39.0,174.2) rotate(-15)"><text x="0" y="4.6" text-anchor="middle" font-size="12.5">.00</text></g>
<g transform="translate(278.2,231.4) rotate(-60)"><text x="0" y="4.6" text-anchor="middle" font-size="12.5">.00</text></g>
<g transform="translate(295.1,276.1) rotate(-10)"><text x="0" y="4.6" text-anchor="middle" font-size="12.5">.00</text></g>
<g transform="translate(553.8,289.9) rotate(5)"><text x="0" y="4.6" text-anchor="middle" font-size="12.5">.00</text></g>
<g transform="translate(442.0,150.8) rotate(60)"><text x="0" y="4.6" text-anchor="middle" font-size="12.5">.00</text></g>
<use href="#coast"/>
</svg></g>
<defs><g id="coast" fill="none" stroke="#000" stroke-width="1.1" stroke-linejoin="round"><path d="M416.1,23.4 423.1,21.7 428.3,22.5 424.8,24.3 417.9,24.6 416.1,23.4"/><path d="M433.5,19.9 440.4,19.2 443.9,20.3 436.9,20.8 433.5,19.9"/><path d="M431.7,21.1 438.7,20.8 440.4,21.8 433.5,22.0 431.7,21.1"/><path d="M447.3,20.3 452.5,19.2 454.3,20.3 449.1,21.0 447.3,20.3"/><path d="M457.7,20.5 461.2,19.4 462.1,20.3 459.5,21.0 457.7,20.5"/><path d="M460.3,26.3 464.7,25.0 466.4,26.0 462.9,26.9 460.3,26.3"/><path d="M488.9,29.1 494.1,28.1 495.9,28.9 490.7,29.8 488.9,29.1"/><path d="M456.0,37.3 461.2,35.5 459.5,34.7 454.3,36.1 456.0,37.3"/><path d="M482.9,47.7 487.2,46.8 488.9,47.8 484.6,48.5 482.9,47.7"/><path d="M435.2,54.1 439.5,53.2 443.9,53.4 439.5,53.9 435.2,54.1"/><path d="M449.9,54.9 451.1,55.8 450.5,57.2 449.4,56.2 449.9,54.9"/><path d="M578.2,89.1 579.9,88.7 581.1,89.3"/><path d="M582.9,90.5 583.9,90.5"/><path d="M596.6,106.4 597.8,107.1"/><path d="M598.5,106.8 599.7,106.6"/><path d="M600.2,107.3 600.9,107.8"/><path d="M602.8,106.8 603.7,106.3"/><path d="M224.8,110.6 226.0,109.5"/><path d="M227.7,107.1 228.4,106.6"/><path d="M256.3,80.1 258.1,79.2"/><path d="M260.1,77.7 261.5,77.1"/><path d="M263.6,76.3 265.0,75.4"/><path d="M267.4,74.0 268.3,73.5"/><path d="M333.3,64.3 336.4,63.6 339.9,62.6 342.5,61.7"/><path d="M322.2,66.2 323.4,66.0"/><path d="M303.1,64.3 304.0,64.5"/><path d="M346.8,61.2 349.4,60.1"/><path d="M357.4,121.0 358.9,121.9 359.3,122.2 357.9,123.2 357.2,122.0 357.4,121.0"/><path d="M356.0,119.6 357.2,119.9 356.5,120.3 356.0,119.6"/><path d="M353.2,118.6 354.3,119.1 353.6,119.1 353.2,118.6"/><path d="M350.6,117.5 351.5,117.7 351.1,118.0 350.6,117.5"/><path d="M122.9,240.6 125.5,240.9 124.9,242.1 123.2,241.8 122.9,240.6"/><path d="M-6.1,93.6 -7.3,92.7 -8.5,91.5 -11.8,91.9 -11.7,89.3 -12.9,88.7 -11.5,84.8 -12.5,81.6 -11.0,80.8 -6.3,80.4 -3.0,80.6 0.5,80.8 1.3,78.7 1.5,75.9 -0.2,74.0 -4.0,73.0 -4.5,72.1 -1.6,71.4 0.1,71.8 0.8,69.9 1.9,70.4 3.8,70.2 5.5,69.5 6.4,68.6 6.9,67.6 8.6,67.3 9.8,66.7 10.5,66.0 11.4,65.2 11.9,64.2 13.1,63.6 14.9,63.4 16.1,63.6 17.6,63.3 18.7,62.6 19.0,61.7 18.5,60.7 17.6,59.6 17.8,57.9 18.5,57.0 20.8,56.3 22.0,56.0 21.8,56.9 21.5,58.6 22.5,58.2 20.6,59.8 20.9,61.0 21.3,61.7 22.5,62.4 24.6,62.1 27.0,61.7 28.4,62.6 30.6,62.1 33.1,61.4 36.0,61.7 37.6,61.7 39.1,61.2 40.2,59.5 40.0,58.1 40.9,56.5 42.8,55.9 44.3,57.2 45.4,57.2 45.9,55.6 46.1,54.8 44.3,54.1 46.4,53.0 48.7,52.7 52.1,52.9 55.9,52.2 53.3,51.1 50.4,51.1 46.9,51.7 43.5,52.3 42.3,51.2 40.7,50.3 41.0,46.6 44.3,45.1 47.6,43.3 45.4,41.9 41.9,42.3 40.0,44.2 38.8,45.4 35.7,46.8 33.6,47.8 33.4,50.8 35.7,51.7 36.4,53.2 33.9,54.1 32.2,54.4 32.4,56.3 32.0,57.7 30.6,58.6 28.2,60.0 26.1,60.0 25.8,59.3 25.6,58.6 24.2,56.0 23.0,53.9 22.0,52.2 21.3,53.6 20.1,53.9 17.5,55.3 15.7,55.5 13.3,53.9 12.8,52.9 12.6,51.3 12.3,49.4 14.2,47.7 16.9,46.6 19.2,45.9 20.9,45.1 22.7,43.5 24.9,42.5 26.1,40.7 28.6,39.3 30.5,37.8 32.2,36.7 36.5,35.2 40.0,34.5 44.7,33.5 48.3,32.8 53.0,33.1 57.5,34.0 55.6,35.0 60.8,35.7 66.0,36.2 70.3,37.4 74.7,39.3 75.4,40.2 72.9,41.1 68.6,41.3 64.3,40.6 61.7,40.4 59.8,39.7 61.8,41.6 63.6,43.5 65.1,44.5 67.7,45.2 69.5,44.5 69.5,43.5 72.1,44.0 73.8,44.0 72.9,43.0 76.4,40.9 78.1,41.6 80.2,41.3 79.5,39.3 78.7,37.1 81.3,37.3 83.3,38.7 87.7,38.7 90.3,38.1 95.5,37.6 98.1,36.7 100.7,37.1 104.1,36.6 108.5,35.0 112.8,35.5 118.0,36.7 121.5,37.3 119.7,35.5 122.3,33.8 120.6,32.1 123.2,29.8 124.1,28.8 127.5,29.8 129.3,32.1 129.3,34.7 130.1,37.3 129.3,40.7 131.9,39.0 132.7,37.3 131.0,35.5 132.7,32.9 134.5,30.3 138.8,30.9 142.3,31.2 144.9,32.1 146.6,33.8 147.5,32.4 144.0,30.3 143.1,28.6 149.2,28.1 152.7,27.7 154.4,26.0 159.6,25.1 168.3,24.3 175.2,23.4 178.7,22.0 184.4,21.3 187.3,22.0 189.9,22.9 197.7,23.7 200.3,25.0 198.6,27.7 199.5,28.6 204.7,28.3 209.9,29.3 216.8,28.6 222.0,28.6 226.3,29.5 228.1,32.1 230.7,32.9 233.3,32.1 237.6,32.1 241.9,32.2 246.3,30.3 249.7,30.0 256.7,30.5 263.6,32.1 267.1,33.3 272.3,32.9 277.5,33.3 280.9,35.2 284.4,35.4 289.6,35.4 294.8,35.0 299.1,34.5 303.5,35.0 308.7,35.0 313.0,35.9 316.5,36.6 320.8,38.5 325.1,39.9 329.5,41.3 333.5,41.4 330.3,42.8 327.7,44.4 324.3,43.7 320.8,42.6 317.3,43.3 313.0,44.2 311.3,46.8 313.9,47.7 309.5,47.7 305.2,48.9 301.7,50.3 298.3,52.0 293.1,51.5 289.6,51.7 287.0,52.3 286.1,53.7 284.4,55.5 286.1,56.0 284.4,58.6 284.4,61.2 280.9,62.4 278.5,64.1 276.6,66.7 275.2,67.8 274.3,65.9 274.0,63.3 273.3,60.7 274.0,58.1 275.7,55.8 278.3,55.1 280.9,52.9 284.4,51.3 287.0,49.1 284.4,48.7 281.8,48.9 279.2,49.1 275.7,49.4 272.3,51.7 268.8,53.4 265.3,52.9 260.1,53.2 254.9,53.0 251.8,53.0 248.9,54.6 246.3,56.3 243.7,58.9 241.9,61.0 240.2,61.4 242.8,62.7 245.4,62.1 248.0,63.6 248.5,65.0 247.5,67.6 247.1,71.9 245.4,73.7 242.8,76.3 239.3,79.7 237.6,80.6 234.1,81.8 232.2,81.3 230.1,82.7 228.4,84.9 226.3,86.7 224.6,87.7 226.3,89.6 227.9,91.9 227.9,94.3 227.4,95.2 224.6,96.0 222.5,96.2 222.9,93.9 222.9,92.2 223.0,91.0 220.6,90.5 219.9,89.1 220.8,87.5 219.6,87.0 216.8,87.2 214.4,88.4 213.7,88.7 215.1,86.7 215.6,85.8 213.3,85.1 210.7,87.0 209.0,88.1 207.6,88.4 208.1,89.6 209.9,91.5 211.6,91.0 212.8,90.5 216.1,91.2 214.2,92.2 212.1,93.6 210.4,95.3 212.1,96.5 212.5,98.8 213.3,99.8 214.9,101.1 214.9,102.4 213.2,103.5 215.1,104.3 214.2,106.9 212.6,108.3 211.6,110.1 210.9,110.9 209.9,112.3 208.3,113.5 206.4,115.1 204.7,116.3 201.5,117.3 200.3,117.5 197.7,118.2 196.0,118.7 194.8,120.8 193.7,118.7 192.7,118.7 190.8,118.6 188.5,119.9 187.3,121.7 186.6,123.4 188.2,125.7 189.6,127.4 191.1,128.1 192.4,129.5 192.9,132.6 193.1,135.2 192.2,136.6 190.8,137.1 189.2,138.0 188.2,139.5 186.5,140.7 185.3,141.1 185.6,139.0 184.7,138.0 183.0,137.6 182.1,136.1 180.9,134.9 178.5,134.0 177.8,132.6 176.9,133.5 176.1,136.1 175.5,138.1 176.6,140.1 177.6,143.5 178.7,144.0 180.7,145.3 182.8,148.2 182.8,151.3 184.2,153.6 183.2,153.7 181.3,152.7 179.2,151.1 177.6,148.2 177.5,144.7 176.6,144.6 174.0,142.1 174.5,138.7 174.3,134.3 173.5,130.3 172.9,127.4 171.4,126.9 170.5,127.4 168.3,128.6 166.9,128.3 167.6,123.9 166.5,122.2 164.8,121.3 163.6,119.6 162.7,117.3 160.5,117.9 157.9,118.4 156.1,118.6 154.4,119.6 154.1,120.8 150.9,122.5 149.2,124.5 148.0,125.3 146.3,127.2 144.3,128.6 142.8,130.0 142.8,133.3 141.9,136.1 141.9,138.1 141.1,138.1 139.1,140.6 137.9,142.0 136.4,140.6 135.9,139.4 134.8,136.4 133.6,134.3 132.7,131.7 131.5,129.1 130.7,126.5 129.8,123.1 130.0,120.3 129.4,118.7 129.3,117.5 128.6,119.3 126.7,119.9 124.9,119.8 123.2,117.3 125.3,116.8 124.4,116.3 122.3,115.3 120.6,114.6 119.7,113.0 118.9,112.0 114.5,112.1 111.6,112.5 110.2,112.3 106.7,112.0 105.5,111.8 102.9,111.3 102.4,109.2 101.2,108.9 98.6,110.1 96.3,109.5 94.6,108.5 92.9,107.6 91.7,105.9 90.4,104.2 89.4,104.0 88.2,103.7 86.8,104.2 86.8,104.9 87.7,107.5 89.2,109.0 89.7,109.7 90.6,110.6 91.1,112.0 91.7,113.0 92.3,110.9 93.0,112.1 92.9,113.4 94.6,114.1 97.9,113.7 99.8,112.0 100.7,111.1 101.4,110.4 101.4,112.8 102.7,114.6 105.0,115.1 107.3,117.0 106.2,118.9 105.0,120.5 103.6,123.1 102.1,123.8 100.7,125.0 98.9,126.5 96.3,127.2 94.1,129.0 88.5,130.9 85.1,132.6 81.6,133.8 78.8,134.2 78.1,132.6 77.8,130.3 77.4,127.4 75.5,123.9 73.8,121.7 71.5,118.7 70.7,116.1 69.5,114.4 68.1,112.3 66.9,110.9 65.3,108.3 64.3,107.3 64.3,104.9 63.6,105.9 63.2,107.5 62.9,107.8 61.7,106.9 59.9,104.2"/><path d="M617.9,93.6 616.7,92.7 615.5,91.5 612.2,91.9 612.3,89.3 611.1,88.7 612.5,84.8 611.5,81.6 613.0,80.8 617.7,80.4 621.0,80.6 624.5,80.8 625.3,78.7 625.5,75.9 623.8,74.0 620.0,73.0 619.5,72.1 622.4,71.4 624.1,71.8 624.8,69.9 625.9,70.4 627.8,70.2 629.5,69.5 630.4,68.6 630.9,67.6 632.6,67.3 633.8,66.7 634.5,66.0 635.4,65.2 635.9,64.2 637.1,63.6 638.9,63.4 640.1,63.6 641.6,63.3 642.7,62.6 643.0,61.7 642.5,60.7 641.6,59.6 641.8,57.9 642.5,57.0 644.8,56.3 646.0,56.0 645.8,56.9 645.5,58.6 646.5,58.2 644.6,59.8 644.9,61.0 645.3,61.7 646.5,62.4 648.6,62.1 651.0,61.7 652.4,62.6 654.6,62.1 657.1,61.4 660.0,61.7 661.6,61.7 663.1,61.2 664.2,59.5 664.0,58.1 664.9,56.5 666.8,55.9 668.3,57.2 669.4,57.2 669.9,55.6 670.1,54.8 668.3,54.1 670.4,53.0 672.7,52.7 676.1,52.9 679.9,52.2 677.3,51.1 674.4,51.1 670.9,51.7 667.5,52.3 666.3,51.2 664.7,50.3 665.0,46.6 668.3,45.1 671.6,43.3 669.4,41.9 665.9,42.3 664.0,44.2 662.8,45.4 659.7,46.8 657.6,47.8 657.4,50.8 659.7,51.7 660.4,53.2 657.9,54.1 656.2,54.4 656.4,56.3 656.0,57.7 654.6,58.6 652.2,60.0 650.1,60.0 649.8,59.3 649.6,58.6 648.2,56.0 647.0,53.9 646.0,52.2 645.3,53.6 644.1,53.9 641.5,55.3 639.7,55.5 637.3,53.9 636.8,52.9 636.6,51.3 636.3,49.4 638.2,47.7 640.9,46.6 643.2,45.9 644.9,45.1 646.7,43.5 648.9,42.5 650.1,40.7 652.6,39.3 654.5,37.8 656.2,36.7 660.5,35.2 664.0,34.5 668.7,33.5 672.3,32.8 677.0,33.1 681.5,34.0 679.6,35.0 684.8,35.7 690.0,36.2 694.3,37.4 698.7,39.3 699.4,40.2 696.9,41.1 692.6,41.3 688.3,40.6 685.7,40.4 683.8,39.7 685.8,41.6 687.6,43.5 689.1,44.5 691.7,45.2 693.5,44.5 693.5,43.5 696.1,44.0 697.8,44.0 696.9,43.0 700.4,40.9 702.1,41.6 704.2,41.3 703.5,39.3 702.7,37.1 705.3,37.3 707.3,38.7 711.7,38.7 714.3,38.1 719.5,37.6 722.1,36.7 724.7,37.1 728.1,36.6 732.5,35.0 736.8,35.5 742.0,36.7 745.5,37.3 743.7,35.5 746.3,33.8 744.6,32.1 747.2,29.8 748.1,28.8 751.5,29.8 753.3,32.1 753.3,34.7 754.1,37.3 753.3,40.7 755.9,39.0 756.7,37.3 755.0,35.5 756.7,32.9 758.5,30.3 762.8,30.9 766.3,31.2 768.9,32.1 770.6,33.8 771.5,32.4 768.0,30.3 767.1,28.6 773.2,28.1 776.7,27.7 778.4,26.0 783.6,25.1 792.3,24.3 799.2,23.4 802.7,22.0 808.4,21.3 811.3,22.0 813.9,22.9 821.7,23.7 824.3,25.0 822.6,27.7 823.5,28.6 828.7,28.3 833.9,29.3 840.8,28.6 846.0,28.6 850.3,29.5 852.1,32.1 854.7,32.9 857.3,32.1 861.6,32.1 865.9,32.2 870.3,30.3 873.7,30.0 880.7,30.5 887.6,32.1 891.1,33.3 896.3,32.9 901.5,33.3 904.9,35.2 908.4,35.4 913.6,35.4 918.8,35.0 923.1,34.5 927.5,35.0 932.7,35.0 937.0,35.9 940.5,36.6 944.8,38.5 949.1,39.9 953.5,41.3 957.5,41.4 954.3,42.8 951.7,44.4 948.3,43.7 944.8,42.6 941.3,43.3 937.0,44.2 935.3,46.8 937.9,47.7 933.5,47.7 929.2,48.9 925.7,50.3 922.3,52.0 917.1,51.5 913.6,51.7 911.0,52.3 910.1,53.7 908.4,55.5 910.1,56.0 908.4,58.6 908.4,61.2 904.9,62.4 902.5,64.1 900.6,66.7 899.2,67.8 898.3,65.9 898.0,63.3 897.3,60.7 898.0,58.1 899.7,55.8 902.3,55.1 904.9,52.9 908.4,51.3 911.0,49.1 908.4,48.7 905.8,48.9 903.2,49.1 899.7,49.4 896.3,51.7 892.8,53.4 889.3,52.9 884.1,53.2 878.9,53.0 875.8,53.0 872.9,54.6 870.3,56.3 867.7,58.9 865.9,61.0 864.2,61.4 866.8,62.7 869.4,62.1 872.0,63.6 872.5,65.0 871.5,67.6 871.1,71.9 869.4,73.7 866.8,76.3 863.3,79.7 861.6,80.6 858.1,81.8 856.2,81.3 854.1,82.7 852.4,84.9 850.3,86.7 848.6,87.7 850.3,89.6 851.9,91.9 851.9,94.3 851.4,95.2 848.6,96.0 846.5,96.2 846.9,93.9 846.9,92.2 847.0,91.0 844.6,90.5 843.9,89.1 844.8,87.5 843.6,87.0 840.8,87.2 838.4,88.4 837.7,88.7 839.1,86.7 839.6,85.8 837.3,85.1 834.7,87.0 833.0,88.1 831.6,88.4 832.1,89.6 833.9,91.5 835.6,91.0 836.8,90.5 840.1,91.2 838.2,92.2 836.1,93.6 834.4,95.3 836.1,96.5 836.5,98.8 837.3,99.8 838.9,101.1 838.9,102.4 837.2,103.5 839.1,104.3 838.2,106.9 836.6,108.3 835.6,110.1 834.9,110.9 833.9,112.3 832.3,113.5 830.4,115.1 828.7,116.3 825.5,117.3 824.3,117.5 821.7,118.2 820.0,118.7 818.8,120.8 817.7,118.7 816.7,118.7 814.8,118.6 812.5,119.9 811.3,121.7 810.6,123.4 812.2,125.7 813.6,127.4 815.1,128.1 816.4,129.5 816.9,132.6 817.1,135.2 816.2,136.6 814.8,137.1 813.2,138.0 812.2,139.5 810.5,140.7 809.3,141.1 809.6,139.0 808.7,138.0 807.0,137.6 806.1,136.1 804.9,134.9 802.5,134.0 801.8,132.6 800.9,133.5 800.1,136.1 799.5,138.1 800.6,140.1 801.6,143.5 802.7,144.0 804.7,145.3 806.8,148.2 806.8,151.3 808.2,153.6 807.2,153.7 805.3,152.7 803.2,151.1 801.6,148.2 801.5,144.7 800.6,144.6 798.0,142.1 798.5,138.7 798.3,134.3 797.5,130.3 796.9,127.4 795.4,126.9 794.5,127.4 792.3,128.6 790.9,128.3 791.6,123.9 790.5,122.2 788.8,121.3 787.6,119.6 786.7,117.3 784.5,117.9 781.9,118.4 780.1,118.6 778.4,119.6 778.1,120.8 774.9,122.5 773.2,124.5 772.0,125.3 770.3,127.2 768.3,128.6 766.8,130.0 766.8,133.3 765.9,136.1 765.9,138.1 765.1,138.1 763.1,140.6 761.9,142.0 760.4,140.6 759.9,139.4 758.8,136.4 757.6,134.3 756.7,131.7 755.5,129.1 754.7,126.5 753.8,123.1 754.0,120.3 753.4,118.7 753.3,117.5 752.6,119.3 750.7,119.9 748.9,119.8 747.2,117.3 749.3,116.8 748.4,116.3 746.3,115.3 744.6,114.6 743.7,113.0 742.9,112.0 738.5,112.1 735.6,112.5 734.2,112.3 730.7,112.0 729.5,111.8 726.9,111.3 726.4,109.2 725.2,108.9 722.6,110.1 720.3,109.5 718.6,108.5 716.9,107.6 715.7,105.9 714.4,104.2 713.4,104.0 712.2,103.7 710.8,104.2 710.8,104.9 711.7,107.5 713.2,109.0 713.7,109.7 714.6,110.6 715.1,112.0 715.7,113.0 716.3,110.9 717.0,112.1 716.9,113.4 718.6,114.1 721.9,113.7 723.8,112.0 724.7,111.1 725.4,110.4 725.4,112.8 726.7,114.6 729.0,115.1 731.3,117.0 730.2,118.9 729.0,120.5 727.6,123.1 726.1,123.8 724.7,125.0 722.9,126.5 720.3,127.2 718.1,129.0 712.5,130.9 709.1,132.6 705.6,133.8 702.8,134.2 702.1,132.6 701.8,130.3 701.4,127.4 699.5,123.9 697.8,121.7 695.5,118.7 694.7,116.1 693.5,114.4 692.1,112.3 690.9,110.9 689.3,108.3 688.3,107.3 688.3,104.9 687.6,105.9 687.2,107.5 686.9,107.8 685.7,106.9 683.9,104.2"/><path d="M59.6,101.7 61.7,102.1 63.1,101.6 63.9,100.0 64.3,99.1 65.1,97.2 65.8,95.0 66.0,93.6 66.3,92.6 65.1,92.6 63.6,92.2 61.7,93.3 59.9,93.4 58.2,92.4 56.8,92.0 54.7,93.3 52.1,92.6 51.1,91.9 50.9,90.5 49.9,89.4 50.1,88.4 49.0,87.5 49.2,86.5 51.3,86.0 53.9,85.5 53.9,84.9 52.1,84.9 50.2,85.6 48.7,85.3 46.1,85.1 43.3,85.6 44.3,86.7 42.8,87.5 43.8,88.4 45.2,89.8 43.5,90.3 42.9,92.2 42.4,92.7 41.2,92.2 40.5,90.7 40.2,89.6 39.5,88.2 38.3,87.2 37.2,86.0 37.4,83.5 36.2,82.7 35.0,82.2 33.1,81.1 32.0,80.6 29.9,79.2 29.6,77.8 28.6,77.5 27.7,78.3 27.2,77.3 27.3,76.8 24.9,77.3 25.1,79.4 27.0,80.4 29.1,83.0 31.2,83.4 31.7,83.4 31.3,84.2 32.9,84.8 34.8,85.6 35.7,86.5 33.4,86.0 32.4,87.4 33.2,88.4 32.4,89.3 31.5,90.1 30.6,89.8 31.0,87.5 29.6,86.3 28.2,85.3 26.1,84.4 24.7,83.5 22.8,82.3 21.8,81.5 21.5,80.6 20.1,79.6 19.0,79.0 17.5,79.9 16.3,80.3 14.9,81.3 13.0,80.9 11.4,80.8 9.3,80.9 9.0,82.2 9.1,83.4 7.4,84.2 5.2,84.9 4.1,86.1 3.1,87.5 3.9,88.9 2.7,89.6 1.9,90.8 -0.4,92.2 -2.5,92.4 -4.0,92.4 -5.8,93.4"/><path d="M683.6,101.7 685.7,102.1 687.1,101.6 687.9,100.0 688.3,99.1 689.1,97.2 689.8,95.0 690.0,93.6 690.3,92.6 689.1,92.6 687.6,92.2 685.7,93.3 683.9,93.4 682.2,92.4 680.8,92.0 678.7,93.3 676.1,92.6 675.1,91.9 674.9,90.5 673.9,89.4 674.1,88.4 673.0,87.5 673.2,86.5 675.3,86.0 677.9,85.5 677.9,84.9 676.1,84.9 674.2,85.6 672.7,85.3 670.1,85.1 667.3,85.6 668.3,86.7 666.8,87.5 667.8,88.4 669.2,89.8 667.5,90.3 666.9,92.2 666.4,92.7 665.2,92.2 664.5,90.7 664.2,89.6 663.5,88.2 662.3,87.2 661.2,86.0 661.4,83.5 660.2,82.7 659.0,82.2 657.1,81.1 656.0,80.6 653.9,79.2 653.6,77.8 652.6,77.5 651.7,78.3 651.2,77.3 651.3,76.8 648.9,77.3 649.1,79.4 651.0,80.4 653.1,83.0 655.2,83.4 655.7,83.4 655.3,84.2 656.9,84.8 658.8,85.6 659.7,86.5 657.4,86.0 656.4,87.4 657.2,88.4 656.4,89.3 655.5,90.1 654.6,89.8 655.0,87.5 653.6,86.3 652.2,85.3 650.1,84.4 648.7,83.5 646.8,82.3 645.8,81.5 645.5,80.6 644.1,79.6 643.0,79.0 641.5,79.9 640.3,80.3 638.9,81.3 637.0,80.9 635.4,80.8 633.3,80.9 633.0,82.2 633.1,83.4 631.4,84.2 629.2,84.9 628.1,86.1 627.1,87.5 627.9,88.9 626.7,89.6 625.9,90.8 623.6,92.2 621.5,92.4 620.0,92.4 618.2,93.4"/><path d="M59.9,104.2 59.6,101.7 57.3,101.2 55.4,101.9 53.0,102.3 50.4,101.6 47.3,101.2 45.2,100.4 43.5,99.5 41.7,99.0 39.1,99.5 38.4,100.4 37.6,103.0 36.5,103.5 34.8,102.6 33.1,102.3 30.5,101.2 30.1,100.0 27.9,99.1 26.5,99.0 24.4,99.0 22.8,98.5 21.8,97.8 21.1,97.2 22.3,95.7 22.7,94.3 21.8,93.1 22.7,91.7 21.3,92.0 20.8,91.3 18.5,92.0 17.1,92.0 14.0,91.9 12.3,92.4 8.8,92.2 5.3,92.7 2.6,94.1 0.1,95.2 -2.5,94.8 -5.1,94.5 -6.5,93.9 -7.3,95.3 -8.2,97.1 -9.6,97.8 -11.3,98.8 -12.5,100.0 -13.4,102.3 -13.0,103.3 -14.1,105.2 -16.7,107.5 -18.9,108.3 -20.0,110.1 -21.5,110.9 -22.4,113.0 -24.0,114.9 -25.0,117.0 -26.0,119.9 -24.7,122.2 -24.1,124.6 -25.0,127.9 -26.2,130.3 -26.7,130.5 -25.5,132.6 -25.3,134.3 -23.3,136.1 -21.9,137.3 -20.1,139.5 -19.3,141.3 -17.9,143.2 -15.5,144.2 -12.9,146.5 -9.4,148.4 -5.9,147.3 -3.3,146.8 0.1,147.7 1.9,147.2 3.3,146.5 5.7,145.4 7.9,145.1 9.5,144.9 11.4,145.4 13.1,147.3 14.0,148.5 16.6,148.4 18.3,148.2 20.1,149.2 20.6,151.7 20.6,153.9 19.7,155.3 18.7,157.0 19.7,158.6 20.9,161.2 22.7,162.6 24.1,164.3 24.9,166.4 25.8,168.1 26.5,171.3 27.0,175.1 27.0,177.5 25.3,179.9 24.9,182.0 24.6,182.3 24.1,186.0 25.3,188.9 26.1,191.5 27.9,194.1 28.7,195.9 29.3,200.2 29.8,202.3 31.0,204.5 32.2,205.6 33.4,207.7 34.5,210.6 35.1,212.5 35.5,214.9 37.4,216.0 38.3,216.3 41.7,215.1 45.2,215.1 48.0,214.9 49.5,214.6 52.0,213.2 53.9,211.5 56.1,209.7 57.3,207.8 59.6,205.4 60.1,202.8 60.1,201.1 61.7,200.0 65.0,197.6 65.1,194.1 64.6,192.4 63.9,190.3 65.1,188.1 67.6,186.9 70.3,185.5 72.1,184.6 73.8,182.5 74.1,181.1 73.8,177.7 73.8,175.1 72.6,171.6 71.7,167.8 71.0,165.5 72.4,162.9 73.5,160.7 74.5,159.6 76.4,157.4 79.0,155.1 82.1,152.5 84.2,150.3 86.5,147.3 88.4,142.5 89.9,139.5 91.7,138.0 92.5,135.5 90.3,136.1 88.5,136.4 85.9,136.8 81.6,138.0 79.9,137.6 78.5,136.1 77.6,134.3 75.5,132.1 73.8,130.3 72.1,129.0 71.0,127.4 70.5,124.8 68.6,123.1 68.1,122.0 67.9,119.6 67.6,117.9 65.3,114.6 64.3,112.7 62.5,110.1 61.8,108.3 60.1,104.9 59.9,104.2"/><path d="M683.9,104.2 683.6,101.7 681.3,101.2 679.4,101.9 677.0,102.3 674.4,101.6 671.3,101.2 669.2,100.4 667.5,99.5 665.7,99.0 663.1,99.5 662.4,100.4 661.6,103.0 660.5,103.5 658.8,102.6 657.1,102.3 654.5,101.2 654.1,100.0 651.9,99.1 650.5,99.0 648.4,99.0 646.8,98.5 645.8,97.8 645.1,97.2 646.3,95.7 646.7,94.3 645.8,93.1 646.7,91.7 645.3,92.0 644.8,91.3 642.5,92.0 641.1,92.0 638.0,91.9 636.3,92.4 632.8,92.2 629.3,92.7 626.6,94.1 624.1,95.2 621.5,94.8 618.9,94.5 617.5,93.9 616.7,95.3 615.8,97.1 614.4,97.8 612.7,98.8 611.5,100.0 610.6,102.3 611.0,103.3 609.9,105.2 607.3,107.5 605.1,108.3 604.0,110.1 602.5,110.9 601.6,113.0 600.0,114.9 599.0,117.0 598.0,119.9 599.3,122.2 599.9,124.6 599.0,127.9 597.8,130.3 597.3,130.5 598.5,132.6 598.7,134.3 600.7,136.1 602.1,137.3 603.9,139.5 604.7,141.3 606.1,143.2 608.5,144.2 611.1,146.5 614.6,148.4 618.1,147.3 620.7,146.8 624.1,147.7 625.9,147.2 627.3,146.5 629.7,145.4 631.9,145.1 633.5,144.9 635.4,145.4 637.1,147.3 638.0,148.5 640.6,148.4 642.3,148.2 644.1,149.2 644.6,151.7 644.6,153.9 643.7,155.3 642.7,157.0 643.7,158.6 644.9,161.2 646.7,162.6 648.1,164.3 648.9,166.4 649.8,168.1 650.5,171.3 651.0,175.1 651.0,177.5 649.3,179.9 648.9,182.0 648.6,182.3 648.1,186.0 649.3,188.9 650.1,191.5 651.9,194.1 652.7,195.9 653.3,200.2 653.8,202.3 655.0,204.5 656.2,205.6 657.4,207.7 658.5,210.6 659.1,212.5 659.5,214.9 661.4,216.0 662.3,216.3 665.7,215.1 669.2,215.1 672.0,214.9 673.5,214.6 676.0,213.2 677.9,211.5 680.1,209.7 681.3,207.8 683.6,205.4 684.1,202.8 684.1,201.1 685.7,200.0 689.0,197.6 689.1,194.1 688.6,192.4 687.9,190.3 689.1,188.1 691.6,186.9 694.3,185.5 696.1,184.6 697.8,182.5 698.1,181.1 697.8,177.7 697.8,175.1 696.6,171.6 695.7,167.8 695.0,165.5 696.4,162.9 697.5,160.7 698.5,159.6 700.4,157.4 703.0,155.1 706.1,152.5 708.2,150.3 710.5,147.3 712.4,142.5 713.9,139.5 715.7,138.0 716.5,135.5 714.3,136.1 712.5,136.4 709.9,136.8 705.6,138.0 703.9,137.6 702.5,136.1 701.6,134.3 699.5,132.1 697.8,130.3 696.1,129.0 695.0,127.4 694.5,124.8 692.6,123.1 692.1,122.0 691.9,119.6 691.6,117.9 689.3,114.6 688.3,112.7 686.5,110.1 685.8,108.3 684.1,104.9 683.9,104.2"/><path d="M52.1,83.9 53.9,84.6 57.3,84.8 59.9,83.5 61.7,83.2 64.4,83.2 66.5,84.4 69.5,85.1 72.4,84.9 75.7,83.9 75.9,82.9 74.7,81.5 72.4,80.4 70.2,79.2 69.1,78.5 67.0,77.5 68.6,76.4 69.5,75.1 71.0,74.2 68.6,74.5 65.1,75.4 64.3,76.8 66.7,77.3 65.0,78.0 62.9,78.9 61.7,78.7 59.9,77.3 61.7,76.3 59.1,75.4 56.8,75.4 55.1,77.7 53.3,79.4 52.0,81.1 51.3,82.3 52.1,83.9"/><path d="M85.9,76.3 87.7,75.4 89.4,75.4 93.6,74.4 95.5,74.9 96.0,76.3 95.5,77.5 92.5,78.9 90.8,78.7 92.3,80.4 93.7,82.0 94.8,83.2 95.5,84.1 97.2,84.9 95.5,86.3 97.0,88.6 97.0,91.3 94.6,92.2 92.0,92.4 90.3,91.2 88.5,89.4 88.5,87.9 89.4,86.3 90.1,86.0 89.4,84.9 87.7,83.5 85.9,81.5 85.6,79.7 85.1,78.5 85.4,77.3 85.9,76.3"/><path d="M105.0,77.0 106.4,75.7 108.1,75.2 110.2,75.9 109.9,77.7 108.5,79.2 106.7,80.1 105.0,79.7 104.5,78.0 105.0,77.0"/><path d="M131.0,75.9 132.7,74.9 135.3,75.2 137.9,75.9 140.5,75.4 140.9,76.3 137.9,76.8 135.3,76.3 132.7,76.6 131.0,75.9"/><path d="M183.9,66.6 186.5,66.4 189.9,64.5 193.4,61.5 193.9,59.5 192.5,59.8 190.8,62.7 188.2,64.1 185.6,65.5 183.9,66.6"/><path d="M56.5,49.9 57.3,49.1 59.9,49.6 60.8,51.1 58.2,51.7 56.8,51.1 56.5,49.9"/><path d="M58.7,156.9 59.9,155.5 62.2,156.0 63.6,156.9 61.7,160.0 59.1,160.5 58.4,158.6 58.7,156.9"/><path d="M54.0,161.7 54.6,165.5 55.6,169.0 57.0,171.1 57.3,169.9 55.9,167.3 55.3,163.8 54.0,161.7"/><path d="M62.5,172.5 63.1,175.9 63.6,179.4 64.6,180.8 63.9,177.7 63.4,174.2 62.5,172.5"/><path d="M89.1,176.8 90.3,179.9 91.0,182.9 89.7,186.3 88.5,189.8 87.7,192.4 86.5,196.7 85.2,199.2 81.9,200.2 79.9,199.0 79.3,196.7 78.7,193.3 80.6,189.8 79.9,185.5 80.7,184.1 83.3,183.4 85.1,181.7 86.6,180.3 88.2,177.7 89.1,176.8"/><path d="M142.1,139.0 143.7,140.1 145.6,143.0 145.0,145.3 143.3,145.8 141.9,143.9 141.9,141.3 142.1,139.0"/><path d="M-6.3,69.2 -2.5,68.8 1.9,68.1 4.5,67.9 6.0,67.3 5.2,66.4 6.5,64.7 4.1,64.0 3.8,63.1 3.3,62.2 1.5,61.4 1.0,60.3 0.1,58.9 -0.7,58.4 0.1,56.9 0.5,56.2 -2.5,56.0 -1.6,54.4 -5.1,54.4 -6.3,56.3 -5.9,58.9 -4.7,59.8 -5.1,61.0 -2.5,60.8 -1.9,62.2 -1.6,63.6 -4.5,64.5 -3.5,65.3 -5.6,66.2 -1.6,66.7 -3.7,67.3 -6.3,69.2"/><path d="M617.7,69.2 621.5,68.8 625.9,68.1 628.5,67.9 630.0,67.3 629.2,66.4 630.5,64.7 628.1,64.0 627.8,63.1 627.3,62.2 625.5,61.4 625.0,60.3 624.1,58.9 623.3,58.4 624.1,56.9 624.5,56.2 621.5,56.0 622.4,54.4 618.9,54.4 617.7,56.3 618.1,58.9 619.3,59.8 618.9,61.0 621.5,60.8 622.1,62.2 622.4,63.6 619.5,64.5 620.5,65.3 618.4,66.2 622.4,66.7 620.3,67.3 617.7,69.2"/><path d="M617.2,65.5 616.9,63.3 617.7,61.4 616.3,60.3 613.2,60.3 610.3,62.1 611.1,65.0 609.7,66.2 613.7,66.6 617.2,65.5"/><path d="M586.0,42.5 589.5,40.9 596.4,41.4 601.6,40.9 604.2,42.8 602.5,44.4 596.4,46.1 591.2,45.4 588.6,45.1 589.8,43.7 586.0,42.5"/><path d="M22.7,19.9 25.3,17.7 31.3,17.5 38.3,16.8 45.2,16.8 50.4,17.3 41.7,18.4 40.0,19.9 35.7,22.2 32.2,23.2 28.7,21.7 27.0,20.8 22.7,19.9"/><path d="M92.9,32.1 95.5,29.8 98.9,27.7 100.7,25.5 105.9,23.9 112.8,22.9 122.3,22.7 116.3,24.3 109.3,26.0 104.1,27.4 101.5,29.1 100.7,31.2 99.8,32.9 96.3,33.5 92.9,32.1"/><path d="M85.1,16.3 90.3,15.8 97.2,16.1 102.4,15.8 111.1,15.9 107.6,16.8 98.9,17.0 90.3,17.2 85.1,16.3"/><path d="M168.3,18.2 173.5,15.9 178.7,15.6 183.9,18.2 176.9,20.3 170.0,19.4 168.3,18.2"/><path d="M239.3,25.1 244.5,24.3 249.7,25.1 256.7,25.7 251.5,27.7 242.8,27.2 239.3,25.1"/><path d="M313.0,32.6 316.5,32.1 319.9,32.6 315.6,33.1 313.0,32.6"/><path d="M249.7,61.9 250.9,63.3 251.8,65.0 251.6,67.6 252.0,71.1 254.1,71.2 252.3,74.9 249.7,76.3 250.1,73.7 249.7,71.1 249.4,68.5 249.2,66.7 249.7,61.9"/><path d="M249.2,77.3 250.6,78.3 253.2,79.6 255.5,79.2 255.8,80.9 254.1,81.5 252.0,83.2 248.9,82.2 248.0,83.5 246.3,82.3 247.1,80.9 248.7,80.6 249.2,77.3"/><path d="M248.7,84.2 248.9,85.8 249.6,87.5 248.9,89.3 248.0,89.6 247.8,92.0 247.5,94.1 246.3,95.3 245.9,94.6 244.5,95.5 244.2,96.0 243.1,96.0 241.6,96.0 240.7,96.7 239.0,97.9 237.9,96.5 235.9,96.0 234.1,96.4 232.4,97.2 230.7,97.1 230.7,96.0 233.3,94.6 235.5,94.5 237.6,94.1 239.0,94.5 239.3,93.3 240.7,91.3 241.6,92.2 243.7,91.0 245.2,89.8 245.9,88.4 246.3,86.8 246.3,85.3 247.1,84.6 248.7,84.2"/><path d="M230.5,97.2 231.9,97.9 232.2,99.1 231.4,101.4 230.1,102.3 229.3,101.7 229.5,100.2 228.6,99.1 228.2,98.1 230.5,97.2"/><path d="M233.1,98.3 235.0,97.1 237.1,96.9 237.1,97.4 236.2,98.5 234.1,99.3 233.1,98.3"/><path d="M214.2,112.1 214.9,113.5 214.0,116.1 213.2,117.9 211.9,116.1 211.9,114.2 213.0,112.8 214.2,112.1"/><path d="M194.4,121.2 196.0,121.9 195.1,123.9 193.4,124.5 192.0,122.7 192.9,121.5 194.4,121.2"/><path d="M212.6,123.9 215.4,123.9 215.1,126.5 214.2,128.6 214.4,130.7 215.1,131.4 216.8,132.1 218.5,132.1 218.7,134.2 216.8,133.5 214.7,131.9 212.6,131.2 211.6,130.0 211.4,127.9 212.3,127.2 212.6,123.9"/><path d="M221.0,139.0 222.3,141.3 223.0,143.3 222.0,145.3 221.1,146.3 220.6,144.7 218.9,145.3 217.7,143.0 215.1,143.9 216.8,142.1 218.9,141.6 219.9,140.4 221.0,139.0"/><path d="M219.1,134.3 220.3,134.3 221.5,136.9 220.3,138.3 219.1,136.9 219.1,134.3"/><path d="M215.1,135.5 216.8,136.1 215.9,137.8 214.9,137.8 215.1,135.5"/><path d="M216.8,137.1 217.7,138.7 216.8,140.4 215.9,139.0 216.8,137.1"/><path d="M206.7,141.4 209.0,139.5 210.9,136.2 210.4,136.9 207.8,140.4 206.7,141.4"/><path d="M212.5,132.6 214.2,132.9 213.7,134.7 212.3,134.2 212.5,132.6"/><path d="M193.6,152.5 196.0,153.4 197.7,151.1 199.5,150.6 201.4,148.0 203.8,146.8 205.9,144.0 207.6,145.6 210.2,146.8 208.3,148.5 207.6,150.8 209.7,154.3 208.0,154.6 207.3,157.4 205.5,160.3 204.7,162.2 202.1,162.9 199.5,161.5 197.0,161.2 194.6,161.0 194.3,158.6 192.5,156.3 192.5,153.9 193.6,152.5"/><path d="M168.8,146.3 172.6,147.0 174.7,149.4 177.5,151.8 179.5,152.9 183.0,155.1 183.5,157.7 184.7,157.7 187.3,161.2 187.0,166.1 184.9,166.2 180.9,162.9 178.7,160.3 176.9,157.4 174.7,153.1 171.7,149.9 168.8,146.3"/><path d="M185.9,167.8 187.5,166.2 191.3,166.7 195.0,168.0 198.8,168.0 201.9,169.3 202.1,171.1 197.7,170.4 194.3,170.0 190.8,169.5 188.0,168.8 185.9,167.8"/><path d="M185.9,158.9 187.9,159.3 188.7,161.2 187.0,160.7 185.9,158.9"/><path d="M206.1,170.6 208.1,170.2 209.9,170.4 209.9,171.3 207.3,171.6 206.1,170.6"/><path d="M211.4,170.6 214.2,170.6 216.8,170.2 215.9,171.1 212.5,171.3 211.4,170.6"/><path d="M217.7,173.9 220.3,171.9 224.1,170.6 221.1,172.5 218.5,173.9 217.7,173.9"/><path d="M209.9,172.3 213.0,172.6 212.5,173.7 210.2,173.0 209.9,172.3"/><path d="M209.5,160.7 210.7,157.4 211.3,156.0 211.8,154.4 213.3,153.9 215.1,154.3 216.8,154.4 218.5,154.4 220.4,153.2 219.6,155.3 217.3,155.1 214.2,155.1 213.0,156.5 213.3,157.7 215.9,157.4 217.5,157.6 216.1,158.6 214.4,159.1 215.1,160.5 215.9,161.5 217.1,164.0 215.1,164.1 214.2,162.9 213.3,161.2 212.5,160.9 212.3,162.9 212.1,165.7 210.7,165.5 210.6,162.1 209.5,160.7"/><path d="M225.1,152.2 225.5,154.3 226.7,154.3 225.5,155.1 226.5,156.7 225.1,156.9 224.6,155.1 225.1,152.2"/><path d="M225.5,161.5 228.9,161.2 230.3,162.2 227.2,162.2 225.5,161.5"/><path d="M222.0,161.4 224.1,161.7 223.4,162.8 222.0,162.4 222.0,161.4"/><path d="M230.7,158.1 233.1,156.7 235.9,157.6 236.2,160.3 237.6,161.7 240.2,160.0 242.6,158.6 245.4,159.8 248.0,160.5 250.6,161.5 254.1,162.6 256.3,165.2 259.3,166.6 259.8,167.6 258.6,169.2 260.5,170.9 262.2,172.6 263.6,173.9 261.3,173.7 258.9,172.5 257.4,171.3 253.2,169.2 252.0,171.6 249.7,171.9 248.0,171.8 244.5,170.0 242.8,170.6 242.6,168.8 243.8,167.8 242.5,165.2 238.1,163.6 235.5,162.6 233.8,163.1 232.4,160.9 234.5,160.3 232.7,159.8 230.7,158.1"/><path d="M261.0,165.5 263.6,165.5 266.2,164.3 267.4,163.3 267.1,164.7 265.3,166.4 262.7,166.7 261.0,165.5"/><path d="M265.0,160.5 267.1,161.7 268.8,163.8 268.5,164.3 266.7,162.2 265.0,160.5"/><path d="M274.9,167.8 276.6,169.0 279.2,169.9 280.9,170.7 282.7,171.9 283.5,173.0 280.9,172.6 279.2,172.1 276.6,170.4 274.9,167.8"/><path d="M292.2,182.0 293.6,182.9 293.9,184.6 295.3,186.9 294.8,184.6 292.2,182.0"/><path d="M287.9,191.0 290.5,192.4 293.1,194.7 292.2,195.0 289.6,193.4 287.9,191.0"/><path d="M310.9,186.3 313.0,186.0 313.0,187.5 311.3,187.5 310.9,186.3"/><path d="M250.6,174.5 251.8,177.7 252.3,180.3 254.1,180.8 255.5,182.0 255.8,184.6 256.7,186.3 257.2,188.9 259.3,189.8 261.5,191.2 262.7,193.3 265.0,195.2 266.2,197.6 268.8,199.3 269.1,201.9 269.8,204.9 269.3,207.1 268.8,209.7 267.9,211.5 267.1,212.9 265.9,214.8 265.0,216.3 263.9,217.9 263.4,221.0 260.1,221.5 258.4,222.4 257.2,223.6 255.8,222.6 254.8,221.7 253.7,222.4 252.3,223.3 249.7,222.6 248.0,222.0 246.3,221.0 245.7,218.9 244.5,217.7 243.0,217.7 243.7,216.3 242.8,215.5 242.5,216.7 241.1,216.7 241.9,214.9 242.5,212.5 241.1,214.1 239.3,214.9 237.9,216.1 237.6,214.6 236.2,212.7 234.1,211.6 231.0,210.6 227.2,210.9 223.7,212.0 222.0,212.0 218.5,213.2 217.7,214.8 215.1,214.9 211.6,214.8 208.1,216.7 204.7,216.3 202.9,215.5 204.1,213.7 204.1,211.1 202.9,208.0 202.8,206.3 202.2,205.4 200.2,201.9 200.7,200.2 200.5,198.5 200.9,195.9 200.9,194.1 201.5,193.8 203.8,192.7 205.5,191.9 209.7,191.2 211.6,190.3 213.3,189.8 215.4,187.0 216.5,184.8 217.7,185.5 218.5,184.3 220.3,182.0 222.3,180.6 224.6,180.3 225.8,182.0 228.1,181.8 228.6,179.4 229.3,178.5 230.3,177.5 231.5,177.1 233.3,176.8 233.6,175.9 235.5,176.5 237.6,177.1 240.2,176.8 240.7,178.5 239.3,179.4 238.5,181.7 240.2,182.9 241.1,183.6 243.7,185.1 244.9,186.0 246.6,186.7 247.7,186.2 248.7,183.7 248.9,182.0 249.0,179.4 249.0,177.8 249.7,175.9 250.6,174.5"/><path d="M254.4,226.5 257.5,227.2 260.7,226.9 260.7,229.1 259.8,230.9 258.4,231.6 256.5,231.1 255.3,229.1 254.4,226.5"/><path d="M302.9,215.6 304.3,216.7 305.7,217.5 306.6,219.8 308.5,220.5 309.5,221.5 312.1,221.2 313.0,221.3 312.0,223.9 310.2,224.6 309.5,226.2 308.8,227.6 307.3,228.1 306.2,227.6 307.3,225.7 305.9,225.0 304.9,224.1 306.2,221.9 306.1,220.1 305.0,219.3 303.5,217.2 302.9,215.6"/><path d="M302.8,226.2 304.3,227.1 305.7,227.4 305.2,228.8 303.5,230.5 303.1,231.9 300.3,233.1 299.7,235.6 296.5,236.9 293.9,236.3 292.2,235.7 292.7,234.0 295.3,232.3 299.1,230.5 300.7,228.5 301.9,226.7 302.8,226.2"/><path d="M336.4,42.3 339.9,41.3 343.3,40.7 345.9,40.0 343.3,38.7 338.5,37.6 341.6,36.6 345.1,35.5 350.3,33.6 355.8,32.4 360.7,33.1 364.1,33.3 367.6,33.8 371.1,34.1 376.3,34.7 383.2,35.2 388.4,35.9 393.6,35.9 396.2,35.5 400.5,35.0 404.0,34.7 407.5,34.1 410.9,35.5 414.4,35.5 419.6,36.4 424.8,37.1 428.3,38.3 433.5,38.5 436.9,38.1 440.4,37.3 443.9,37.1 447.3,38.1 452.5,38.5 457.7,38.1 459.5,36.4 462.1,35.5 463.8,31.4 466.4,32.9 468.1,34.7 469.0,36.4 473.3,36.7 475.9,37.8 480.3,35.0 483.7,35.2 485.5,36.4 486.3,38.1 483.7,40.2 479.4,41.6 477.1,43.3 475.1,45.1 470.7,45.9 466.4,49.4 464.1,52.0 463.8,53.7 466.4,55.5 468.1,57.2 471.6,57.2 475.1,58.2 480.3,60.1 484.9,60.5 485.1,64.1 486.3,65.9 488.9,67.3 490.7,66.7 490.7,65.0 491.0,61.5 494.1,58.9 494.5,56.3 493.3,54.6 492.4,52.0 493.3,49.4 493.3,47.7 499.3,48.2 502.8,49.4 506.3,50.3 507.1,52.9 508.0,54.6 511.5,54.6 513.2,53.7 514.9,51.7 515.8,51.1 516.7,53.7 520.1,57.2 521.0,58.9 523.6,60.3 526.2,61.5 528.8,64.1 530.5,65.5 528.8,66.7 525.3,68.5 521.0,69.0 516.7,69.0 512.3,69.0 509.7,70.5 506.3,73.7 508.0,72.5 513.2,70.9 516.1,71.4 515.3,73.1 514.9,74.5 515.8,75.9 519.3,76.6 521.9,77.1 523.6,76.3 523.6,77.0 521.0,77.8 518.4,78.7 515.8,80.1 513.2,80.1 512.9,78.5 515.8,77.5 514.9,77.1 511.5,78.0 508.9,79.2 506.3,80.3 504.9,81.8 504.7,82.7 506.3,83.4 506.3,83.9 503.7,84.2 501.9,84.6 499.3,85.6 499.3,87.0 497.8,88.6 497.4,89.3 496.0,91.2 495.3,91.9 496.0,92.7 496.7,94.8 495.0,95.9 493.3,96.4 491.5,97.4 490.3,98.5 488.1,100.0 487.2,100.5 486.5,103.1 486.9,104.9 487.9,106.8 488.8,110.1 488.8,111.3 488.1,112.3 487.2,112.5 486.3,111.3 485.8,110.1 484.3,107.8 484.1,106.3 482.9,104.9 481.1,104.0 479.4,104.3 477.7,103.3 475.1,103.1 472.5,103.7 473.0,105.7 470.7,105.6 469.0,104.9 466.4,104.5 463.3,105.2 460.3,107.1 458.9,108.9 458.8,110.9 458.3,113.5 458.1,117.0 458.9,119.6 460.3,121.7 461.0,122.7 462.9,123.9 463.8,124.5 467.3,123.8 469.9,123.1 470.7,121.7 470.9,119.9 473.3,119.1 476.8,118.7 476.3,120.5 475.9,122.2 475.1,123.9 474.5,125.7 474.2,128.6 475.9,128.6 478.5,128.3 481.1,128.6 483.2,130.0 482.9,132.6 482.7,134.3 482.5,136.9 483.7,138.7 485.5,140.4 487.2,140.7 489.8,139.4 491.5,139.7 493.3,140.9 494.5,141.3 495.9,139.5 496.7,138.0 497.9,136.9 500.2,136.4 501.9,135.5 503.1,134.5 504.2,135.7 503.5,137.3 504.5,138.7 503.7,139.9 502.8,139.5 503.5,136.9 505.9,135.9 506.3,136.9 508.9,137.6 509.7,137.8 511.6,137.6 514.9,138.5 516.7,137.6 520.1,137.6 521.0,138.7 521.9,141.1 523.6,141.3 525.3,142.1 527.1,144.2 528.8,145.6 532.3,145.8 534.9,146.3 536.9,147.5 538.3,148.7 539.2,149.1 540.1,152.5 540.9,153.4 540.9,156.0 542.7,156.9 543.5,157.7 545.3,157.2 547.9,157.7 550.5,160.3 553.1,160.2 556.5,161.0 559.1,161.2 560.9,162.4 563.5,164.3 566.6,165.5 567.1,168.1 567.1,169.9 565.5,172.8 563.5,174.7 561.7,177.7 560.9,178.5 560.0,181.1 560.0,182.9 559.7,186.3 558.8,188.9 557.7,191.2 556.5,193.3 554.8,195.9 552.7,195.9 550.5,196.4 548.7,197.3 547.3,197.6 545.3,199.0 543.5,201.1 543.0,205.4 541.3,207.1 540.1,208.9 538.3,211.1 536.6,213.2 534.9,214.9 532.4,216.5 530.2,216.5 527.9,215.8 526.2,215.8 528.3,217.5 528.3,218.7 529.1,219.8 527.9,221.9 525.3,223.1 521.9,223.6 519.6,223.3 520.1,224.5 519.8,226.2 517.5,227.2 514.9,226.7 514.9,228.8 517.4,229.8 515.8,230.5 514.4,232.3 514.1,234.0 510.6,235.7 511.5,237.5 513.2,238.3 510.6,240.9 508.9,243.0 508.0,245.3 509.0,246.7 506.3,247.3 504.5,249.3 501.9,248.7 499.3,247.0 497.6,244.4 496.7,242.7 497.6,239.2 498.5,237.5 496.7,236.6 499.3,235.7 499.3,232.3 501.1,231.4 499.3,229.7 500.2,227.9 499.7,225.3 500.2,222.7 500.2,220.5 500.9,219.4 501.9,217.5 502.8,214.9 503.5,213.2 503.7,211.5 503.7,208.0 504.2,205.4 504.9,202.8 505.2,200.2 505.6,196.9 505.9,193.3 505.9,190.7 505.7,188.1 504.0,186.7 501.9,185.1 499.3,183.6 496.7,182.0 495.3,179.9 494.1,176.8 492.4,174.2 490.7,169.9 489.1,168.0 487.5,166.4 486.9,165.0 486.7,163.8 488.4,161.9 488.9,160.3 487.5,159.8 487.4,157.7 488.9,156.0 488.9,154.6 490.7,153.4 491.0,152.5 492.7,150.8 493.4,149.1 493.6,146.5 493.3,144.7 492.6,143.0 491.7,141.6 490.7,140.4 489.8,140.6 488.9,141.6 488.2,143.0 487.2,142.8 486.0,142.0 484.6,141.8 482.9,141.3 482.0,139.5 480.3,138.7 479.1,136.9 477.7,135.2 475.9,133.5 474.2,133.1 472.5,132.6 469.9,131.9 467.8,130.9 465.5,128.4 463.8,127.9 462.6,128.3 460.3,128.8 457.7,127.9 454.4,126.9 451.7,125.7 449.9,124.8 447.3,123.4 444.7,121.3 445.1,120.3 444.7,118.7 444.7,117.0 443.2,115.8 441.3,113.5 439.5,111.8 438.1,110.1 436.1,108.3 434.3,106.6 432.6,104.9 430.9,102.3 428.8,101.1 429.1,103.1 431.4,105.7 432.6,107.8 434.3,110.1 435.7,113.5 436.9,115.3 437.1,116.3 436.4,115.8 434.3,113.5 433.1,111.8 432.9,110.1 430.9,109.2 429.1,108.0 429.7,106.6 428.3,104.9 426.5,103.1 425.7,101.4 424.5,99.3 423.4,97.8 422.4,97.4 420.5,96.4 418.7,96.2 418.2,94.5 416.3,92.7 415.3,90.5 414.4,89.8 413.0,87.5 412.0,86.0 412.3,84.1 411.8,81.8 412.5,79.7 412.7,75.9 412.1,73.7 411.5,72.1 413.5,72.5 415.3,72.8 414.7,71.1 413.5,70.2 410.9,68.8 408.3,67.6 405.7,66.7 406.6,65.0 404.0,63.3 402.3,61.5 400.5,59.8 398.8,58.1 396.2,56.3 393.6,54.6 391.0,54.9 389.3,54.4 385.8,52.7 383.2,52.0 379.7,52.0 376.3,51.3 371.9,50.6 370.2,51.7 367.6,52.9 365.0,53.4 365.9,51.1 365.0,50.3 363.3,52.0 361.5,53.7 360.7,55.1 357.2,56.3 354.6,57.5 351.1,58.9 347.7,59.8 344.2,61.0 346.8,59.3 349.4,58.6 352.9,57.2 354.6,55.5 355.5,54.3 352.9,54.1 349.4,54.3 347.1,54.3 346.8,52.9 344.2,52.0 341.6,51.1 341.3,49.4 339.9,48.5 342.5,47.1 340.7,46.8 343.3,46.1 346.8,45.9 348.5,45.1 347.7,44.2 345.1,44.2 343.3,44.0 339.0,43.7 339.9,42.8 336.4,42.3"/><path d="M501.1,19.9 506.3,18.2 513.2,16.5 520.1,14.2 530.5,13.3 540.9,13.0 551.3,12.1 561.7,11.3 575.6,11.3 584.3,12.1 592.9,13.5 601.6,14.2 606.8,14.7 599.9,16.5 596.4,18.2 594.7,20.8 595.5,23.4 592.9,26.0 591.2,27.7 589.5,30.3 588.6,32.9 588.6,34.7 586.0,35.5 582.5,37.3 577.3,37.8 572.1,38.1 568.7,40.7 562.6,42.5 559.1,43.7 557.4,45.1 555.7,47.7 553.9,50.3 552.2,51.7 550.5,52.0 547.9,51.0 546.1,50.6 543.5,49.4 540.9,47.7 539.2,45.9 538.3,45.1 536.6,43.3 535.7,41.6 534.9,39.0 535.7,37.3 538.3,35.5 536.6,34.3 534.0,33.8 533.1,32.1 531.4,30.3 529.7,28.6 527.9,26.9 525.3,25.1 521.9,24.3 516.7,23.9 511.5,24.3 508.0,23.4 504.5,22.5 501.9,21.1 501.1,19.9"/><path d="M520.5,40.2 518.4,42.5 515.8,44.2 514.1,46.8 513.2,48.5 509.7,48.2 506.3,47.1 503.7,45.9 500.2,44.2 495.9,44.5 492.4,43.7 495.0,41.6 499.3,39.0 500.2,38.1 495.0,36.4 491.5,34.7 487.2,34.7 482.0,34.3 475.1,33.8 472.5,32.1 475.1,29.5 480.3,28.6 485.5,28.1 488.9,28.3 494.1,29.8 499.3,31.5 504.5,33.5 509.7,34.7 511.5,36.4 513.2,38.1 516.7,39.0 520.5,40.2"/><path d="M520.1,13.2 513.2,12.1 502.8,12.1 488.9,12.1 478.5,13.0 468.1,14.7 471.6,16.5 478.5,17.3 480.3,19.1 475.1,20.8 482.0,22.2 488.9,23.4 492.4,22.5 494.1,20.8 497.6,19.9 502.8,19.1 506.3,17.3 511.5,16.5 516.7,14.7 520.1,13.2"/><path d="M478.5,16.5 471.6,15.1 462.9,15.3 461.2,17.3 464.7,19.9 469.9,20.8 475.1,19.4 478.5,16.5"/><path d="M488.9,26.9 482.0,26.9 475.1,26.3 468.1,26.0 467.3,24.3 473.3,23.4 482.0,23.4 487.2,24.3 488.9,26.9"/><path d="M453.4,34.7 447.3,36.4 440.4,36.7 431.7,37.1 424.8,36.1 422.2,33.8 424.8,32.1 423.1,30.3 430.0,29.5 436.9,29.8 443.9,29.1 446.5,31.2 450.8,32.9 453.4,34.7"/><path d="M426.5,31.2 421.3,32.1 414.4,32.6 410.1,31.2 411.8,27.7 417.9,26.9 424.8,27.7 426.5,31.2"/><path d="M445.6,26.0 438.7,26.3 431.7,26.9 424.8,26.0 426.5,23.7 433.5,23.4 440.4,24.3 445.6,26.0"/><path d="M459.5,32.1 456.0,32.4 450.8,30.3 450.8,28.6 456.0,27.9 459.5,29.5 459.5,32.1"/><path d="M470.7,31.2 464.7,31.2 462.1,28.6 464.7,27.7 470.7,28.1 470.7,31.2"/><path d="M486.3,45.1 482.0,45.9 476.8,45.4 477.7,42.5 480.3,41.6 483.7,42.5 486.3,45.1"/><path d="M459.5,25.1 453.4,25.1 452.5,23.4 457.7,22.9 459.5,25.1"/><path d="M524.8,73.5 528.8,73.5 532.3,74.5 535.7,75.1 536.3,73.7 534.9,71.1 531.4,69.7 530.5,66.9 527.9,68.5 526.2,71.1 524.8,73.5"/><path d="M480.4,118.0 482.9,116.3 485.5,115.8 488.9,116.1 491.5,117.3 493.3,118.2 496.4,119.6 499.0,121.0 496.7,121.5 494.1,121.5 492.9,120.1 490.7,118.7 488.1,117.9 485.5,117.2 482.9,117.9 480.4,118.0"/><path d="M498.6,121.7 501.1,121.5 502.8,121.5 506.3,121.9 508.9,123.6 508.9,124.3 506.3,124.5 503.7,125.3 501.1,124.8 498.6,124.1 501.4,123.8 498.6,121.7"/><path d="M491.9,124.1 494.5,123.9 495.5,125.0 493.3,125.1 491.9,124.1"/><path d="M511.1,123.9 513.9,124.1 513.7,124.8 511.1,124.8 511.1,123.9"/><path d="M413.9,72.1 410.9,71.2 408.3,70.2 405.0,67.9 407.5,68.3 410.9,69.3 413.9,72.1"/><path d="M400.5,65.9 397.9,64.1 397.1,62.4 398.8,62.7 400.5,65.9"/><path d="M521.3,244.7 524.5,244.9 527.6,245.3 526.2,246.5 522.7,246.1 521.3,244.7"/><path d="M508.7,247.2 512.3,248.7 514.9,250.8 511.5,251.3 508.0,251.9 504.5,251.3 502.8,250.3 506.3,248.7 508.7,247.2"/><path d="M561.7,249.6 565.2,249.9 565.5,251.0 562.6,250.5 561.7,249.6"/><path d="M410.9,42.5 416.1,40.7 421.3,40.7 422.2,42.5 417.9,43.3 413.5,43.7 410.9,42.5"/><path d="M424.8,50.3 430.0,49.4 435.2,47.7 433.5,48.5 428.3,50.3 424.8,50.3"/><path d="M459.5,68.5 460.3,66.7 458.6,64.1 456.9,62.4 456.0,63.3 458.1,65.9 459.5,68.5"/><path d="M468.0,75.1 470.7,74.0 472.5,72.8 475.1,71.6 478.5,71.6 480.6,73.7 481.1,75.4 479.4,75.1 476.8,75.4 474.2,74.2 470.7,75.2 468.0,75.1"/><path d="M475.4,83.2 475.4,80.6 475.9,78.0 477.7,76.6 480.3,76.3 479.4,78.0 478.2,79.7 477.7,82.3 476.8,83.9 475.4,83.2"/><path d="M482.0,76.3 484.6,76.4 486.0,77.5 488.9,78.9 486.0,78.9 484.8,81.5 482.9,79.7 483.0,78.0 482.0,76.3"/><path d="M483.2,83.7 486.3,83.9 490.7,81.8 488.1,82.2 484.6,83.2 483.2,83.7"/><path d="M489.3,80.9 492.4,80.9 495.3,80.4 495.0,79.4 491.5,79.9 489.3,80.9"/><path d="M24.4,277.3 12.3,277.9 3.6,278.2 -0.2,278.0 -10.3,279.4 -20.1,281.0 -35.1,283.9 -50.1,288.9 -62.1,292.1 -80.1,292.1 -100.1,290.0 -113.9,288.9 -107.3,285.1 -103.9,280.8 -102.1,275.6 -100.4,272.1 -98.7,269.5 -95.2,266.6 -92.8,265.5 -97.8,266.9 -102.1,268.7 -105.6,270.4 -108.2,273.0 -112.5,274.7 -113.4,277.3 -117.7,279.1 -121.2,279.9 -128.0,280.8 -135.1,282.2 -143.7,282.9 -152.4,282.9 -161.9,281.0 -172.0,282.0 -182.0,285.0 -191.9,283.9 -198.0,285.7 -212.0,283.9 -218.1,287.0 -232.1,285.7 -252.1,288.1 -256.1,288.9 -268.0,291.0 -250.0,295.5 -263.0,296.9 -261.9,299.0 -250.0,303.7 -282.1,303.7 -312.0,301.1 -339.9,296.9 -342.0,292.9 -334.1,291.0 -338.0,286.0 -336.0,278.0 -342.0,275.9 -360.1,273.0 -372.0,270.9 -377.7,271.8 -386.4,271.3 -395.1,270.7 -403.7,271.3 -412.4,271.8 -421.1,270.9 -429.7,270.4 -438.4,270.1 -447.1,269.9 -455.7,271.3 -464.4,271.3 -473.1,272.1 -481.7,273.5 -490.4,275.6 -495.6,276.5 -499.1,277.9 -502.5,278.2 -504.3,277.0 -507.7,274.7 -516.4,273.0 -525.1,272.1 -533.7,271.8 -542.4,272.1 -551.1,274.7 -559.7,276.5 -568.4,277.0 -577.1,277.3 -585.7,277.3 -594.4,277.7 -603.1,277.9 -611.7,277.9 -620.4,278.2 -629.1,279.1 -637.7,279.9"/><path d="M648.4,277.3 636.3,277.9 627.6,278.2 623.8,278.0 613.7,279.4 603.9,281.0 588.9,283.9 573.9,288.9 561.9,292.1 543.9,292.1 523.9,290.0 510.1,288.9 516.7,285.1 520.1,280.8 521.9,275.6 523.6,272.1 525.3,269.5 528.8,266.6 531.2,265.5 526.2,266.9 521.9,268.7 518.4,270.4 515.8,273.0 511.5,274.7 510.6,277.3 506.3,279.1 502.8,279.9 496.0,280.8 488.9,282.2 480.3,282.9 471.6,282.9 462.1,281.0 452.0,282.0 442.0,285.0 432.1,283.9 426.0,285.7 412.0,283.9 405.9,287.0 391.9,285.7 371.9,288.1 367.9,288.9 356.0,291.0 374.0,295.5 361.0,296.9 362.1,299.0 374.0,303.7 341.9,303.7 312.0,301.1 284.1,296.9 282.0,292.9 289.9,291.0 286.0,286.0 288.0,278.0 282.0,275.9 263.9,273.0 252.0,270.9 246.3,271.8 237.6,271.3 228.9,270.7 220.3,271.3 211.6,271.8 202.9,270.9 194.3,270.4 185.6,270.1 176.9,269.9 168.3,271.3 159.6,271.3 150.9,272.1 142.3,273.5 133.6,275.6 128.4,276.5 124.9,277.9 121.5,278.2 119.7,277.0 116.3,274.7 107.6,273.0 98.9,272.1 90.3,271.8 81.6,272.1 72.9,274.7 64.3,276.5 55.6,277.0 46.9,277.3 38.3,277.3 29.6,277.7 20.9,277.9 12.3,277.9 3.6,278.2 -5.1,279.1 -13.7,279.9"/></g></defs>
<text x="600.00" y="29.00" font-size="23" text-anchor="middle" font-weight="bold" >CPL625_R14df vp850 ANN 200001_202912</text>
<line x1="291.60" y1="48.0" x2="291.60" y2="37.0" stroke="#000" stroke-width="1.0"/>
<line x1="291.60" y1="360.0" x2="291.60" y2="371.0" stroke="#000" stroke-width="1.0"/>
<line x1="308.93" y1="48.0" x2="308.93" y2="42.5" stroke="#000" stroke-width="0.8"/>
<line x1="308.93" y1="360.0" x2="308.93" y2="365.5" stroke="#000" stroke-width="0.8"/>
<line x1="326.27" y1="48.0" x2="326.27" y2="42.5" stroke="#000" stroke-width="0.8"/>
<line x1="326.27" y1="360.0" x2="326.27" y2="365.5" stroke="#000" stroke-width="0.8"/>
<line x1="343.60" y1="48.0" x2="343.60" y2="37.0" stroke="#000" stroke-width="1.0"/>
<line x1="343.60" y1="360.0" x2="343.60" y2="371.0" stroke="#000" stroke-width="1.0"/>
<line x1="360.93" y1="48.0" x2="360.93" y2="42.5" stroke="#000" stroke-width="0.8"/>
<line x1="360.93" y1="360.0" x2="360.93" y2="365.5" stroke="#000" stroke-width="0.8"/>
<line x1="378.27" y1="48.0" x2="378.27" y2="42.5" stroke="#000" stroke-width="0.8"/>
<line x1="378.27" y1="360.0" x2="378.27" y2="365.5" stroke="#000" stroke-width="0.8"/>
<line x1="395.60" y1="48.0" x2="395.60" y2="37.0" stroke="#000" stroke-width="1.0"/>
<line x1="395.60" y1="360.0" x2="395.60" y2="371.0" stroke="#000" stroke-width="1.0"/>
<line x1="412.93" y1="48.0" x2="412.93" y2="42.5" stroke="#000" stroke-width="0.8"/>
<line x1="412.93" y1="360.0" x2="412.93" y2="365.5" stroke="#000" stroke-width="0.8"/>
<line x1="430.27" y1="48.0" x2="430.27" y2="42.5" stroke="#000" stroke-width="0.8"/>
<line x1="430.27" y1="360.0" x2="430.27" y2="365.5" stroke="#000" stroke-width="0.8"/>
<line x1="447.60" y1="48.0" x2="447.60" y2="37.0" stroke="#000" stroke-width="1.0"/>
<line x1="447.60" y1="360.0" x2="447.60" y2="371.0" stroke="#000" stroke-width="1.0"/>
<line x1="464.93" y1="48.0" x2="464.93" y2="42.5" stroke="#000" stroke-width="0.8"/>
<line x1="464.93" y1="360.0" x2="464.93" y2="365.5" stroke="#000" stroke-width="0.8"/>
<line x1="482.27" y1="48.0" x2="482.27" y2="42.5" stroke="#000" stroke-width="0.8"/>
<line x1="482.27" y1="360.0" x2="482.27" y2="365.5" stroke="#000" stroke-width="0.8"/>
<line x1="499.60" y1="48.0" x2="499.60" y2="37.0" stroke="#000" stroke-width="1.0"/>
<line x1="499.60" y1="360.0" x2="499.60" y2="371.0" stroke="#000" stroke-width="1.0"/>
<line x1="516.93" y1="48.0" x2="516.93" y2="42.5" stroke="#000" stroke-width="0.8"/>
<line x1="516.93" y1="360.0" x2="516.93" y2="365.5" stroke="#000" stroke-width="0.8"/>
<line x1="534.27" y1="48.0" x2="534.27" y2="42.5" stroke="#000" stroke-width="0.8"/>
<line x1="534.27" y1="360.0" x2="534.27" y2="365.5" stroke="#000" stroke-width="0.8"/>
<line x1="551.60" y1="48.0" x2="551.60" y2="37.0" stroke="#000" stroke-width="1.0"/>
<line x1="551.60" y1="360.0" x2="551.60" y2="371.0" stroke="#000" stroke-width="1.0"/>
<line x1="568.93" y1="48.0" x2="568.93" y2="42.5" stroke="#000" stroke-width="0.8"/>
<line x1="568.93" y1="360.0" x2="568.93" y2="365.5" stroke="#000" stroke-width="0.8"/>
<line x1="586.27" y1="48.0" x2="586.27" y2="42.5" stroke="#000" stroke-width="0.8"/>
<line x1="586.27" y1="360.0" x2="586.27" y2="365.5" stroke="#000" stroke-width="0.8"/>
<line x1="603.60" y1="48.0" x2="603.60" y2="37.0" stroke="#000" stroke-width="1.0"/>
<line x1="603.60" y1="360.0" x2="603.60" y2="371.0" stroke="#000" stroke-width="1.0"/>
<line x1="620.93" y1="48.0" x2="620.93" y2="42.5" stroke="#000" stroke-width="0.8"/>
<line x1="620.93" y1="360.0" x2="620.93" y2="365.5" stroke="#000" stroke-width="0.8"/>
<line x1="638.27" y1="48.0" x2="638.27" y2="42.5" stroke="#000" stroke-width="0.8"/>
<line x1="638.27" y1="360.0" x2="638.27" y2="365.5" stroke="#000" stroke-width="0.8"/>
<line x1="655.60" y1="48.0" x2="655.60" y2="37.0" stroke="#000" stroke-width="1.0"/>
<line x1="655.60" y1="360.0" x2="655.60" y2="371.0" stroke="#000" stroke-width="1.0"/>
<line x1="672.93" y1="48.0" x2="672.93" y2="42.5" stroke="#000" stroke-width="0.8"/>
<line x1="672.93" y1="360.0" x2="672.93" y2="365.5" stroke="#000" stroke-width="0.8"/>
<line x1="690.27" y1="48.0" x2="690.27" y2="42.5" stroke="#000" stroke-width="0.8"/>
<line x1="690.27" y1="360.0" x2="690.27" y2="365.5" stroke="#000" stroke-width="0.8"/>
<line x1="707.60" y1="48.0" x2="707.60" y2="37.0" stroke="#000" stroke-width="1.0"/>
<line x1="707.60" y1="360.0" x2="707.60" y2="371.0" stroke="#000" stroke-width="1.0"/>
<line x1="724.93" y1="48.0" x2="724.93" y2="42.5" stroke="#000" stroke-width="0.8"/>
<line x1="724.93" y1="360.0" x2="724.93" y2="365.5" stroke="#000" stroke-width="0.8"/>
<line x1="742.27" y1="48.0" x2="742.27" y2="42.5" stroke="#000" stroke-width="0.8"/>
<line x1="742.27" y1="360.0" x2="742.27" y2="365.5" stroke="#000" stroke-width="0.8"/>
<line x1="759.60" y1="48.0" x2="759.60" y2="37.0" stroke="#000" stroke-width="1.0"/>
<line x1="759.60" y1="360.0" x2="759.60" y2="371.0" stroke="#000" stroke-width="1.0"/>
<line x1="776.93" y1="48.0" x2="776.93" y2="42.5" stroke="#000" stroke-width="0.8"/>
<line x1="776.93" y1="360.0" x2="776.93" y2="365.5" stroke="#000" stroke-width="0.8"/>
<line x1="794.27" y1="48.0" x2="794.27" y2="42.5" stroke="#000" stroke-width="0.8"/>
<line x1="794.27" y1="360.0" x2="794.27" y2="365.5" stroke="#000" stroke-width="0.8"/>
<line x1="811.60" y1="48.0" x2="811.60" y2="37.0" stroke="#000" stroke-width="1.0"/>
<line x1="811.60" y1="360.0" x2="811.60" y2="371.0" stroke="#000" stroke-width="1.0"/>
<line x1="828.93" y1="48.0" x2="828.93" y2="42.5" stroke="#000" stroke-width="0.8"/>
<line x1="828.93" y1="360.0" x2="828.93" y2="365.5" stroke="#000" stroke-width="0.8"/>
<line x1="846.27" y1="48.0" x2="846.27" y2="42.5" stroke="#000" stroke-width="0.8"/>
<line x1="846.27" y1="360.0" x2="846.27" y2="365.5" stroke="#000" stroke-width="0.8"/>
<line x1="863.60" y1="48.0" x2="863.60" y2="37.0" stroke="#000" stroke-width="1.0"/>
<line x1="863.60" y1="360.0" x2="863.60" y2="371.0" stroke="#000" stroke-width="1.0"/>
<line x1="880.93" y1="48.0" x2="880.93" y2="42.5" stroke="#000" stroke-width="0.8"/>
<line x1="880.93" y1="360.0" x2="880.93" y2="365.5" stroke="#000" stroke-width="0.8"/>
<line x1="898.27" y1="48.0" x2="898.27" y2="42.5" stroke="#000" stroke-width="0.8"/>
<line x1="898.27" y1="360.0" x2="898.27" y2="365.5" stroke="#000" stroke-width="0.8"/>
<line x1="288.0" y1="360.00" x2="277.0" y2="360.00" stroke="#000" stroke-width="1.0"/>
<line x1="912.0" y1="360.00" x2="923.0" y2="360.00" stroke="#000" stroke-width="1.0"/>
<line x1="288.0" y1="342.67" x2="282.5" y2="342.67" stroke="#000" stroke-width="0.8"/>
<line x1="912.0" y1="342.67" x2="917.5" y2="342.67" stroke="#000" stroke-width="0.8"/>
<line x1="288.0" y1="325.33" x2="282.5" y2="325.33" stroke="#000" stroke-width="0.8"/>
<line x1="912.0" y1="325.33" x2="917.5" y2="325.33" stroke="#000" stroke-width="0.8"/>
<line x1="288.0" y1="308.00" x2="277.0" y2="308.00" stroke="#000" stroke-width="1.0"/>
<line x1="912.0" y1="308.00" x2="923.0" y2="308.00" stroke="#000" stroke-width="1.0"/>
<line x1="288.0" y1="290.67" x2="282.5" y2="290.67" stroke="#000" stroke-width="0.8"/>
<line x1="912.0" y1="290.67" x2="917.5" y2="290.67" stroke="#000" stroke-width="0.8"/>
<line x1="288.0" y1="273.33" x2="282.5" y2="273.33" stroke="#000" stroke-width="0.8"/>
<line x1="912.0" y1="273.33" x2="917.5" y2="273.33" stroke="#000" stroke-width="0.8"/>
<line x1="288.0" y1="256.00" x2="277.0" y2="256.00" stroke="#000" stroke-width="1.0"/>
<line x1="912.0" y1="256.00" x2="923.0" y2="256.00" stroke="#000" stroke-width="1.0"/>
<line x1="288.0" y1="238.67" x2="282.5" y2="238.67" stroke="#000" stroke-width="0.8"/>
<line x1="912.0" y1="238.67" x2="917.5" y2="238.67" stroke="#000" stroke-width="0.8"/>
<line x1="288.0" y1="221.33" x2="282.5" y2="221.33" stroke="#000" stroke-width="0.8"/>
<line x1="912.0" y1="221.33" x2="917.5" y2="221.33" stroke="#000" stroke-width="0.8"/>
<line x1="288.0" y1="204.00" x2="277.0" y2="204.00" stroke="#000" stroke-width="1.0"/>
<line x1="912.0" y1="204.00" x2="923.0" y2="204.00" stroke="#000" stroke-width="1.0"/>
<line x1="288.0" y1="186.67" x2="282.5" y2="186.67" stroke="#000" stroke-width="0.8"/>
<line x1="912.0" y1="186.67" x2="917.5" y2="186.67" stroke="#000" stroke-width="0.8"/>
<line x1="288.0" y1="169.33" x2="282.5" y2="169.33" stroke="#000" stroke-width="0.8"/>
<line x1="912.0" y1="169.33" x2="917.5" y2="169.33" stroke="#000" stroke-width="0.8"/>
<line x1="288.0" y1="152.00" x2="277.0" y2="152.00" stroke="#000" stroke-width="1.0"/>
<line x1="912.0" y1="152.00" x2="923.0" y2="152.00" stroke="#000" stroke-width="1.0"/>
<line x1="288.0" y1="134.67" x2="282.5" y2="134.67" stroke="#000" stroke-width="0.8"/>
<line x1="912.0" y1="134.67" x2="917.5" y2="134.67" stroke="#000" stroke-width="0.8"/>
<line x1="288.0" y1="117.33" x2="282.5" y2="117.33" stroke="#000" stroke-width="0.8"/>
<line x1="912.0" y1="117.33" x2="917.5" y2="117.33" stroke="#000" stroke-width="0.8"/>
<line x1="288.0" y1="100.00" x2="277.0" y2="100.00" stroke="#000" stroke-width="1.0"/>
<line x1="912.0" y1="100.00" x2="923.0" y2="100.00" stroke="#000" stroke-width="1.0"/>
<line x1="288.0" y1="82.67" x2="282.5" y2="82.67" stroke="#000" stroke-width="0.8"/>
<line x1="912.0" y1="82.67" x2="917.5" y2="82.67" stroke="#000" stroke-width="0.8"/>
<line x1="288.0" y1="65.33" x2="282.5" y2="65.33" stroke="#000" stroke-width="0.8"/>
<line x1="912.0" y1="65.33" x2="917.5" y2="65.33" stroke="#000" stroke-width="0.8"/>
<line x1="288.0" y1="48.00" x2="277.0" y2="48.00" stroke="#000" stroke-width="1.0"/>
<line x1="912.0" y1="48.00" x2="923.0" y2="48.00" stroke="#000" stroke-width="1.0"/>
<rect x="288.0" y="48.0" width="624.0" height="312" fill="none" stroke="#000" stroke-width="1.1"/>
<text x="291.60" y="390.00" font-size="13.4" text-anchor="middle" font-weight="normal" >0</text>
<text x="343.60" y="390.00" font-size="13.4" text-anchor="middle" font-weight="normal" >30E</text>
<text x="395.60" y="390.00" font-size="13.4" text-anchor="middle" font-weight="normal" >60E</text>
<text x="447.60" y="390.00" font-size="13.4" text-anchor="middle" font-weight="normal" >90E</text>
<text x="499.60" y="390.00" font-size="13.4" text-anchor="middle" font-weight="normal" >120E</text>
<text x="551.60" y="390.00" font-size="13.4" text-anchor="middle" font-weight="normal" >150E</text>
<text x="603.60" y="390.00" font-size="13.4" text-anchor="middle" font-weight="normal" >180</text>
<text x="655.60" y="390.00" font-size="13.4" text-anchor="middle" font-weight="normal" >150W</text>
<text x="707.60" y="390.00" font-size="13.4" text-anchor="middle" font-weight="normal" >120W</text>
<text x="759.60" y="390.00" font-size="13.4" text-anchor="middle" font-weight="normal" >90W</text>
<text x="811.60" y="390.00" font-size="13.4" text-anchor="middle" font-weight="normal" >60W</text>
<text x="863.60" y="390.00" font-size="13.4" text-anchor="middle" font-weight="normal" >30W</text>
<text x="268.50" y="364.80" font-size="13.4" text-anchor="end" font-weight="normal" >90S</text>
<text x="268.50" y="312.80" font-size="13.4" text-anchor="end" font-weight="normal" >60S</text>
<text x="268.50" y="260.80" font-size="13.4" text-anchor="end" font-weight="normal" >30S</text>
<text x="268.50" y="208.80" font-size="13.4" text-anchor="end" font-weight="normal" >0</text>
<text x="268.50" y="156.80" font-size="13.4" text-anchor="end" font-weight="normal" >30N</text>
<text x="268.50" y="104.80" font-size="13.4" text-anchor="end" font-weight="normal" >60N</text>
<text x="268.50" y="52.80" font-size="13.4" text-anchor="end" font-weight="normal" >90N</text>
<text x="600.00" y="425.00" font-size="23" text-anchor="middle" font-weight="bold" >CPL625_R14 vp850 ANN 200001_202912</text>
<line x1="291.60" y1="444.0" x2="291.60" y2="433.0" stroke="#000" stroke-width="1.0"/>
<line x1="291.60" y1="756.0" x2="291.60" y2="767.0" stroke="#000" stroke-width="1.0"/>
<line x1="308.93" y1="444.0" x2="308.93" y2="438.5" stroke="#000" stroke-width="0.8"/>
<line x1="308.93" y1="756.0" x2="308.93" y2="761.5" stroke="#000" stroke-width="0.8"/>
<line x1="326.27" y1="444.0" x2="326.27" y2="438.5" stroke="#000" stroke-width="0.8"/>
<line x1="326.27" y1="756.0" x2="326.27" y2="761.5" stroke="#000" stroke-width="0.8"/>
<line x1="343.60" y1="444.0" x2="343.60" y2="433.0" stroke="#000" stroke-width="1.0"/>
<line x1="343.60" y1="756.0" x2="343.60" y2="767.0" stroke="#000" stroke-width="1.0"/>
<line x1="360.93" y1="444.0" x2="360.93" y2="438.5" stroke="#000" stroke-width="0.8"/>
<line x1="360.93" y1="756.0" x2="360.93" y2="761.5" stroke="#000" stroke-width="0.8"/>
<line x1="378.27" y1="444.0" x2="378.27" y2="438.5" stroke="#000" stroke-width="0.8"/>
<line x1="378.27" y1="756.0" x2="378.27" y2="761.5" stroke="#000" stroke-width="0.8"/>
<line x1="395.60" y1="444.0" x2="395.60" y2="433.0" stroke="#000" stroke-width="1.0"/>
<line x1="395.60" y1="756.0" x2="395.60" y2="767.0" stroke="#000" stroke-width="1.0"/>
<line x1="412.93" y1="444.0" x2="412.93" y2="438.5" stroke="#000" stroke-width="0.8"/>
<line x1="412.93" y1="756.0" x2="412.93" y2="761.5" stroke="#000" stroke-width="0.8"/>
<line x1="430.27" y1="444.0" x2="430.27" y2="438.5" stroke="#000" stroke-width="0.8"/>
<line x1="430.27" y1="756.0" x2="430.27" y2="761.5" stroke="#000" stroke-width="0.8"/>
<line x1="447.60" y1="444.0" x2="447.60" y2="433.0" stroke="#000" stroke-width="1.0"/>
<line x1="447.60" y1="756.0" x2="447.60" y2="767.0" stroke="#000" stroke-width="1.0"/>
<line x1="464.93" y1="444.0" x2="464.93" y2="438.5" stroke="#000" stroke-width="0.8"/>
<line x1="464.93" y1="756.0" x2="464.93" y2="761.5" stroke="#000" stroke-width="0.8"/>
<line x1="482.27" y1="444.0" x2="482.27" y2="438.5" stroke="#000" stroke-width="0.8"/>
<line x1="482.27" y1="756.0" x2="482.27" y2="761.5" stroke="#000" stroke-width="0.8"/>
<line x1="499.60" y1="444.0" x2="499.60" y2="433.0" stroke="#000" stroke-width="1.0"/>
<line x1="499.60" y1="756.0" x2="499.60" y2="767.0" stroke="#000" stroke-width="1.0"/>
<line x1="516.93" y1="444.0" x2="516.93" y2="438.5" stroke="#000" stroke-width="0.8"/>
<line x1="516.93" y1="756.0" x2="516.93" y2="761.5" stroke="#000" stroke-width="0.8"/>
<line x1="534.27" y1="444.0" x2="534.27" y2="438.5" stroke="#000" stroke-width="0.8"/>
<line x1="534.27" y1="756.0" x2="534.27" y2="761.5" stroke="#000" stroke-width="0.8"/>
<line x1="551.60" y1="444.0" x2="551.60" y2="433.0" stroke="#000" stroke-width="1.0"/>
<line x1="551.60" y1="756.0" x2="551.60" y2="767.0" stroke="#000" stroke-width="1.0"/>
<line x1="568.93" y1="444.0" x2="568.93" y2="438.5" stroke="#000" stroke-width="0.8"/>
<line x1="568.93" y1="756.0" x2="568.93" y2="761.5" stroke="#000" stroke-width="0.8"/>
<line x1="586.27" y1="444.0" x2="586.27" y2="438.5" stroke="#000" stroke-width="0.8"/>
<line x1="586.27" y1="756.0" x2="586.27" y2="761.5" stroke="#000" stroke-width="0.8"/>
<line x1="603.60" y1="444.0" x2="603.60" y2="433.0" stroke="#000" stroke-width="1.0"/>
<line x1="603.60" y1="756.0" x2="603.60" y2="767.0" stroke="#000" stroke-width="1.0"/>
<line x1="620.93" y1="444.0" x2="620.93" y2="438.5" stroke="#000" stroke-width="0.8"/>
<line x1="620.93" y1="756.0" x2="620.93" y2="761.5" stroke="#000" stroke-width="0.8"/>
<line x1="638.27" y1="444.0" x2="638.27" y2="438.5" stroke="#000" stroke-width="0.8"/>
<line x1="638.27" y1="756.0" x2="638.27" y2="761.5" stroke="#000" stroke-width="0.8"/>
<line x1="655.60" y1="444.0" x2="655.60" y2="433.0" stroke="#000" stroke-width="1.0"/>
<line x1="655.60" y1="756.0" x2="655.60" y2="767.0" stroke="#000" stroke-width="1.0"/>
<line x1="672.93" y1="444.0" x2="672.93" y2="438.5" stroke="#000" stroke-width="0.8"/>
<line x1="672.93" y1="756.0" x2="672.93" y2="761.5" stroke="#000" stroke-width="0.8"/>
<line x1="690.27" y1="444.0" x2="690.27" y2="438.5" stroke="#000" stroke-width="0.8"/>
<line x1="690.27" y1="756.0" x2="690.27" y2="761.5" stroke="#000" stroke-width="0.8"/>
<line x1="707.60" y1="444.0" x2="707.60" y2="433.0" stroke="#000" stroke-width="1.0"/>
<line x1="707.60" y1="756.0" x2="707.60" y2="767.0" stroke="#000" stroke-width="1.0"/>
<line x1="724.93" y1="444.0" x2="724.93" y2="438.5" stroke="#000" stroke-width="0.8"/>
<line x1="724.93" y1="756.0" x2="724.93" y2="761.5" stroke="#000" stroke-width="0.8"/>
<line x1="742.27" y1="444.0" x2="742.27" y2="438.5" stroke="#000" stroke-width="0.8"/>
<line x1="742.27" y1="756.0" x2="742.27" y2="761.5" stroke="#000" stroke-width="0.8"/>
<line x1="759.60" y1="444.0" x2="759.60" y2="433.0" stroke="#000" stroke-width="1.0"/>
<line x1="759.60" y1="756.0" x2="759.60" y2="767.0" stroke="#000" stroke-width="1.0"/>
<line x1="776.93" y1="444.0" x2="776.93" y2="438.5" stroke="#000" stroke-width="0.8"/>
<line x1="776.93" y1="756.0" x2="776.93" y2="761.5" stroke="#000" stroke-width="0.8"/>
<line x1="794.27" y1="444.0" x2="794.27" y2="438.5" stroke="#000" stroke-width="0.8"/>
<line x1="794.27" y1="756.0" x2="794.27" y2="761.5" stroke="#000" stroke-width="0.8"/>
<line x1="811.60" y1="444.0" x2="811.60" y2="433.0" stroke="#000" stroke-width="1.0"/>
<line x1="811.60" y1="756.0" x2="811.60" y2="767.0" stroke="#000" stroke-width="1.0"/>
<line x1="828.93" y1="444.0" x2="828.93" y2="438.5" stroke="#000" stroke-width="0.8"/>
<line x1="828.93" y1="756.0" x2="828.93" y2="761.5" stroke="#000" stroke-width="0.8"/>
<line x1="846.27" y1="444.0" x2="846.27" y2="438.5" stroke="#000" stroke-width="0.8"/>
<line x1="846.27" y1="756.0" x2="846.27" y2="761.5" stroke="#000" stroke-width="0.8"/>
<line x1="863.60" y1="444.0" x2="863.60" y2="433.0" stroke="#000" stroke-width="1.0"/>
<line x1="863.60" y1="756.0" x2="863.60" y2="767.0" stroke="#000" stroke-width="1.0"/>
<line x1="880.93" y1="444.0" x2="880.93" y2="438.5" stroke="#000" stroke-width="0.8"/>
<line x1="880.93" y1="756.0" x2="880.93" y2="761.5" stroke="#000" stroke-width="0.8"/>
<line x1="898.27" y1="444.0" x2="898.27" y2="438.5" stroke="#000" stroke-width="0.8"/>
<line x1="898.27" y1="756.0" x2="898.27" y2="761.5" stroke="#000" stroke-width="0.8"/>
<line x1="288.0" y1="756.00" x2="277.0" y2="756.00" stroke="#000" stroke-width="1.0"/>
<line x1="912.0" y1="756.00" x2="923.0" y2="756.00" stroke="#000" stroke-width="1.0"/>
<line x1="288.0" y1="738.67" x2="282.5" y2="738.67" stroke="#000" stroke-width="0.8"/>
<line x1="912.0" y1="738.67" x2="917.5" y2="738.67" stroke="#000" stroke-width="0.8"/>
<line x1="288.0" y1="721.33" x2="282.5" y2="721.33" stroke="#000" stroke-width="0.8"/>
<line x1="912.0" y1="721.33" x2="917.5" y2="721.33" stroke="#000" stroke-width="0.8"/>
<line x1="288.0" y1="704.00" x2="277.0" y2="704.00" stroke="#000" stroke-width="1.0"/>
<line x1="912.0" y1="704.00" x2="923.0" y2="704.00" stroke="#000" stroke-width="1.0"/>
<line x1="288.0" y1="686.67" x2="282.5" y2="686.67" stroke="#000" stroke-width="0.8"/>
<line x1="912.0" y1="686.67" x2="917.5" y2="686.67" stroke="#000" stroke-width="0.8"/>
<line x1="288.0" y1="669.33" x2="282.5" y2="669.33" stroke="#000" stroke-width="0.8"/>
<line x1="912.0" y1="669.33" x2="917.5" y2="669.33" stroke="#000" stroke-width="0.8"/>
<line x1="288.0" y1="652.00" x2="277.0" y2="652.00" stroke="#000" stroke-width="1.0"/>
<line x1="912.0" y1="652.00" x2="923.0" y2="652.00" stroke="#000" stroke-width="1.0"/>
<line x1="288.0" y1="634.67" x2="282.5" y2="634.67" stroke="#000" stroke-width="0.8"/>
<line x1="912.0" y1="634.67" x2="917.5" y2="634.67" stroke="#000" stroke-width="0.8"/>
<line x1="288.0" y1="617.33" x2="282.5" y2="617.33" stroke="#000" stroke-width="0.8"/>
<line x1="912.0" y1="617.33" x2="917.5" y2="617.33" stroke="#000" stroke-width="0.8"/>
<line x1="288.0" y1="600.00" x2="277.0" y2="600.00" stroke="#000" stroke-width="1.0"/>
<line x1="912.0" y1="600.00" x2="923.0" y2="600.00" stroke="#000" stroke-width="1.0"/>
<line x1="288.0" y1="582.67" x2="282.5" y2="582.67" stroke="#000" stroke-width="0.8"/>
<line x1="912.0" y1="582.67" x2="917.5" y2="582.67" stroke="#000" stroke-width="0.8"/>
<line x1="288.0" y1="565.33" x2="282.5" y2="565.33" stroke="#000" stroke-width="0.8"/>
<line x1="912.0" y1="565.33" x2="917.5" y2="565.33" stroke="#000" stroke-width="0.8"/>
<line x1="288.0" y1="548.00" x2="277.0" y2="548.00" stroke="#000" stroke-width="1.0"/>
<line x1="912.0" y1="548.00" x2="923.0" y2="548.00" stroke="#000" stroke-width="1.0"/>
<line x1="288.0" y1="530.67" x2="282.5" y2="530.67" stroke="#000" stroke-width="0.8"/>
<line x1="912.0" y1="530.67" x2="917.5" y2="530.67" stroke="#000" stroke-width="0.8"/>
<line x1="288.0" y1="513.33" x2="282.5" y2="513.33" stroke="#000" stroke-width="0.8"/>
<line x1="912.0" y1="513.33" x2="917.5" y2="513.33" stroke="#000" stroke-width="0.8"/>
<line x1="288.0" y1="496.00" x2="277.0" y2="496.00" stroke="#000" stroke-width="1.0"/>
<line x1="912.0" y1="496.00" x2="923.0" y2="496.00" stroke="#000" stroke-width="1.0"/>
<line x1="288.0" y1="478.67" x2="282.5" y2="478.67" stroke="#000" stroke-width="0.8"/>
<line x1="912.0" y1="478.67" x2="917.5" y2="478.67" stroke="#000" stroke-width="0.8"/>
<line x1="288.0" y1="461.33" x2="282.5" y2="461.33" stroke="#000" stroke-width="0.8"/>
<line x1="912.0" y1="461.33" x2="917.5" y2="461.33" stroke="#000" stroke-width="0.8"/>
<line x1="288.0" y1="444.00" x2="277.0" y2="444.00" stroke="#000" stroke-width="1.0"/>
<line x1="912.0" y1="444.00" x2="923.0" y2="444.00" stroke="#000" stroke-width="1.0"/>
<rect x="288.0" y="444.0" width="624.0" height="312" fill="none" stroke="#000" stroke-width="1.1"/>
<text x="291.60" y="786.00" font-size="13.4" text-anchor="middle" font-weight="normal" >0</text>
<text x="343.60" y="786.00" font-size="13.4" text-anchor="middle" font-weight="normal" >30E</text>
<text x="395.60" y="786.00" font-size="13.4" text-anchor="middle" font-weight="normal" >60E</text>
<text x="447.60" y="786.00" font-size="13.4" text-anchor="middle" font-weight="normal" >90E</text>
<text x="499.60" y="786.00" font-size="13.4" text-anchor="middle" font-weight="normal" >120E</text>
<text x="551.60" y="786.00" font-size="13.4" text-anchor="middle" font-weight="normal" >150E</text>
<text x="603.60" y="786.00" font-size="13.4" text-anchor="middle" font-weight="normal" >180</text>
<text x="655.60" y="786.00" font-size="13.4" text-anchor="middle" font-weight="normal" >150W</text>
<text x="707.60" y="786.00" font-size="13.4" text-anchor="middle" font-weight="normal" >120W</text>
<text x="759.60" y="786.00" font-size="13.4" text-anchor="middle" font-weight="normal" >90W</text>
<text x="811.60" y="786.00" font-size="13.4" text-anchor="middle" font-weight="normal" >60W</text>
<text x="863.60" y="786.00" font-size="13.4" text-anchor="middle" font-weight="normal" >30W</text>
<text x="268.50" y="760.80" font-size="13.4" text-anchor="end" font-weight="normal" >90S</text>
<text x="268.50" y="708.80" font-size="13.4" text-anchor="end" font-weight="normal" >60S</text>
<text x="268.50" y="656.80" font-size="13.4" text-anchor="end" font-weight="normal" >30S</text>
<text x="268.50" y="604.80" font-size="13.4" text-anchor="end" font-weight="normal" >0</text>
<text x="268.50" y="552.80" font-size="13.4" text-anchor="end" font-weight="normal" >30N</text>
<text x="268.50" y="500.80" font-size="13.4" text-anchor="end" font-weight="normal" >60N</text>
<text x="268.50" y="448.80" font-size="13.4" text-anchor="end" font-weight="normal" >90N</text>
<text x="600.00" y="821.00" font-size="23" text-anchor="middle" font-weight="bold" >CPL625_R14df minus CPL625_R14 vp850 ANN (Rxy=1, RMSE=0)</text>
<line x1="291.60" y1="840.0" x2="291.60" y2="829.0" stroke="#000" stroke-width="1.0"/>
<line x1="291.60" y1="1152.0" x2="291.60" y2="1163.0" stroke="#000" stroke-width="1.0"/>
<line x1="308.93" y1="840.0" x2="308.93" y2="834.5" stroke="#000" stroke-width="0.8"/>
<line x1="308.93" y1="1152.0" x2="308.93" y2="1157.5" stroke="#000" stroke-width="0.8"/>
<line x1="326.27" y1="840.0" x2="326.27" y2="834.5" stroke="#000" stroke-width="0.8"/>
<line x1="326.27" y1="1152.0" x2="326.27" y2="1157.5" stroke="#000" stroke-width="0.8"/>
<line x1="343.60" y1="840.0" x2="343.60" y2="829.0" stroke="#000" stroke-width="1.0"/>
<line x1="343.60" y1="1152.0" x2="343.60" y2="1163.0" stroke="#000" stroke-width="1.0"/>
<line x1="360.93" y1="840.0" x2="360.93" y2="834.5" stroke="#000" stroke-width="0.8"/>
<line x1="360.93" y1="1152.0" x2="360.93" y2="1157.5" stroke="#000" stroke-width="0.8"/>
<line x1="378.27" y1="840.0" x2="378.27" y2="834.5" stroke="#000" stroke-width="0.8"/>
<line x1="378.27" y1="1152.0" x2="378.27" y2="1157.5" stroke="#000" stroke-width="0.8"/>
<line x1="395.60" y1="840.0" x2="395.60" y2="829.0" stroke="#000" stroke-width="1.0"/>
<line x1="395.60" y1="1152.0" x2="395.60" y2="1163.0" stroke="#000" stroke-width="1.0"/>
<line x1="412.93" y1="840.0" x2="412.93" y2="834.5" stroke="#000" stroke-width="0.8"/>
<line x1="412.93" y1="1152.0" x2="412.93" y2="1157.5" stroke="#000" stroke-width="0.8"/>
<line x1="430.27" y1="840.0" x2="430.27" y2="834.5" stroke="#000" stroke-width="0.8"/>
<line x1="430.27" y1="1152.0" x2="430.27" y2="1157.5" stroke="#000" stroke-width="0.8"/>
<line x1="447.60" y1="840.0" x2="447.60" y2="829.0" stroke="#000" stroke-width="1.0"/>
<line x1="447.60" y1="1152.0" x2="447.60" y2="1163.0" stroke="#000" stroke-width="1.0"/>
<line x1="464.93" y1="840.0" x2="464.93" y2="834.5" stroke="#000" stroke-width="0.8"/>
<line x1="464.93" y1="1152.0" x2="464.93" y2="1157.5" stroke="#000" stroke-width="0.8"/>
<line x1="482.27" y1="840.0" x2="482.27" y2="834.5" stroke="#000" stroke-width="0.8"/>
<line x1="482.27" y1="1152.0" x2="482.27" y2="1157.5" stroke="#000" stroke-width="0.8"/>
<line x1="499.60" y1="840.0" x2="499.60" y2="829.0" stroke="#000" stroke-width="1.0"/>
<line x1="499.60" y1="1152.0" x2="499.60" y2="1163.0" stroke="#000" stroke-width="1.0"/>
<line x1="516.93" y1="840.0" x2="516.93" y2="834.5" stroke="#000" stroke-width="0.8"/>
<line x1="516.93" y1="1152.0" x2="516.93" y2="1157.5" stroke="#000" stroke-width="0.8"/>
<line x1="534.27" y1="840.0" x2="534.27" y2="834.5" stroke="#000" stroke-width="0.8"/>
<line x1="534.27" y1="1152.0" x2="534.27" y2="1157.5" stroke="#000" stroke-width="0.8"/>
<line x1="551.60" y1="840.0" x2="551.60" y2="829.0" stroke="#000" stroke-width="1.0"/>
<line x1="551.60" y1="1152.0" x2="551.60" y2="1163.0" stroke="#000" stroke-width="1.0"/>
<line x1="568.93" y1="840.0" x2="568.93" y2="834.5" stroke="#000" stroke-width="0.8"/>
<line x1="568.93" y1="1152.0" x2="568.93" y2="1157.5" stroke="#000" stroke-width="0.8"/>
<line x1="586.27" y1="840.0" x2="586.27" y2="834.5" stroke="#000" stroke-width="0.8"/>
<line x1="586.27" y1="1152.0" x2="586.27" y2="1157.5" stroke="#000" stroke-width="0.8"/>
<line x1="603.60" y1="840.0" x2="603.60" y2="829.0" stroke="#000" stroke-width="1.0"/>
<line x1="603.60" y1="1152.0" x2="603.60" y2="1163.0" stroke="#000" stroke-width="1.0"/>
<line x1="620.93" y1="840.0" x2="620.93" y2="834.5" stroke="#000" stroke-width="0.8"/>
<line x1="620.93" y1="1152.0" x2="620.93" y2="1157.5" stroke="#000" stroke-width="0.8"/>
<line x1="638.27" y1="840.0" x2="638.27" y2="834.5" stroke="#000" stroke-width="0.8"/>
<line x1="638.27" y1="1152.0" x2="638.27" y2="1157.5" stroke="#000" stroke-width="0.8"/>
<line x1="655.60" y1="840.0" x2="655.60" y2="829.0" stroke="#000" stroke-width="1.0"/>
<line x1="655.60" y1="1152.0" x2="655.60" y2="1163.0" stroke="#000" stroke-width="1.0"/>
<line x1="672.93" y1="840.0" x2="672.93" y2="834.5" stroke="#000" stroke-width="0.8"/>
<line x1="672.93" y1="1152.0" x2="672.93" y2="1157.5" stroke="#000" stroke-width="0.8"/>
<line x1="690.27" y1="840.0" x2="690.27" y2="834.5" stroke="#000" stroke-width="0.8"/>
<line x1="690.27" y1="1152.0" x2="690.27" y2="1157.5" stroke="#000" stroke-width="0.8"/>
<line x1="707.60" y1="840.0" x2="707.60" y2="829.0" stroke="#000" stroke-width="1.0"/>
<line x1="707.60" y1="1152.0" x2="707.60" y2="1163.0" stroke="#000" stroke-width="1.0"/>
<line x1="724.93" y1="840.0" x2="724.93" y2="834.5" stroke="#000" stroke-width="0.8"/>
<line x1="724.93" y1="1152.0" x2="724.93" y2="1157.5" stroke="#000" stroke-width="0.8"/>
<line x1="742.27" y1="840.0" x2="742.27" y2="834.5" stroke="#000" stroke-width="0.8"/>
<line x1="742.27" y1="1152.0" x2="742.27" y2="1157.5" stroke="#000" stroke-width="0.8"/>
<line x1="759.60" y1="840.0" x2="759.60" y2="829.0" stroke="#000" stroke-width="1.0"/>
<line x1="759.60" y1="1152.0" x2="759.60" y2="1163.0" stroke="#000" stroke-width="1.0"/>
<line x1="776.93" y1="840.0" x2="776.93" y2="834.5" stroke="#000" stroke-width="0.8"/>
<line x1="776.93" y1="1152.0" x2="776.93" y2="1157.5" stroke="#000" stroke-width="0.8"/>
<line x1="794.27" y1="840.0" x2="794.27" y2="834.5" stroke="#000" stroke-width="0.8"/>
<line x1="794.27" y1="1152.0" x2="794.27" y2="1157.5" stroke="#000" stroke-width="0.8"/>
<line x1="811.60" y1="840.0" x2="811.60" y2="829.0" stroke="#000" stroke-width="1.0"/>
<line x1="811.60" y1="1152.0" x2="811.60" y2="1163.0" stroke="#000" stroke-width="1.0"/>
<line x1="828.93" y1="840.0" x2="828.93" y2="834.5" stroke="#000" stroke-width="0.8"/>
<line x1="828.93" y1="1152.0" x2="828.93" y2="1157.5" stroke="#000" stroke-width="0.8"/>
<line x1="846.27" y1="840.0" x2="846.27" y2="834.5" stroke="#000" stroke-width="0.8"/>
<line x1="846.27" y1="1152.0" x2="846.27" y2="1157.5" stroke="#000" stroke-width="0.8"/>
<line x1="863.60" y1="840.0" x2="863.60" y2="829.0" stroke="#000" stroke-width="1.0"/>
<line x1="863.60" y1="1152.0" x2="863.60" y2="1163.0" stroke="#000" stroke-width="1.0"/>
<line x1="880.93" y1="840.0" x2="880.93" y2="834.5" stroke="#000" stroke-width="0.8"/>
<line x1="880.93" y1="1152.0" x2="880.93" y2="1157.5" stroke="#000" stroke-width="0.8"/>
<line x1="898.27" y1="840.0" x2="898.27" y2="834.5" stroke="#000" stroke-width="0.8"/>
<line x1="898.27" y1="1152.0" x2="898.27" y2="1157.5" stroke="#000" stroke-width="0.8"/>
<line x1="288.0" y1="1152.00" x2="277.0" y2="1152.00" stroke="#000" stroke-width="1.0"/>
<line x1="912.0" y1="1152.00" x2="923.0" y2="1152.00" stroke="#000" stroke-width="1.0"/>
<line x1="288.0" y1="1134.67" x2="282.5" y2="1134.67" stroke="#000" stroke-width="0.8"/>
<line x1="912.0" y1="1134.67" x2="917.5" y2="1134.67" stroke="#000" stroke-width="0.8"/>
<line x1="288.0" y1="1117.33" x2="282.5" y2="1117.33" stroke="#000" stroke-width="0.8"/>
<line x1="912.0" y1="1117.33" x2="917.5" y2="1117.33" stroke="#000" stroke-width="0.8"/>
<line x1="288.0" y1="1100.00" x2="277.0" y2="1100.00" stroke="#000" stroke-width="1.0"/>
<line x1="912.0" y1="1100.00" x2="923.0" y2="1100.00" stroke="#000" stroke-width="1.0"/>
<line x1="288.0" y1="1082.67" x2="282.5" y2="1082.67" stroke="#000" stroke-width="0.8"/>
<line x1="912.0" y1="1082.67" x2="917.5" y2="1082.67" stroke="#000" stroke-width="0.8"/>
<line x1="288.0" y1="1065.33" x2="282.5" y2="1065.33" stroke="#000" stroke-width="0.8"/>
<line x1="912.0" y1="1065.33" x2="917.5" y2="1065.33" stroke="#000" stroke-width="0.8"/>
<line x1="288.0" y1="1048.00" x2="277.0" y2="1048.00" stroke="#000" stroke-width="1.0"/>
<line x1="912.0" y1="1048.00" x2="923.0" y2="1048.00" stroke="#000" stroke-width="1.0"/>
<line x1="288.0" y1="1030.67" x2="282.5" y2="1030.67" stroke="#000" stroke-width="0.8"/>
<line x1="912.0" y1="1030.67" x2="917.5" y2="1030.67" stroke="#000" stroke-width="0.8"/>
<line x1="288.0" y1="1013.33" x2="282.5" y2="1013.33" stroke="#000" stroke-width="0.8"/>
<line x1="912.0" y1="1013.33" x2="917.5" y2="1013.33" stroke="#000" stroke-width="0.8"/>
<line x1="288.0" y1="996.00" x2="277.0" y2="996.00" stroke="#000" stroke-width="1.0"/>
<line x1="912.0" y1="996.00" x2="923.0" y2="996.00" stroke="#000" stroke-width="1.0"/>
<line x1="288.0" y1="978.67" x2="282.5" y2="978.67" stroke="#000" stroke-width="0.8"/>
<line x1="912.0" y1="978.67" x2="917.5" y2="978.67" stroke="#000" stroke-width="0.8"/>
<line x1="288.0" y1="961.33" x2="282.5" y2="961.33" stroke="#000" stroke-width="0.8"/>
<line x1="912.0" y1="961.33" x2="917.5" y2="961.33" stroke="#000" stroke-width="0.8"/>
<line x1="288.0" y1="944.00" x2="277.0" y2="944.00" stroke="#000" stroke-width="1.0"/>
<line x1="912.0" y1="944.00" x2="923.0" y2="944.00" stroke="#000" stroke-width="1.0"/>
<line x1="288.0" y1="926.67" x2="282.5" y2="926.67" stroke="#000" stroke-width="0.8"/>
<line x1="912.0" y1="926.67" x2="917.5" y2="926.67" stroke="#000" stroke-width="0.8"/>
<line x1="288.0" y1="909.33" x2="282.5" y2="909.33" stroke="#000" stroke-width="0.8"/>
<line x1="912.0" y1="909.33" x2="917.5" y2="909.33" stroke="#000" stroke-width="0.8"/>
<line x1="288.0" y1="892.00" x2="277.0" y2="892.00" stroke="#000" stroke-width="1.0"/>
<line x1="912.0" y1="892.00" x2="923.0" y2="892.00" stroke="#000" stroke-width="1.0"/>
<line x1="288.0" y1="874.67" x2="282.5" y2="874.67" stroke="#000" stroke-width="0.8"/>
<line x1="912.0" y1="874.67" x2="917.5" y2="874.67" stroke="#000" stroke-width="0.8"/>
<line x1="288.0" y1="857.33" x2="282.5" y2="857.33" stroke="#000" stroke-width="0.8"/>
<line x1="912.0" y1="857.33" x2="917.5" y2="857.33" stroke="#000" stroke-width="0.8"/>
<line x1="288.0" y1="840.00" x2="277.0" y2="840.00" stroke="#000" stroke-width="1.0"/>
<line x1="912.0" y1="840.00" x2="923.0" y2="840.00" stroke="#000" stroke-width="1.0"/>
<rect x="288.0" y="840.0" width="624.0" height="312" fill="none" stroke="#000" stroke-width="1.1"/>
<text x="291.60" y="1182.00" font-size="13.4" text-anchor="middle" font-weight="normal" >0</text>
<text x="343.60" y="1182.00" font-size="13.4" text-anchor="middle" font-weight="normal" >30E</text>
<text x="395.60" y="1182.00" font-size="13.4" text-anchor="middle" font-weight="normal" >60E</text>
<text x="447.60" y="1182.00" font-size="13.4" text-anchor="middle" font-weight="normal" >90E</text>
<text x="499.60" y="1182.00" font-size="13.4" text-anchor="middle" font-weight="normal" >120E</text>
<text x="551.60" y="1182.00" font-size="13.4" text-anchor="middle" font-weight="normal" >150E</text>
<text x="603.60" y="1182.00" font-size="13.4" text-anchor="middle" font-weight="normal" >180</text>
<text x="655.60" y="1182.00" font-size="13.4" text-anchor="middle" font-weight="normal" >150W</text>
<text x="707.60" y="1182.00" font-size="13.4" text-anchor="middle" font-weight="normal" >120W</text>
<text x="759.60" y="1182.00" font-size="13.4" text-anchor="middle" font-weight="normal" >90W</text>
<text x="811.60" y="1182.00" font-size="13.4" text-anchor="middle" font-weight="normal" >60W</text>
<text x="863.60" y="1182.00" font-size="13.4" text-anchor="middle" font-weight="normal" >30W</text>
<text x="268.50" y="1156.80" font-size="13.4" text-anchor="end" font-weight="normal" >90S</text>
<text x="268.50" y="1104.80" font-size="13.4" text-anchor="end" font-weight="normal" >60S</text>
<text x="268.50" y="1052.80" font-size="13.4" text-anchor="end" font-weight="normal" >30S</text>
<text x="268.50" y="1000.80" font-size="13.4" text-anchor="end" font-weight="normal" >0</text>
<text x="268.50" y="948.80" font-size="13.4" text-anchor="end" font-weight="normal" >30N</text>
<text x="268.50" y="896.80" font-size="13.4" text-anchor="end" font-weight="normal" >60N</text>
<text x="268.50" y="844.80" font-size="13.4" text-anchor="end" font-weight="normal" >90N</text>
<rect x="952.6" y="108.00" width="37.20" height="11.17" fill="#700000"/>
<rect x="952.6" y="119.17" width="37.20" height="11.17" fill="#c00000"/>
<rect x="952.6" y="130.34" width="37.20" height="11.17" fill="#ff2000"/>
<rect x="952.6" y="141.51" width="37.20" height="11.17" fill="#ff4000"/>
<rect x="952.6" y="152.68" width="37.20" height="11.17" fill="#ff6000"/>
<rect x="952.6" y="163.85" width="37.20" height="11.17" fill="#ff8000"/>
<rect x="952.6" y="175.02" width="37.20" height="11.17" fill="#ffa000"/>
<rect x="952.6" y="186.19" width="37.20" height="11.17" fill="#ffc000"/>
<rect x="952.6" y="197.36" width="37.20" height="11.17" fill="#ffe000"/>
<rect x="952.6" y="208.53" width="37.20" height="11.17" fill="#ffff00"/>
<rect x="952.6" y="219.70" width="37.20" height="11.17" fill="#ffffff"/>
<rect x="952.6" y="230.88" width="37.20" height="11.17" fill="#ffffff"/>
<rect x="952.6" y="242.05" width="37.20" height="11.17" fill="#d0ffff"/>
<rect x="952.6" y="253.22" width="37.20" height="11.17" fill="#a0ffff"/>
<rect x="952.6" y="264.39" width="37.20" height="11.17" fill="#70ffff"/>
<rect x="952.6" y="275.56" width="37.20" height="11.17" fill="#38ffff"/>
<rect x="952.6" y="286.73" width="37.20" height="11.17" fill="#00ffff"/>
<rect x="952.6" y="297.90" width="37.20" height="11.17" fill="#00e0ff"/>
<rect x="952.6" y="309.07" width="37.20" height="11.17" fill="#00c0e0"/>
<rect x="952.6" y="320.24" width="37.20" height="11.17" fill="#00a0c0"/>
<rect x="952.6" y="331.41" width="37.20" height="11.17" fill="#0080a0"/>
<rect x="952.6" y="342.58" width="37.20" height="11.17" fill="#006080"/>
<line x1="952.6" y1="119.17" x2="989.8" y2="119.17" stroke="#000" stroke-width="1"/>
<line x1="952.6" y1="130.34" x2="989.8" y2="130.34" stroke="#000" stroke-width="1"/>
<line x1="952.6" y1="141.51" x2="989.8" y2="141.51" stroke="#000" stroke-width="1"/>
<line x1="952.6" y1="152.68" x2="989.8" y2="152.68" stroke="#000" stroke-width="1"/>
<line x1="952.6" y1="163.85" x2="989.8" y2="163.85" stroke="#000" stroke-width="1"/>
<line x1="952.6" y1="175.02" x2="989.8" y2="175.02" stroke="#000" stroke-width="1"/>
<line x1="952.6" y1="186.19" x2="989.8" y2="186.19" stroke="#000" stroke-width="1"/>
<line x1="952.6" y1="197.36" x2="989.8" y2="197.36" stroke="#000" stroke-width="1"/>
<line x1="952.6" y1="208.53" x2="989.8" y2="208.53" stroke="#000" stroke-width="1"/>
<line x1="952.6" y1="219.70" x2="989.8" y2="219.70" stroke="#000" stroke-width="1"/>
<line x1="952.6" y1="230.88" x2="989.8" y2="230.88" stroke="#888" stroke-width="1"/>
<line x1="952.6" y1="242.05" x2="989.8" y2="242.05" stroke="#000" stroke-width="1"/>
<line x1="952.6" y1="253.22" x2="989.8" y2="253.22" stroke="#000" stroke-width="1"/>
<line x1="952.6" y1="264.39" x2="989.8" y2="264.39" stroke="#000" stroke-width="1"/>
<line x1="952.6" y1="275.56" x2="989.8" y2="275.56" stroke="#000" stroke-width="1"/>
<line x1="952.6" y1="286.73" x2="989.8" y2="286.73" stroke="#000" stroke-width="1"/>
<line x1="952.6" y1="297.90" x2="989.8" y2="297.90" stroke="#000" stroke-width="1"/>
<line x1="952.6" y1="309.07" x2="989.8" y2="309.07" stroke="#000" stroke-width="1"/>
<line x1="952.6" y1="320.24" x2="989.8" y2="320.24" stroke="#000" stroke-width="1"/>
<line x1="952.6" y1="331.41" x2="989.8" y2="331.41" stroke="#000" stroke-width="1"/>
<line x1="952.6" y1="342.58" x2="989.8" y2="342.58" stroke="#000" stroke-width="1"/>
<rect x="952.6" y="108.0" width="37.20" height="245.75" fill="none" stroke="#000" stroke-width="1"/>
<text x="1017.30" y="126.17" font-size="19.8" text-anchor="middle" font-weight="normal" >1</text>
<text x="1017.30" y="148.51" font-size="19.8" text-anchor="middle" font-weight="normal" >0.8</text>
<text x="1017.30" y="170.85" font-size="19.8" text-anchor="middle" font-weight="normal" >0.6</text>
<text x="1017.30" y="193.19" font-size="19.8" text-anchor="middle" font-weight="normal" >0.4</text>
<text x="1017.30" y="215.53" font-size="19.8" text-anchor="middle" font-weight="normal" >0.2</text>
<text x="1017.30" y="237.88" font-size="19.8" text-anchor="middle" font-weight="normal" >0</text>
<text x="1017.30" y="260.22" font-size="19.8" text-anchor="middle" font-weight="normal" >-0.2</text>
<text x="1017.30" y="282.56" font-size="19.8" text-anchor="middle" font-weight="normal" >-0.4</text>
<text x="1017.30" y="304.90" font-size="19.8" text-anchor="middle" font-weight="normal" >-0.6</text>
<text x="1017.30" y="327.24" font-size="19.8" text-anchor="middle" font-weight="normal" >-0.8</text>
<text x="1017.30" y="349.58" font-size="19.8" text-anchor="middle" font-weight="normal" >-1</text>
<rect x="952.6" y="504.00" width="37.20" height="11.17" fill="#700000"/>
<rect x="952.6" y="515.17" width="37.20" height="11.17" fill="#c00000"/>
<rect x="952.6" y="526.34" width="37.20" height="11.17" fill="#ff2000"/>
<rect x="952.6" y="537.51" width="37.20" height="11.17" fill="#ff4000"/>
<rect x="952.6" y="548.68" width="37.20" height="11.17" fill="#ff6000"/>
<rect x="952.6" y="559.85" width="37.20" height="11.17" fill="#ff8000"/>
<rect x="952.6" y="571.02" width="37.20" height="11.17" fill="#ffa000"/>
<rect x="952.6" y="582.19" width="37.20" height="11.17" fill="#ffc000"/>
<rect x="952.6" y="593.36" width="37.20" height="11.17" fill="#ffe000"/>
<rect x="952.6" y="604.53" width="37.20" height="11.17" fill="#ffff00"/>
<rect x="952.6" y="615.70" width="37.20" height="11.17" fill="#ffffff"/>
<rect x="952.6" y="626.88" width="37.20" height="11.17" fill="#ffffff"/>
<rect x="952.6" y="638.05" width="37.20" height="11.17" fill="#d0ffff"/>
<rect x="952.6" y="649.22" width="37.20" height="11.17" fill="#a0ffff"/>
<rect x="952.6" y="660.39" width="37.20" height="11.17" fill="#70ffff"/>
<rect x="952.6" y="671.56" width="37.20" height="11.17" fill="#38ffff"/>
<rect x="952.6" y="682.73" width="37.20" height="11.17" fill="#00ffff"/>
<rect x="952.6" y="693.90" width="37.20" height="11.17" fill="#00e0ff"/>
<rect x="952.6" y="705.07" width="37.20" height="11.17" fill="#00c0e0"/>
<rect x="952.6" y="716.24" width="37.20" height="11.17" fill="#00a0c0"/>
<rect x="952.6" y="727.41" width="37.20" height="11.17" fill="#0080a0"/>
<rect x="952.6" y="738.58" width="37.20" height="11.17" fill="#006080"/>
<line x1="952.6" y1="515.17" x2="989.8" y2="515.17" stroke="#000" stroke-width="1"/>
<line x1="952.6" y1="526.34" x2="989.8" y2="526.34" stroke="#000" stroke-width="1"/>
<line x1="952.6" y1="537.51" x2="989.8" y2="537.51" stroke="#000" stroke-width="1"/>
<line x1="952.6" y1="548.68" x2="989.8" y2="548.68" stroke="#000" stroke-width="1"/>
<line x1="952.6" y1="559.85" x2="989.8" y2="559.85" stroke="#000" stroke-width="1"/>
<line x1="952.6" y1="571.02" x2="989.8" y2="571.02" stroke="#000" stroke-width="1"/>
<line x1="952.6" y1="582.19" x2="989.8" y2="582.19" stroke="#000" stroke-width="1"/>
<line x1="952.6" y1="593.36" x2="989.8" y2="593.36" stroke="#000" stroke-width="1"/>
<line x1="952.6" y1="604.53" x2="989.8" y2="604.53" stroke="#000" stroke-width="1"/>
<line x1="952.6" y1="615.70" x2="989.8" y2="615.70" stroke="#000" stroke-width="1"/>
<line x1="952.6" y1="626.88" x2="989.8" y2="626.88" stroke="#888" stroke-width="1"/>
<line x1="952.6" y1="638.05" x2="989.8" y2="638.05" stroke="#000" stroke-width="1"/>
<line x1="952.6" y1="649.22" x2="989.8" y2="649.22" stroke="#000" stroke-width="1"/>
<line x1="952.6" y1="660.39" x2="989.8" y2="660.39" stroke="#000" stroke-width="1"/>
<line x1="952.6" y1="671.56" x2="989.8" y2="671.56" stroke="#000" stroke-width="1"/>
<line x1="952.6" y1="682.73" x2="989.8" y2="682.73" stroke="#000" stroke-width="1"/>
<line x1="952.6" y1="693.90" x2="989.8" y2="693.90" stroke="#000" stroke-width="1"/>
<line x1="952.6" y1="705.07" x2="989.8" y2="705.07" stroke="#000" stroke-width="1"/>
<line x1="952.6" y1="716.24" x2="989.8" y2="716.24" stroke="#000" stroke-width="1"/>
<line x1="952.6" y1="727.41" x2="989.8" y2="727.41" stroke="#000" stroke-width="1"/>
<line x1="952.6" y1="738.58" x2="989.8" y2="738.58" stroke="#000" stroke-width="1"/>
<rect x="952.6" y="504.0" width="37.20" height="245.75" fill="none" stroke="#000" stroke-width="1"/>
<text x="1017.30" y="522.17" font-size="19.8" text-anchor="middle" font-weight="normal" >1</text>
<text x="1017.30" y="544.51" font-size="19.8" text-anchor="middle" font-weight="normal" >0.8</text>
<text x="1017.30" y="566.85" font-size="19.8" text-anchor="middle" font-weight="normal" >0.6</text>
<text x="1017.30" y="589.19" font-size="19.8" text-anchor="middle" font-weight="normal" >0.4</text>
<text x="1017.30" y="611.53" font-size="19.8" text-anchor="middle" font-weight="normal" >0.2</text>
<text x="1017.30" y="633.88" font-size="19.8" text-anchor="middle" font-weight="normal" >0</text>
<text x="1017.30" y="656.22" font-size="19.8" text-anchor="middle" font-weight="normal" >-0.2</text>
<text x="1017.30" y="678.56" font-size="19.8" text-anchor="middle" font-weight="normal" >-0.4</text>
<text x="1017.30" y="700.90" font-size="19.8" text-anchor="middle" font-weight="normal" >-0.6</text>
<text x="1017.30" y="723.24" font-size="19.8" text-anchor="middle" font-weight="normal" >-0.8</text>
<text x="1017.30" y="745.58" font-size="19.8" text-anchor="middle" font-weight="normal" >-1</text>
<rect x="952.6" y="900.40" width="37.20" height="17.49" fill="#ff69b4"/>
<rect x="952.6" y="917.89" width="37.20" height="17.49" fill="#a52a2a"/>
<rect x="952.6" y="935.39" width="37.20" height="17.49" fill="#ff0000"/>
<rect x="952.6" y="952.88" width="37.20" height="17.49" fill="#ff6a00"/>
<rect x="952.6" y="970.37" width="37.20" height="17.49" fill="#ffa500"/>
<rect x="952.6" y="987.86" width="37.20" height="17.49" fill="#fffacd"/>
<rect x="952.6" y="1005.36" width="37.20" height="17.49" fill="#ffffff"/>
<rect x="952.6" y="1022.85" width="37.20" height="17.49" fill="#ffffff"/>
<rect x="952.6" y="1040.34" width="37.20" height="17.49" fill="#d0f0fa"/>
<rect x="952.6" y="1057.84" width="37.20" height="17.49" fill="#00bfff"/>
<rect x="952.6" y="1075.33" width="37.20" height="17.49" fill="#1e90ff"/>
<rect x="952.6" y="1092.82" width="37.20" height="17.49" fill="#4169e1"/>
<rect x="952.6" y="1110.31" width="37.20" height="17.49" fill="#00008b"/>
<rect x="952.6" y="1127.81" width="37.20" height="17.49" fill="#8a2be2"/>
<line x1="952.6" y1="917.89" x2="989.8" y2="917.89" stroke="#000" stroke-width="1"/>
<line x1="952.6" y1="935.39" x2="989.8" y2="935.39" stroke="#000" stroke-width="1"/>
<line x1="952.6" y1="952.88" x2="989.8" y2="952.88" stroke="#000" stroke-width="1"/>
<line x1="952.6" y1="970.37" x2="989.8" y2="970.37" stroke="#000" stroke-width="1"/>
<line x1="952.6" y1="987.86" x2="989.8" y2="987.86" stroke="#000" stroke-width="1"/>
<line x1="952.6" y1="1005.36" x2="989.8" y2="1005.36" stroke="#000" stroke-width="1"/>
<line x1="952.6" y1="1022.85" x2="989.8" y2="1022.85" stroke="#888" stroke-width="1"/>
<line x1="952.6" y1="1040.34" x2="989.8" y2="1040.34" stroke="#000" stroke-width="1"/>
<line x1="952.6" y1="1057.84" x2="989.8" y2="1057.84" stroke="#000" stroke-width="1"/>
<line x1="952.6" y1="1075.33" x2="989.8" y2="1075.33" stroke="#000" stroke-width="1"/>
<line x1="952.6" y1="1092.82" x2="989.8" y2="1092.82" stroke="#000" stroke-width="1"/>
<line x1="952.6" y1="1110.31" x2="989.8" y2="1110.31" stroke="#000" stroke-width="1"/>
<line x1="952.6" y1="1127.81" x2="989.8" y2="1127.81" stroke="#000" stroke-width="1"/>
<rect x="952.6" y="900.4" width="37.20" height="244.90" fill="none" stroke="#000" stroke-width="1"/>
<text x="1017.30" y="924.89" font-size="19.8" text-anchor="middle" font-weight="normal" >0.3</text>
<text x="1017.30" y="959.88" font-size="19.8" text-anchor="middle" font-weight="normal" >0.2</text>
<text x="1017.30" y="994.86" font-size="19.8" text-anchor="middle" font-weight="normal" >0.1</text>
<text x="1017.30" y="1029.85" font-size="19.8" text-anchor="middle" font-weight="normal" >0</text>
<text x="1017.30" y="1064.84" font-size="19.8" text-anchor="middle" font-weight="normal" >-0.1</text>
<text x="1017.30" y="1099.82" font-size="19.8" text-anchor="middle" font-weight="normal" >-0.2</text>
<text x="1017.30" y="1134.81" font-size="19.8" text-anchor="middle" font-weight="normal" >-0.3</text>
<text x="950.00" y="85.50" font-size="19.8" text-anchor="start" font-weight="normal" >m2/s x10</text>
<text x="1029.50" y="76.00" font-size="12.5" text-anchor="start" font-weight="normal" >7</text>
<text x="950.00" y="481.50" font-size="19.8" text-anchor="start" font-weight="normal" >m2/s x10</text>
<text x="1029.50" y="472.00" font-size="12.5" text-anchor="start" font-weight="normal" >7</text>
<text x="950.00" y="877.50" font-size="19.8" text-anchor="start" font-weight="normal" >m2/s x10</text>
<text x="1029.50" y="868.00" font-size="12.5" text-anchor="start" font-weight="normal" >7</text>
<text x="1104.00" y="1122.80" font-size="19.8" text-anchor="middle" font-weight="normal" >Max=0.02</text>
<text x="1104.00" y="1146.80" font-size="19.8" text-anchor="middle" font-weight="normal" >Min=-0.01</text>
<line x1="212.57" y1="444.0" x2="212.57" y2="438.5" stroke="#000" stroke-width="0.6"/>
<line x1="212.57" y1="756.0" x2="212.57" y2="761.5" stroke="#000" stroke-width="0.6"/>
<line x1="205.71" y1="444.0" x2="205.71" y2="438.5" stroke="#000" stroke-width="0.6"/>
<line x1="205.71" y1="756.0" x2="205.71" y2="761.5" stroke="#000" stroke-width="0.6"/>
<line x1="198.86" y1="444.0" x2="198.86" y2="438.5" stroke="#000" stroke-width="0.6"/>
<line x1="198.86" y1="756.0" x2="198.86" y2="761.5" stroke="#000" stroke-width="0.6"/>
<line x1="192.00" y1="444.0" x2="192.00" y2="438.5" stroke="#000" stroke-width="0.6"/>
<line x1="192.00" y1="756.0" x2="192.00" y2="761.5" stroke="#000" stroke-width="0.6"/>
<line x1="185.14" y1="444.0" x2="185.14" y2="438.5" stroke="#000" stroke-width="0.6"/>
<line x1="185.14" y1="756.0" x2="185.14" y2="761.5" stroke="#000" stroke-width="0.6"/>
<line x1="178.29" y1="444.0" x2="178.29" y2="438.5" stroke="#000" stroke-width="0.6"/>
<line x1="178.29" y1="756.0" x2="178.29" y2="761.5" stroke="#000" stroke-width="0.6"/>
<line x1="171.43" y1="444.0" x2="171.43" y2="438.5" stroke="#000" stroke-width="0.6"/>
<line x1="171.43" y1="756.0" x2="171.43" y2="761.5" stroke="#000" stroke-width="0.6"/>
<line x1="164.57" y1="444.0" x2="164.57" y2="438.5" stroke="#000" stroke-width="0.6"/>
<line x1="164.57" y1="756.0" x2="164.57" y2="761.5" stroke="#000" stroke-width="0.6"/>
<line x1="157.71" y1="444.0" x2="157.71" y2="438.5" stroke="#000" stroke-width="0.6"/>
<line x1="157.71" y1="756.0" x2="157.71" y2="761.5" stroke="#000" stroke-width="0.6"/>
<line x1="150.86" y1="444.0" x2="150.86" y2="438.5" stroke="#000" stroke-width="0.6"/>
<line x1="150.86" y1="756.0" x2="150.86" y2="761.5" stroke="#000" stroke-width="0.6"/>
<line x1="144.00" y1="444.0" x2="144.00" y2="438.5" stroke="#000" stroke-width="0.6"/>
<line x1="144.00" y1="756.0" x2="144.00" y2="761.5" stroke="#000" stroke-width="0.6"/>
<line x1="137.14" y1="444.0" x2="137.14" y2="438.5" stroke="#000" stroke-width="0.6"/>
<line x1="137.14" y1="756.0" x2="137.14" y2="761.5" stroke="#000" stroke-width="0.6"/>
<line x1="130.29" y1="444.0" x2="130.29" y2="438.5" stroke="#000" stroke-width="0.6"/>
<line x1="130.29" y1="756.0" x2="130.29" y2="761.5" stroke="#000" stroke-width="0.6"/>
<line x1="123.43" y1="444.0" x2="123.43" y2="438.5" stroke="#000" stroke-width="0.6"/>
<line x1="123.43" y1="756.0" x2="123.43" y2="761.5" stroke="#000" stroke-width="0.6"/>
<line x1="116.57" y1="444.0" x2="116.57" y2="438.5" stroke="#000" stroke-width="0.6"/>
<line x1="116.57" y1="756.0" x2="116.57" y2="761.5" stroke="#000" stroke-width="0.6"/>
<line x1="109.71" y1="444.0" x2="109.71" y2="438.5" stroke="#000" stroke-width="0.6"/>
<line x1="109.71" y1="756.0" x2="109.71" y2="761.5" stroke="#000" stroke-width="0.6"/>
<line x1="102.86" y1="444.0" x2="102.86" y2="438.5" stroke="#000" stroke-width="0.6"/>
<line x1="102.86" y1="756.0" x2="102.86" y2="761.5" stroke="#000" stroke-width="0.6"/>
<line x1="96.00" y1="444.0" x2="96.00" y2="438.5" stroke="#000" stroke-width="0.6"/>
<line x1="96.00" y1="756.0" x2="96.00" y2="761.5" stroke="#000" stroke-width="0.6"/>
<line x1="96.00" y1="444.0" x2="96.00" y2="436.0" stroke="#000" stroke-width="1"/>
<line x1="96.00" y1="756.0" x2="96.00" y2="764.0" stroke="#000" stroke-width="1"/>
<line x1="130.29" y1="444.0" x2="130.29" y2="436.0" stroke="#000" stroke-width="1"/>
<line x1="130.29" y1="756.0" x2="130.29" y2="764.0" stroke="#000" stroke-width="1"/>
<line x1="164.57" y1="444.0" x2="164.57" y2="436.0" stroke="#000" stroke-width="1"/>
<line x1="164.57" y1="756.0" x2="164.57" y2="764.0" stroke="#000" stroke-width="1"/>
<line x1="198.86" y1="444.0" x2="198.86" y2="436.0" stroke="#000" stroke-width="1"/>
<line x1="198.86" y1="756.0" x2="198.86" y2="764.0" stroke="#000" stroke-width="1"/>
<line x1="96.0" y1="756.00" x2="88.0" y2="756.00" stroke="#000" stroke-width="1.0"/>
<line x1="216.0" y1="756.00" x2="224.0" y2="756.00" stroke="#000" stroke-width="1.0"/>
<line x1="96.0" y1="738.67" x2="92.0" y2="738.67" stroke="#000" stroke-width="0.8"/>
<line x1="216.0" y1="738.67" x2="220.0" y2="738.67" stroke="#000" stroke-width="0.8"/>
<line x1="96.0" y1="721.33" x2="92.0" y2="721.33" stroke="#000" stroke-width="0.8"/>
<line x1="216.0" y1="721.33" x2="220.0" y2="721.33" stroke="#000" stroke-width="0.8"/>
<line x1="96.0" y1="704.00" x2="88.0" y2="704.00" stroke="#000" stroke-width="1.0"/>
<line x1="216.0" y1="704.00" x2="224.0" y2="704.00" stroke="#000" stroke-width="1.0"/>
<line x1="96.0" y1="686.67" x2="92.0" y2="686.67" stroke="#000" stroke-width="0.8"/>
<line x1="216.0" y1="686.67" x2="220.0" y2="686.67" stroke="#000" stroke-width="0.8"/>
<line x1="96.0" y1="669.33" x2="92.0" y2="669.33" stroke="#000" stroke-width="0.8"/>
<line x1="216.0" y1="669.33" x2="220.0" y2="669.33" stroke="#000" stroke-width="0.8"/>
<line x1="96.0" y1="652.00" x2="88.0" y2="652.00" stroke="#000" stroke-width="1.0"/>
<line x1="216.0" y1="652.00" x2="224.0" y2="652.00" stroke="#000" stroke-width="1.0"/>
<line x1="96.0" y1="634.67" x2="92.0" y2="634.67" stroke="#000" stroke-width="0.8"/>
<line x1="216.0" y1="634.67" x2="220.0" y2="634.67" stroke="#000" stroke-width="0.8"/>
<line x1="96.0" y1="617.33" x2="92.0" y2="617.33" stroke="#000" stroke-width="0.8"/>
<line x1="216.0" y1="617.33" x2="220.0" y2="617.33" stroke="#000" stroke-width="0.8"/>
<line x1="96.0" y1="600.00" x2="88.0" y2="600.00" stroke="#000" stroke-width="1.0"/>
<line x1="216.0" y1="600.00" x2="224.0" y2="600.00" stroke="#000" stroke-width="1.0"/>
<line x1="96.0" y1="582.67" x2="92.0" y2="582.67" stroke="#000" stroke-width="0.8"/>
<line x1="216.0" y1="582.67" x2="220.0" y2="582.67" stroke="#000" stroke-width="0.8"/>
<line x1="96.0" y1="565.33" x2="92.0" y2="565.33" stroke="#000" stroke-width="0.8"/>
<line x1="216.0" y1="565.33" x2="220.0" y2="565.33" stroke="#000" stroke-width="0.8"/>
<line x1="96.0" y1="548.00" x2="88.0" y2="548.00" stroke="#000" stroke-width="1.0"/>
<line x1="216.0" y1="548.00" x2="224.0" y2="548.00" stroke="#000" stroke-width="1.0"/>
<line x1="96.0" y1="530.67" x2="92.0" y2="530.67" stroke="#000" stroke-width="0.8"/>
<line x1="216.0" y1="530.67" x2="220.0" y2="530.67" stroke="#000" stroke-width="0.8"/>
<line x1="96.0" y1="513.33" x2="92.0" y2="513.33" stroke="#000" stroke-width="0.8"/>
<line x1="216.0" y1="513.33" x2="220.0" y2="513.33" stroke="#000" stroke-width="0.8"/>
<line x1="96.0" y1="496.00" x2="88.0" y2="496.00" stroke="#000" stroke-width="1.0"/>
<line x1="216.0" y1="496.00" x2="224.0" y2="496.00" stroke="#000" stroke-width="1.0"/>
<line x1="96.0" y1="478.67" x2="92.0" y2="478.67" stroke="#000" stroke-width="0.8"/>
<line x1="216.0" y1="478.67" x2="220.0" y2="478.67" stroke="#000" stroke-width="0.8"/>
<line x1="96.0" y1="461.33" x2="92.0" y2="461.33" stroke="#000" stroke-width="0.8"/>
<line x1="216.0" y1="461.33" x2="220.0" y2="461.33" stroke="#000" stroke-width="0.8"/>
<line x1="96.0" y1="444.00" x2="88.0" y2="444.00" stroke="#000" stroke-width="1.0"/>
<line x1="216.0" y1="444.00" x2="224.0" y2="444.00" stroke="#000" stroke-width="1.0"/>
<rect x="96.0" y="444.0" width="120.0" height="312" fill="none" stroke="#000" stroke-width="1.1"/>
<text x="96.00" y="783.00" font-size="13.4" text-anchor="middle" font-weight="normal" >0.10</text>
<text x="130.29" y="783.00" font-size="13.4" text-anchor="middle" font-weight="normal" >0.00</text>
<text x="164.57" y="783.00" font-size="13.4" text-anchor="middle" font-weight="normal" >-0.10</text>
<text x="198.86" y="783.00" font-size="13.4" text-anchor="middle" font-weight="normal" >-0.20</text>
<text x="79.50" y="760.80" font-size="13.4" text-anchor="end" font-weight="normal" >90S</text>
<text x="79.50" y="708.80" font-size="13.4" text-anchor="end" font-weight="normal" >60S</text>
<text x="79.50" y="656.80" font-size="13.4" text-anchor="end" font-weight="normal" >30S</text>
<text x="79.50" y="604.80" font-size="13.4" text-anchor="end" font-weight="normal" >0</text>
<text x="79.50" y="552.80" font-size="13.4" text-anchor="end" font-weight="normal" >30N</text>
<text x="79.50" y="500.80" font-size="13.4" text-anchor="end" font-weight="normal" >60N</text>
<text x="79.50" y="448.80" font-size="13.4" text-anchor="end" font-weight="normal" >90N</text>
<text x="156.00" y="435.50" font-size="16.7" text-anchor="middle" font-weight="normal" >Zonal mean</text>
<line x1="216.00" y1="840.0" x2="216.00" y2="834.5" stroke="#000" stroke-width="0.6"/>
<line x1="216.00" y1="1152.0" x2="216.00" y2="1157.5" stroke="#000" stroke-width="0.6"/>
<line x1="211.20" y1="840.0" x2="211.20" y2="834.5" stroke="#000" stroke-width="0.6"/>
<line x1="211.20" y1="1152.0" x2="211.20" y2="1157.5" stroke="#000" stroke-width="0.6"/>
<line x1="206.40" y1="840.0" x2="206.40" y2="834.5" stroke="#000" stroke-width="0.6"/>
<line x1="206.40" y1="1152.0" x2="206.40" y2="1157.5" stroke="#000" stroke-width="0.6"/>
<line x1="201.60" y1="840.0" x2="201.60" y2="834.5" stroke="#000" stroke-width="0.6"/>
<line x1="201.60" y1="1152.0" x2="201.60" y2="1157.5" stroke="#000" stroke-width="0.6"/>
<line x1="196.80" y1="840.0" x2="196.80" y2="834.5" stroke="#000" stroke-width="0.6"/>
<line x1="196.80" y1="1152.0" x2="196.80" y2="1157.5" stroke="#000" stroke-width="0.6"/>
<line x1="192.00" y1="840.0" x2="192.00" y2="834.5" stroke="#000" stroke-width="0.6"/>
<line x1="192.00" y1="1152.0" x2="192.00" y2="1157.5" stroke="#000" stroke-width="0.6"/>
<line x1="187.20" y1="840.0" x2="187.20" y2="834.5" stroke="#000" stroke-width="0.6"/>
<line x1="187.20" y1="1152.0" x2="187.20" y2="1157.5" stroke="#000" stroke-width="0.6"/>
<line x1="182.40" y1="840.0" x2="182.40" y2="834.5" stroke="#000" stroke-width="0.6"/>
<line x1="182.40" y1="1152.0" x2="182.40" y2="1157.5" stroke="#000" stroke-width="0.6"/>
<line x1="177.60" y1="840.0" x2="177.60" y2="834.5" stroke="#000" stroke-width="0.6"/>
<line x1="177.60" y1="1152.0" x2="177.60" y2="1157.5" stroke="#000" stroke-width="0.6"/>
<line x1="172.80" y1="840.0" x2="172.80" y2="834.5" stroke="#000" stroke-width="0.6"/>
<line x1="172.80" y1="1152.0" x2="172.80" y2="1157.5" stroke="#000" stroke-width="0.6"/>
<line x1="168.00" y1="840.0" x2="168.00" y2="834.5" stroke="#000" stroke-width="0.6"/>
<line x1="168.00" y1="1152.0" x2="168.00" y2="1157.5" stroke="#000" stroke-width="0.6"/>
<line x1="163.20" y1="840.0" x2="163.20" y2="834.5" stroke="#000" stroke-width="0.6"/>
<line x1="163.20" y1="1152.0" x2="163.20" y2="1157.5" stroke="#000" stroke-width="0.6"/>
<line x1="158.40" y1="840.0" x2="158.40" y2="834.5" stroke="#000" stroke-width="0.6"/>
<line x1="158.40" y1="1152.0" x2="158.40" y2="1157.5" stroke="#000" stroke-width="0.6"/>
<line x1="153.60" y1="840.0" x2="153.60" y2="834.5" stroke="#000" stroke-width="0.6"/>
<line x1="153.60" y1="1152.0" x2="153.60" y2="1157.5" stroke="#000" stroke-width="0.6"/>
<line x1="148.80" y1="840.0" x2="148.80" y2="834.5" stroke="#000" stroke-width="0.6"/>
<line x1="148.80" y1="1152.0" x2="148.80" y2="1157.5" stroke="#000" stroke-width="0.6"/>
<line x1="144.00" y1="840.0" x2="144.00" y2="834.5" stroke="#000" stroke-width="0.6"/>
<line x1="144.00" y1="1152.0" x2="144.00" y2="1157.5" stroke="#000" stroke-width="0.6"/>
<line x1="139.20" y1="840.0" x2="139.20" y2="834.5" stroke="#000" stroke-width="0.6"/>
<line x1="139.20" y1="1152.0" x2="139.20" y2="1157.5" stroke="#000" stroke-width="0.6"/>
<line x1="134.40" y1="840.0" x2="134.40" y2="834.5" stroke="#000" stroke-width="0.6"/>
<line x1="134.40" y1="1152.0" x2="134.40" y2="1157.5" stroke="#000" stroke-width="0.6"/>
<line x1="129.60" y1="840.0" x2="129.60" y2="834.5" stroke="#000" stroke-width="0.6"/>
<line x1="129.60" y1="1152.0" x2="129.60" y2="1157.5" stroke="#000" stroke-width="0.6"/>
<line x1="124.80" y1="840.0" x2="124.80" y2="834.5" stroke="#000" stroke-width="0.6"/>
<line x1="124.80" y1="1152.0" x2="124.80" y2="1157.5" stroke="#000" stroke-width="0.6"/>
<line x1="120.00" y1="840.0" x2="120.00" y2="834.5" stroke="#000" stroke-width="0.6"/>
<line x1="120.00" y1="1152.0" x2="120.00" y2="1157.5" stroke="#000" stroke-width="0.6"/>
<line x1="115.20" y1="840.0" x2="115.20" y2="834.5" stroke="#000" stroke-width="0.6"/>
<line x1="115.20" y1="1152.0" x2="115.20" y2="1157.5" stroke="#000" stroke-width="0.6"/>
<line x1="110.40" y1="840.0" x2="110.40" y2="834.5" stroke="#000" stroke-width="0.6"/>
<line x1="110.40" y1="1152.0" x2="110.40" y2="1157.5" stroke="#000" stroke-width="0.6"/>
<line x1="105.60" y1="840.0" x2="105.60" y2="834.5" stroke="#000" stroke-width="0.6"/>
<line x1="105.60" y1="1152.0" x2="105.60" y2="1157.5" stroke="#000" stroke-width="0.6"/>
<line x1="100.80" y1="840.0" x2="100.80" y2="834.5" stroke="#000" stroke-width="0.6"/>
<line x1="100.80" y1="1152.0" x2="100.80" y2="1157.5" stroke="#000" stroke-width="0.6"/>
<line x1="96.00" y1="840.0" x2="96.00" y2="834.5" stroke="#000" stroke-width="0.6"/>
<line x1="96.00" y1="1152.0" x2="96.00" y2="1157.5" stroke="#000" stroke-width="0.6"/>
<line x1="96.00" y1="840.0" x2="96.00" y2="832.0" stroke="#000" stroke-width="1"/>
<line x1="96.00" y1="1152.0" x2="96.00" y2="1160.0" stroke="#000" stroke-width="1"/>
<line x1="120.00" y1="840.0" x2="120.00" y2="832.0" stroke="#000" stroke-width="1"/>
<line x1="120.00" y1="1152.0" x2="120.00" y2="1160.0" stroke="#000" stroke-width="1"/>
<line x1="144.00" y1="840.0" x2="144.00" y2="832.0" stroke="#000" stroke-width="1"/>
<line x1="144.00" y1="1152.0" x2="144.00" y2="1160.0" stroke="#000" stroke-width="1"/>
<line x1="168.00" y1="840.0" x2="168.00" y2="832.0" stroke="#000" stroke-width="1"/>
<line x1="168.00" y1="1152.0" x2="168.00" y2="1160.0" stroke="#000" stroke-width="1"/>
<line x1="192.00" y1="840.0" x2="192.00" y2="832.0" stroke="#000" stroke-width="1"/>
<line x1="192.00" y1="1152.0" x2="192.00" y2="1160.0" stroke="#000" stroke-width="1"/>
<line x1="216.00" y1="840.0" x2="216.00" y2="832.0" stroke="#000" stroke-width="1"/>
<line x1="216.00" y1="1152.0" x2="216.00" y2="1160.0" stroke="#000" stroke-width="1"/>
<line x1="96.0" y1="1152.00" x2="88.0" y2="1152.00" stroke="#000" stroke-width="1.0"/>
<line x1="216.0" y1="1152.00" x2="224.0" y2="1152.00" stroke="#000" stroke-width="1.0"/>
<line x1="96.0" y1="1134.67" x2="92.0" y2="1134.67" stroke="#000" stroke-width="0.8"/>
<line x1="216.0" y1="1134.67" x2="220.0" y2="1134.67" stroke="#000" stroke-width="0.8"/>
<line x1="96.0" y1="1117.33" x2="92.0" y2="1117.33" stroke="#000" stroke-width="0.8"/>
<line x1="216.0" y1="1117.33" x2="220.0" y2="1117.33" stroke="#000" stroke-width="0.8"/>
<line x1="96.0" y1="1100.00" x2="88.0" y2="1100.00" stroke="#000" stroke-width="1.0"/>
<line x1="216.0" y1="1100.00" x2="224.0" y2="1100.00" stroke="#000" stroke-width="1.0"/>
<line x1="96.0" y1="1082.67" x2="92.0" y2="1082.67" stroke="#000" stroke-width="0.8"/>
<line x1="216.0" y1="1082.67" x2="220.0" y2="1082.67" stroke="#000" stroke-width="0.8"/>
<line x1="96.0" y1="1065.33" x2="92.0" y2="1065.33" stroke="#000" stroke-width="0.8"/>
<line x1="216.0" y1="1065.33" x2="220.0" y2="1065.33" stroke="#000" stroke-width="0.8"/>
<line x1="96.0" y1="1048.00" x2="88.0" y2="1048.00" stroke="#000" stroke-width="1.0"/>
<line x1="216.0" y1="1048.00" x2="224.0" y2="1048.00" stroke="#000" stroke-width="1.0"/>
<line x1="96.0" y1="1030.67" x2="92.0" y2="1030.67" stroke="#000" stroke-width="0.8"/>
<line x1="216.0" y1="1030.67" x2="220.0" y2="1030.67" stroke="#000" stroke-width="0.8"/>
<line x1="96.0" y1="1013.33" x2="92.0" y2="1013.33" stroke="#000" stroke-width="0.8"/>
<line x1="216.0" y1="1013.33" x2="220.0" y2="1013.33" stroke="#000" stroke-width="0.8"/>
<line x1="96.0" y1="996.00" x2="88.0" y2="996.00" stroke="#000" stroke-width="1.0"/>
<line x1="216.0" y1="996.00" x2="224.0" y2="996.00" stroke="#000" stroke-width="1.0"/>
<line x1="96.0" y1="978.67" x2="92.0" y2="978.67" stroke="#000" stroke-width="0.8"/>
<line x1="216.0" y1="978.67" x2="220.0" y2="978.67" stroke="#000" stroke-width="0.8"/>
<line x1="96.0" y1="961.33" x2="92.0" y2="961.33" stroke="#000" stroke-width="0.8"/>
<line x1="216.0" y1="961.33" x2="220.0" y2="961.33" stroke="#000" stroke-width="0.8"/>
<line x1="96.0" y1="944.00" x2="88.0" y2="944.00" stroke="#000" stroke-width="1.0"/>
<line x1="216.0" y1="944.00" x2="224.0" y2="944.00" stroke="#000" stroke-width="1.0"/>
<line x1="96.0" y1="926.67" x2="92.0" y2="926.67" stroke="#000" stroke-width="0.8"/>
<line x1="216.0" y1="926.67" x2="220.0" y2="926.67" stroke="#000" stroke-width="0.8"/>
<line x1="96.0" y1="909.33" x2="92.0" y2="909.33" stroke="#000" stroke-width="0.8"/>
<line x1="216.0" y1="909.33" x2="220.0" y2="909.33" stroke="#000" stroke-width="0.8"/>
<line x1="96.0" y1="892.00" x2="88.0" y2="892.00" stroke="#000" stroke-width="1.0"/>
<line x1="216.0" y1="892.00" x2="224.0" y2="892.00" stroke="#000" stroke-width="1.0"/>
<line x1="96.0" y1="874.67" x2="92.0" y2="874.67" stroke="#000" stroke-width="0.8"/>
<line x1="216.0" y1="874.67" x2="220.0" y2="874.67" stroke="#000" stroke-width="0.8"/>
<line x1="96.0" y1="857.33" x2="92.0" y2="857.33" stroke="#000" stroke-width="0.8"/>
<line x1="216.0" y1="857.33" x2="220.0" y2="857.33" stroke="#000" stroke-width="0.8"/>
<line x1="96.0" y1="840.00" x2="88.0" y2="840.00" stroke="#000" stroke-width="1.0"/>
<line x1="216.0" y1="840.00" x2="224.0" y2="840.00" stroke="#000" stroke-width="1.0"/>
<rect x="96.0" y="840.0" width="120.0" height="312" fill="none" stroke="#000" stroke-width="1.1"/>
<text x="96.00" y="1179.00" font-size="13.4" text-anchor="middle" font-weight="normal" >0.0030</text>
<text x="120.00" y="1179.00" font-size="13.4" text-anchor="middle" font-weight="normal" >0.0020</text>
<text x="144.00" y="1179.00" font-size="13.4" text-anchor="middle" font-weight="normal" >0.0010</text>
<text x="168.00" y="1179.00" font-size="13.4" text-anchor="middle" font-weight="normal" >0.0000</text>
<text x="192.00" y="1179.00" font-size="13.4" text-anchor="middle" font-weight="normal" >-0.0010</text>
<text x="216.00" y="1179.00" font-size="13.4" text-anchor="middle" font-weight="normal" >-0.0020</text>
<text x="79.50" y="1156.80" font-size="13.4" text-anchor="end" font-weight="normal" >90S</text>
<text x="79.50" y="1104.80" font-size="13.4" text-anchor="end" font-weight="normal" >60S</text>
<text x="79.50" y="1052.80" font-size="13.4" text-anchor="end" font-weight="normal" >30S</text>
<text x="79.50" y="1000.80" font-size="13.4" text-anchor="end" font-weight="normal" >0</text>
<text x="79.50" y="948.80" font-size="13.4" text-anchor="end" font-weight="normal" >30N</text>
<text x="79.50" y="896.80" font-size="13.4" text-anchor="end" font-weight="normal" >60N</text>
<text x="79.50" y="844.80" font-size="13.4" text-anchor="end" font-weight="normal" >90N</text>
<text x="156.00" y="831.50" font-size="16.7" text-anchor="middle" font-weight="normal" >Zonal mean</text>
<path d="M111.7,445.6 C111.7,448.0 111.3,455.6 111.7,460.0 C112.1,464.4 114.0,468.7 114.0,472.0 C114.0,475.3 112.7,477.6 112.0,480.0 C111.3,482.4 110.5,484.0 110.0,486.7 C109.5,489.4 108.6,492.9 108.7,496.0 C108.8,499.1 109.4,501.8 110.7,505.3 C112.0,508.9 114.7,513.5 116.7,517.3 C118.7,521.1 120.9,524.7 122.7,528.0 C124.5,531.3 126.2,534.0 127.3,537.3 C128.3,540.6 128.9,544.4 129.0,548.0 C129.1,551.6 128.7,555.6 128.0,558.7 C127.3,561.8 126.2,564.4 124.7,566.7 C123.2,569.0 121.2,570.7 119.3,572.7 C117.4,574.7 115.2,576.6 113.3,578.7 C111.4,580.8 109.2,582.9 108.0,585.3 C106.8,587.7 106.1,590.9 106.0,593.3 C105.9,595.7 106.2,597.9 107.2,599.8 C108.2,601.7 109.8,602.9 112.0,604.6 C114.2,606.3 117.1,607.9 120.3,610.1 C123.5,612.3 127.9,615.4 131.3,617.7 C134.7,620.0 138.2,621.7 140.9,623.9 C143.7,626.1 146.0,628.5 147.8,630.8 C149.6,633.1 151.0,635.1 151.9,637.6 C152.8,640.1 153.3,643.1 153.3,645.9 C153.3,648.6 152.8,650.9 151.9,654.1 C151.0,657.3 149.1,661.8 147.8,665.2 C146.5,668.7 145.3,671.1 144.3,674.8 C143.3,678.5 142.3,683.1 141.6,687.2 C140.8,691.3 140.3,695.1 139.8,699.5 C139.3,703.9 138.9,710.5 138.8,713.3 C138.8,716.0 138.5,715.1 139.5,716.0 C140.5,716.9 142.2,717.6 145.0,718.8 C147.8,719.9 152.1,721.6 156.0,722.9 C159.9,724.2 164.5,725.1 168.4,726.4 C172.3,727.7 176.7,729.2 179.4,730.5 C182.2,731.8 183.5,732.2 184.9,733.9 C186.3,735.6 186.8,739.0 187.7,740.8 C188.6,742.6 188.3,743.6 190.4,744.9 C192.5,746.2 196.8,747.4 200.0,748.4 C203.2,749.4 207.0,750.0 209.7,751.1 C212.3,752.2 214.9,754.5 215.9,755.2" fill="none" stroke="#ff0000" stroke-width="1.3"/><path d="M111.7,445.6 C111.7,448.0 111.3,455.6 111.7,460.0 C112.1,464.4 114.0,468.7 114.0,472.0 C114.0,475.3 112.7,477.6 112.0,480.0 C111.3,482.4 110.5,484.0 110.0,486.7 C109.5,489.4 108.6,492.9 108.7,496.0 C108.8,499.1 109.4,501.8 110.7,505.3 C112.0,508.9 114.7,513.5 116.7,517.3 C118.7,521.1 120.9,524.7 122.7,528.0 C124.5,531.3 126.2,534.0 127.3,537.3 C128.3,540.6 128.9,544.4 129.0,548.0 C129.1,551.6 128.7,555.6 128.0,558.7 C127.3,561.8 126.2,564.4 124.7,566.7 C123.2,569.0 121.2,570.7 119.3,572.7 C117.4,574.7 115.2,576.6 113.3,578.7 C111.4,580.8 109.2,582.9 108.0,585.3 C106.8,587.7 106.1,590.9 106.0,593.3 C105.9,595.7 106.2,597.9 107.2,599.8 C108.2,601.7 109.8,602.9 112.0,604.6 C114.2,606.3 117.1,607.9 120.3,610.1 C123.5,612.3 127.9,615.4 131.3,617.7 C134.7,620.0 138.2,621.7 140.9,623.9 C143.7,626.1 146.0,628.5 147.8,630.8 C149.6,633.1 151.0,635.1 151.9,637.6 C152.8,640.1 153.3,643.1 153.3,645.9 C153.3,648.6 152.8,650.9 151.9,654.1 C151.0,657.3 149.1,661.8 147.8,665.2 C146.5,668.7 145.3,671.1 144.3,674.8 C143.3,678.5 142.3,683.1 141.6,687.2 C140.8,691.3 140.3,695.1 139.8,699.5 C139.3,703.9 138.9,710.5 138.8,713.3 C138.8,716.0 138.5,715.1 139.5,716.0 C140.5,716.9 142.2,717.6 145.0,718.8 C147.8,719.9 152.1,721.6 156.0,722.9 C159.9,724.2 164.5,725.1 168.4,726.4 C172.3,727.7 176.7,729.2 179.4,730.5 C182.2,731.8 183.5,732.2 184.9,733.9 C186.3,735.6 186.8,739.0 187.7,740.8 C188.6,742.6 188.3,743.6 190.4,744.9 C192.5,746.2 196.8,747.4 200.0,748.4 C203.2,749.4 207.0,750.0 209.7,751.1 C212.3,752.2 214.9,754.5 215.9,755.2" fill="none" stroke="#000" stroke-width="1.3" stroke-dasharray="5,2"/>
<path d="M175.7,841.2 C175.4,842.5 174.4,846.6 173.9,848.8 C173.4,851.0 172.5,852.7 172.5,854.3 C172.5,855.9 173.3,856.4 173.9,858.4 C174.5,860.4 176.2,863.8 176.0,866.0 C175.8,868.2 173.7,869.7 172.5,871.5 C171.3,873.3 169.8,875.3 169.1,877.0 C168.4,878.7 168.2,880.2 168.4,881.8 C168.6,883.4 169.9,885.2 170.5,886.6 C171.1,888.0 171.8,888.8 171.8,890.0 C171.8,891.2 170.8,892.5 170.5,894.1 C170.2,895.7 169.7,897.5 169.8,899.6 C169.9,901.7 170.0,904.2 171.2,906.5 C172.3,908.8 175.0,911.3 176.7,913.4 C178.4,915.5 180.6,917.1 181.5,918.9 C182.4,920.7 182.3,922.3 182.2,924.4 C182.1,926.5 181.7,929.3 180.8,931.3 C179.9,933.2 178.5,934.6 176.7,936.1 C174.9,937.6 171.8,938.9 169.8,940.2 C167.9,941.5 166.3,942.2 165.0,943.7 C163.7,945.2 162.5,947.2 162.2,949.2 C161.8,951.2 163.1,954.3 162.9,956.0 C162.7,957.7 161.2,958.1 160.8,959.5 C160.4,960.9 160.0,962.6 160.2,964.3 C160.4,966.0 160.9,968.3 162.2,969.8 C163.4,971.3 165.8,972.2 167.7,973.2 C169.6,974.2 172.6,975.0 173.9,976.0 C175.2,977.0 175.5,977.9 175.3,979.4 C175.1,980.9 173.9,983.3 172.5,984.9 C171.1,986.5 169.8,987.7 167.0,989.1 C164.2,990.5 159.0,992.0 156.0,993.2 C153.0,994.5 150.9,995.4 149.1,996.6 C147.3,997.8 146.0,999.0 145.0,1000.5 C144.0,1002.0 142.5,1003.6 143.0,1005.3 C143.5,1007.0 145.4,1009.0 147.8,1010.8 C150.2,1012.6 155.0,1014.1 157.4,1016.3 C159.8,1018.5 161.0,1021.3 162.2,1023.9 C163.3,1026.5 164.1,1029.1 164.3,1032.1 C164.5,1035.1 163.9,1038.6 163.6,1041.8 C163.2,1045.0 162.5,1048.8 162.2,1051.4 C161.8,1054.0 161.2,1055.5 161.5,1057.6 C161.8,1059.7 163.0,1061.7 164.3,1063.8 C165.6,1065.9 166.6,1067.7 169.1,1070.0 C171.6,1072.3 176.1,1075.1 179.4,1077.5 C182.7,1079.9 186.1,1082.2 189.0,1084.4 C191.9,1086.6 195.1,1088.8 196.6,1090.6 C198.1,1092.4 197.9,1093.7 198.0,1095.4 C198.1,1097.1 197.0,1098.8 197.3,1100.9 C197.6,1103.0 200.0,1105.7 200.0,1107.8 C200.0,1109.9 199.6,1111.7 197.3,1113.3 C195.0,1114.9 191.1,1115.8 186.3,1117.4 C181.5,1119.0 174.1,1121.3 168.4,1122.9 C162.7,1124.5 158.1,1125.6 151.9,1127.0 C145.7,1128.4 137.7,1129.8 131.3,1131.2 C124.9,1132.6 117.2,1133.9 113.4,1135.3 C109.6,1136.7 108.6,1138.1 108.6,1139.4 C108.6,1140.7 110.5,1141.6 113.4,1142.9 C116.3,1144.2 121.6,1145.9 125.8,1147.0 C130.0,1148.1 136.6,1149.2 138.8,1149.7" fill="none" stroke="#ff0000" stroke-width="1.1"/><line x1="168" y1="840" x2="168" y2="1152" stroke="#000" stroke-width="1.3" stroke-dasharray="5,2"/>
</svg>
</body></html>
